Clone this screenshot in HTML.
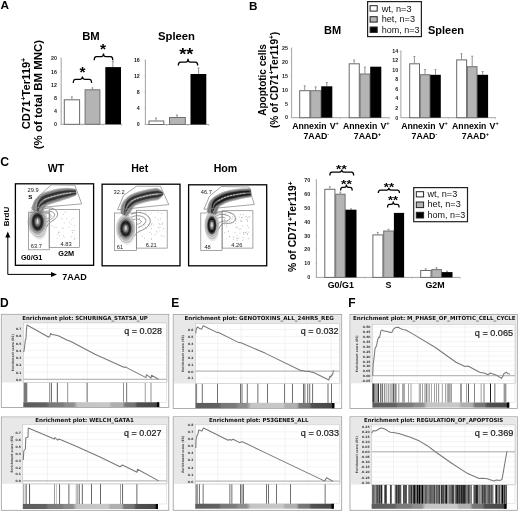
<!DOCTYPE html>
<html><head><meta charset="utf-8"><title>Figure</title>
<style>html,body{margin:0;padding:0;background:#fff;} svg{display:block;}</style>
</head><body>
<svg width="520" height="511" viewBox="0 0 520 511">
<defs><filter id="fb" x="-10%" y="-10%" width="120%" height="120%"><feGaussianBlur stdDeviation="0.45"/></filter></defs>
<rect width="520" height="511" fill="#fff"/>
<text x="0.6" y="9.3" font-size="11.8" font-weight="bold" text-anchor="start" fill="#000" font-family="'Liberation Sans', Arial, sans-serif" >A</text>
<text x="91" y="40" font-size="11.3" font-weight="bold" text-anchor="middle" fill="#000" font-family="'Liberation Sans', Arial, sans-serif" >BM</text>
<text x="176.5" y="40" font-size="11.3" font-weight="bold" text-anchor="middle" fill="#000" font-family="'Liberation Sans', Arial, sans-serif" >Spleen</text>
<text x="29.6" y="93.5" font-size="11.2" font-weight="bold" text-anchor="middle" fill="#000" font-family="'Liberation Sans', Arial, sans-serif" transform="rotate(-90 29.6 93.5)" >CD71<tspan font-size="7" dy="-4">+</tspan><tspan dy="4">Ter119</tspan><tspan font-size="7" dy="-4">+</tspan></text>
<text x="42" y="94.6" font-size="11.45" font-weight="bold" text-anchor="middle" fill="#000" font-family="'Liberation Sans', Arial, sans-serif" transform="rotate(-90 42 94.6)" >(% of total BM MNC)</text>
<line x1="61.20" y1="57.80" x2="61.20" y2="124.30" stroke="#999" stroke-width="0.9" />
<text x="56.900000000000006" y="126.14999999999999" font-size="5.3" font-weight="bold" text-anchor="end" fill="#222" font-family="'Liberation Sans', Arial, sans-serif" >0</text>
<line x1="60.00" y1="124.30" x2="61.20" y2="124.30" stroke="#bbb" stroke-width="0.6" />
<text x="56.900000000000006" y="113.00999999999999" font-size="5.3" font-weight="bold" text-anchor="end" fill="#222" font-family="'Liberation Sans', Arial, sans-serif" >4</text>
<line x1="60.00" y1="111.16" x2="61.20" y2="111.16" stroke="#bbb" stroke-width="0.6" />
<text x="56.900000000000006" y="99.87" font-size="5.3" font-weight="bold" text-anchor="end" fill="#222" font-family="'Liberation Sans', Arial, sans-serif" >8</text>
<line x1="60.00" y1="98.02" x2="61.20" y2="98.02" stroke="#bbb" stroke-width="0.6" />
<text x="56.900000000000006" y="86.72999999999999" font-size="5.3" font-weight="bold" text-anchor="end" fill="#222" font-family="'Liberation Sans', Arial, sans-serif" >12</text>
<line x1="60.00" y1="84.88" x2="61.20" y2="84.88" stroke="#bbb" stroke-width="0.6" />
<text x="56.900000000000006" y="73.59" font-size="5.3" font-weight="bold" text-anchor="end" fill="#222" font-family="'Liberation Sans', Arial, sans-serif" >16</text>
<line x1="60.00" y1="71.74" x2="61.20" y2="71.74" stroke="#bbb" stroke-width="0.6" />
<text x="56.900000000000006" y="60.45000000000001" font-size="5.3" font-weight="bold" text-anchor="end" fill="#222" font-family="'Liberation Sans', Arial, sans-serif" >20</text>
<line x1="60.00" y1="58.60" x2="61.20" y2="58.60" stroke="#bbb" stroke-width="0.6" />
<line x1="61.20" y1="124.30" x2="122.00" y2="124.30" stroke="#999" stroke-width="0.9" />
<line x1="82.10" y1="124.30" x2="82.10" y2="125.80" stroke="#aaa" stroke-width="0.6" />
<line x1="102.90" y1="124.30" x2="102.90" y2="125.80" stroke="#aaa" stroke-width="0.6" />
<line x1="121.80" y1="124.30" x2="121.80" y2="125.80" stroke="#aaa" stroke-width="0.6" />
<line x1="71.90" y1="96.80" x2="71.90" y2="99.30" stroke="#777" stroke-width="0.8" />
<line x1="70.90" y1="96.80" x2="72.90" y2="96.80" stroke="#777" stroke-width="0.7" />
<rect x="64.30" y="99.80" width="15.30" height="24.50" fill="#fff" stroke="#6a6a6a" stroke-width="1" />
<line x1="92.40" y1="87.80" x2="92.40" y2="89.30" stroke="#777" stroke-width="0.8" />
<line x1="91.40" y1="87.80" x2="93.40" y2="87.80" stroke="#777" stroke-width="0.7" />
<rect x="85.10" y="89.80" width="14.80" height="34.50" fill="#b4b4b4" stroke="#707070" stroke-width="1" />
<line x1="112.90" y1="61.40" x2="112.90" y2="67.10" stroke="#777" stroke-width="0.8" />
<line x1="111.90" y1="61.40" x2="113.90" y2="61.40" stroke="#777" stroke-width="0.7" />
<rect x="105.30" y="67.10" width="15.70" height="57.20" fill="#000" stroke="none" stroke-width="1" />
<text x="82.45" y="77.37" font-size="15.5" font-weight="bold" text-anchor="middle" fill="#000" font-family="'Liberation Sans', Arial, sans-serif" >*</text>
<path d="M73.3,83.1 Q73.3,79.3 75.5,79.3 L80.24999999999999,79.3 Q82.44999999999999,79.3 82.44999999999999,76.6 Q82.44999999999999,79.3 84.64999999999999,79.3 L89.39999999999999,79.3 Q91.6,79.3 91.6,83.1" fill="none" stroke="#000" stroke-width="1.25"/>
<text x="103" y="53.97" font-size="15.5" font-weight="bold" text-anchor="middle" fill="#000" font-family="'Liberation Sans', Arial, sans-serif" >*</text>
<path d="M94.2,60.2 Q94.2,56.7 96.4,56.7 L101.3,56.7 Q103.5,56.7 103.5,53.5 Q103.5,56.7 105.7,56.7 L110.6,56.7 Q112.8,56.7 112.8,60.2" fill="none" stroke="#000" stroke-width="1.25"/>
<line x1="145.40" y1="59.90" x2="145.40" y2="124.50" stroke="#999" stroke-width="0.9" />
<text x="139.8" y="126.35" font-size="5.3" font-weight="bold" text-anchor="end" fill="#222" font-family="'Liberation Sans', Arial, sans-serif" >0</text>
<line x1="144.20" y1="124.50" x2="145.40" y2="124.50" stroke="#bbb" stroke-width="0.6" />
<text x="139.8" y="110.225" font-size="5.3" font-weight="bold" text-anchor="end" fill="#222" font-family="'Liberation Sans', Arial, sans-serif" >4</text>
<line x1="144.20" y1="108.38" x2="145.40" y2="108.38" stroke="#bbb" stroke-width="0.6" />
<text x="139.8" y="94.1" font-size="5.3" font-weight="bold" text-anchor="end" fill="#222" font-family="'Liberation Sans', Arial, sans-serif" >8</text>
<line x1="144.20" y1="92.25" x2="145.40" y2="92.25" stroke="#bbb" stroke-width="0.6" />
<text x="139.8" y="77.975" font-size="5.3" font-weight="bold" text-anchor="end" fill="#222" font-family="'Liberation Sans', Arial, sans-serif" >12</text>
<line x1="144.20" y1="76.12" x2="145.40" y2="76.12" stroke="#bbb" stroke-width="0.6" />
<text x="139.8" y="61.85" font-size="5.3" font-weight="bold" text-anchor="end" fill="#222" font-family="'Liberation Sans', Arial, sans-serif" >16</text>
<line x1="144.20" y1="60.00" x2="145.40" y2="60.00" stroke="#bbb" stroke-width="0.6" />
<line x1="145.40" y1="124.50" x2="209.00" y2="124.50" stroke="#999" stroke-width="0.9" />
<line x1="166.60" y1="124.50" x2="166.60" y2="126.00" stroke="#aaa" stroke-width="0.6" />
<line x1="187.80" y1="124.50" x2="187.80" y2="126.00" stroke="#aaa" stroke-width="0.6" />
<line x1="208.80" y1="124.50" x2="208.80" y2="126.00" stroke="#aaa" stroke-width="0.6" />
<line x1="156.00" y1="118.00" x2="156.00" y2="120.50" stroke="#777" stroke-width="0.8" />
<line x1="155.00" y1="118.00" x2="157.00" y2="118.00" stroke="#777" stroke-width="0.7" />
<rect x="149.00" y="121.00" width="14.80" height="3.50" fill="#fff" stroke="#6a6a6a" stroke-width="1" />
<line x1="177.00" y1="115.00" x2="177.00" y2="117.00" stroke="#777" stroke-width="0.8" />
<line x1="176.00" y1="115.00" x2="178.00" y2="115.00" stroke="#777" stroke-width="0.7" />
<rect x="169.50" y="117.50" width="15.80" height="7.00" fill="#b4b4b4" stroke="#707070" stroke-width="1" />
<line x1="198.60" y1="68.00" x2="198.60" y2="74.00" stroke="#777" stroke-width="0.8" />
<line x1="197.60" y1="68.00" x2="199.60" y2="68.00" stroke="#777" stroke-width="0.7" />
<rect x="190.50" y="74.00" width="15.80" height="50.50" fill="#000" stroke="none" stroke-width="1" />
<text x="186.35" y="60.42" font-size="16" font-weight="bold" text-anchor="middle" fill="#000" font-family="'Liberation Sans', Arial, sans-serif" textLength="14.12" lengthAdjust="spacingAndGlyphs">**</text>
<path d="M178.3,65.5 Q178.3,62.2 180.5,62.2 L185.8,62.2 Q188.0,62.2 188.0,58.8 Q188.0,62.2 190.2,62.2 L195.5,62.2 Q197.7,62.2 197.7,65.5" fill="none" stroke="#000" stroke-width="1.25"/>
<text x="248.9" y="9.6" font-size="11.7" font-weight="bold" text-anchor="start" fill="#000" font-family="'Liberation Sans', Arial, sans-serif" >B</text>
<text x="332.5" y="34" font-size="11" font-weight="bold" text-anchor="middle" fill="#000" font-family="'Liberation Sans', Arial, sans-serif" >BM</text>
<text x="446" y="34" font-size="11" font-weight="bold" text-anchor="middle" fill="#000" font-family="'Liberation Sans', Arial, sans-serif" >Spleen</text>
<text x="266.1" y="79.9" font-size="10" font-weight="bold" text-anchor="middle" fill="#000" font-family="'Liberation Sans', Arial, sans-serif" transform="rotate(-90 266.1 79.9)" >Apoptotic cells</text>
<text x="277.8" y="79.9" font-size="10.2" font-weight="bold" text-anchor="middle" fill="#000" font-family="'Liberation Sans', Arial, sans-serif" transform="rotate(-90 277.8 79.9)" >(% of CD71<tspan font-size="6.5" dy="-3.5">+</tspan><tspan dy="3.5">Ter119</tspan><tspan font-size="6.5" dy="-3.5">+</tspan><tspan dy="3.5">)</tspan></text>
<line x1="291.60" y1="47.50" x2="291.60" y2="117.70" stroke="#999" stroke-width="0.9" />
<text x="288.0" y="119.44999999999999" font-size="5.3" font-weight="bold" text-anchor="end" fill="#222" font-family="'Liberation Sans', Arial, sans-serif" >0</text>
<line x1="290.40" y1="117.60" x2="291.60" y2="117.60" stroke="#bbb" stroke-width="0.6" />
<text x="288.0" y="105.63" font-size="5.3" font-weight="bold" text-anchor="end" fill="#222" font-family="'Liberation Sans', Arial, sans-serif" >5</text>
<line x1="290.40" y1="103.78" x2="291.60" y2="103.78" stroke="#bbb" stroke-width="0.6" />
<text x="288.0" y="91.80999999999999" font-size="5.3" font-weight="bold" text-anchor="end" fill="#222" font-family="'Liberation Sans', Arial, sans-serif" >10</text>
<line x1="290.40" y1="89.96" x2="291.60" y2="89.96" stroke="#bbb" stroke-width="0.6" />
<text x="288.0" y="77.98999999999998" font-size="5.3" font-weight="bold" text-anchor="end" fill="#222" font-family="'Liberation Sans', Arial, sans-serif" >15</text>
<line x1="290.40" y1="76.14" x2="291.60" y2="76.14" stroke="#bbb" stroke-width="0.6" />
<text x="288.0" y="64.16999999999999" font-size="5.3" font-weight="bold" text-anchor="end" fill="#222" font-family="'Liberation Sans', Arial, sans-serif" >20</text>
<line x1="290.40" y1="62.32" x2="291.60" y2="62.32" stroke="#bbb" stroke-width="0.6" />
<text x="288.0" y="50.35" font-size="5.3" font-weight="bold" text-anchor="end" fill="#222" font-family="'Liberation Sans', Arial, sans-serif" >25</text>
<line x1="290.40" y1="48.50" x2="291.60" y2="48.50" stroke="#bbb" stroke-width="0.6" />
<line x1="291.60" y1="117.70" x2="389.60" y2="117.70" stroke="#999" stroke-width="0.9" />
<line x1="340.40" y1="117.70" x2="340.40" y2="119.20" stroke="#aaa" stroke-width="0.6" />
<line x1="389.40" y1="117.70" x2="389.40" y2="119.20" stroke="#aaa" stroke-width="0.6" />
<line x1="304.70" y1="85.80" x2="304.70" y2="90.20" stroke="#777" stroke-width="0.8" />
<line x1="303.70" y1="85.80" x2="305.70" y2="85.80" stroke="#777" stroke-width="0.7" />
<rect x="299.70" y="90.70" width="10.20" height="27.00" fill="#fff" stroke="#6a6a6a" stroke-width="1" />
<line x1="315.70" y1="86.90" x2="315.70" y2="90.20" stroke="#777" stroke-width="0.8" />
<line x1="314.70" y1="86.90" x2="316.70" y2="86.90" stroke="#777" stroke-width="0.7" />
<rect x="310.70" y="90.70" width="10.20" height="27.00" fill="#b4b4b4" stroke="#707070" stroke-width="1" />
<line x1="326.80" y1="82.50" x2="326.80" y2="86.30" stroke="#777" stroke-width="0.8" />
<line x1="325.80" y1="82.50" x2="327.80" y2="82.50" stroke="#777" stroke-width="0.7" />
<rect x="321.20" y="86.30" width="11.10" height="31.40" fill="#000" stroke="none" stroke-width="1" />
<line x1="354.10" y1="60.00" x2="354.10" y2="63.30" stroke="#777" stroke-width="0.8" />
<line x1="353.10" y1="60.00" x2="355.10" y2="60.00" stroke="#777" stroke-width="0.7" />
<rect x="349.20" y="63.80" width="10.10" height="53.90" fill="#fff" stroke="#6a6a6a" stroke-width="1" />
<line x1="364.90" y1="67.10" x2="364.90" y2="73.50" stroke="#777" stroke-width="0.8" />
<line x1="363.90" y1="67.10" x2="365.90" y2="67.10" stroke="#777" stroke-width="0.7" />
<rect x="360.10" y="74.00" width="9.80" height="43.70" fill="#b4b4b4" stroke="#707070" stroke-width="1" />
<rect x="370.20" y="66.70" width="11.10" height="51.00" fill="#000" stroke="none" stroke-width="1" />
<line x1="400.90" y1="50.50" x2="400.90" y2="117.70" stroke="#999" stroke-width="0.9" />
<text x="398.09999999999997" y="119.55" font-size="5.3" font-weight="bold" text-anchor="end" fill="#222" font-family="'Liberation Sans', Arial, sans-serif" >0</text>
<line x1="399.70" y1="117.70" x2="400.90" y2="117.70" stroke="#bbb" stroke-width="0.6" />
<text x="398.09999999999997" y="110.02142857142857" font-size="5.3" font-weight="bold" text-anchor="end" fill="#222" font-family="'Liberation Sans', Arial, sans-serif" >2</text>
<line x1="399.70" y1="108.17" x2="400.90" y2="108.17" stroke="#bbb" stroke-width="0.6" />
<text x="398.09999999999997" y="100.49285714285713" font-size="5.3" font-weight="bold" text-anchor="end" fill="#222" font-family="'Liberation Sans', Arial, sans-serif" >4</text>
<line x1="399.70" y1="98.64" x2="400.90" y2="98.64" stroke="#bbb" stroke-width="0.6" />
<text x="398.09999999999997" y="90.96428571428571" font-size="5.3" font-weight="bold" text-anchor="end" fill="#222" font-family="'Liberation Sans', Arial, sans-serif" >6</text>
<line x1="399.70" y1="89.11" x2="400.90" y2="89.11" stroke="#bbb" stroke-width="0.6" />
<text x="398.09999999999997" y="81.43571428571428" font-size="5.3" font-weight="bold" text-anchor="end" fill="#222" font-family="'Liberation Sans', Arial, sans-serif" >8</text>
<line x1="399.70" y1="79.59" x2="400.90" y2="79.59" stroke="#bbb" stroke-width="0.6" />
<text x="398.09999999999997" y="71.90714285714284" font-size="5.3" font-weight="bold" text-anchor="end" fill="#222" font-family="'Liberation Sans', Arial, sans-serif" >10</text>
<line x1="399.70" y1="70.06" x2="400.90" y2="70.06" stroke="#bbb" stroke-width="0.6" />
<text x="398.09999999999997" y="62.378571428571426" font-size="5.3" font-weight="bold" text-anchor="end" fill="#222" font-family="'Liberation Sans', Arial, sans-serif" >12</text>
<line x1="399.70" y1="60.53" x2="400.90" y2="60.53" stroke="#bbb" stroke-width="0.6" />
<text x="398.09999999999997" y="52.85" font-size="5.3" font-weight="bold" text-anchor="end" fill="#222" font-family="'Liberation Sans', Arial, sans-serif" >14</text>
<line x1="399.70" y1="51.00" x2="400.90" y2="51.00" stroke="#bbb" stroke-width="0.6" />
<line x1="400.90" y1="117.70" x2="495.80" y2="117.70" stroke="#999" stroke-width="0.9" />
<line x1="448.40" y1="117.70" x2="448.40" y2="119.20" stroke="#aaa" stroke-width="0.6" />
<line x1="495.60" y1="117.70" x2="495.60" y2="119.20" stroke="#aaa" stroke-width="0.6" />
<line x1="414.40" y1="56.50" x2="414.40" y2="63.30" stroke="#777" stroke-width="0.8" />
<line x1="413.40" y1="56.50" x2="415.40" y2="56.50" stroke="#777" stroke-width="0.7" />
<rect x="409.70" y="63.80" width="9.80" height="53.90" fill="#fff" stroke="#6a6a6a" stroke-width="1" />
<line x1="425.00" y1="69.60" x2="425.00" y2="74.20" stroke="#777" stroke-width="0.8" />
<line x1="424.00" y1="69.60" x2="426.00" y2="69.60" stroke="#777" stroke-width="0.7" />
<rect x="420.30" y="74.70" width="9.60" height="43.00" fill="#b4b4b4" stroke="#707070" stroke-width="1" />
<line x1="435.50" y1="69.60" x2="435.50" y2="74.80" stroke="#777" stroke-width="0.8" />
<line x1="434.50" y1="69.60" x2="436.50" y2="69.60" stroke="#777" stroke-width="0.7" />
<rect x="430.20" y="74.80" width="10.60" height="42.90" fill="#000" stroke="none" stroke-width="1" />
<line x1="461.50" y1="53.70" x2="461.50" y2="59.40" stroke="#777" stroke-width="0.8" />
<line x1="460.50" y1="53.70" x2="462.50" y2="53.70" stroke="#777" stroke-width="0.7" />
<rect x="456.70" y="59.90" width="9.90" height="57.80" fill="#fff" stroke="#6a6a6a" stroke-width="1" />
<line x1="472.20" y1="56.20" x2="472.20" y2="66.20" stroke="#777" stroke-width="0.8" />
<line x1="471.20" y1="56.20" x2="473.20" y2="56.20" stroke="#777" stroke-width="0.7" />
<rect x="467.40" y="66.70" width="9.60" height="51.00" fill="#b4b4b4" stroke="#707070" stroke-width="1" />
<line x1="482.70" y1="71.50" x2="482.70" y2="74.80" stroke="#777" stroke-width="0.8" />
<line x1="481.70" y1="71.50" x2="483.70" y2="71.50" stroke="#777" stroke-width="0.7" />
<rect x="477.30" y="74.80" width="10.80" height="42.90" fill="#000" stroke="none" stroke-width="1" />
<text x="292.2" y="128.5" font-size="8.8" font-weight="bold" text-anchor="start" fill="#000" font-family="'Liberation Sans', Arial, sans-serif" textLength="34.3" lengthAdjust="spacingAndGlyphs">Annexin</text>
<text x="329.7" y="128.5" font-size="8.8" font-weight="bold" text-anchor="start" fill="#000" font-family="'Liberation Sans', Arial, sans-serif" >V<tspan font-size="5.6" dy="-3.4">+</tspan></text>
<text x="303.4" y="139.1" font-size="8.8" font-weight="bold" text-anchor="start" fill="#000" font-family="'Liberation Sans', Arial, sans-serif" >7AAD<tspan font-size="5.6" dy="-3.4">-</tspan></text>
<text x="342.9" y="128.5" font-size="8.8" font-weight="bold" text-anchor="start" fill="#000" font-family="'Liberation Sans', Arial, sans-serif" textLength="34.3" lengthAdjust="spacingAndGlyphs">Annexin</text>
<text x="380.4" y="128.5" font-size="8.8" font-weight="bold" text-anchor="start" fill="#000" font-family="'Liberation Sans', Arial, sans-serif" >V<tspan font-size="5.6" dy="-3.4">+</tspan></text>
<text x="353.8" y="139.1" font-size="8.8" font-weight="bold" text-anchor="start" fill="#000" font-family="'Liberation Sans', Arial, sans-serif" >7AAD<tspan font-size="5.6" dy="-3.4">+</tspan></text>
<text x="401.2" y="128.5" font-size="8.8" font-weight="bold" text-anchor="start" fill="#000" font-family="'Liberation Sans', Arial, sans-serif" textLength="34.3" lengthAdjust="spacingAndGlyphs">Annexin</text>
<text x="438.7" y="128.5" font-size="8.8" font-weight="bold" text-anchor="start" fill="#000" font-family="'Liberation Sans', Arial, sans-serif" >V<tspan font-size="5.6" dy="-3.4">+</tspan></text>
<text x="411.5" y="139.1" font-size="8.8" font-weight="bold" text-anchor="start" fill="#000" font-family="'Liberation Sans', Arial, sans-serif" >7AAD<tspan font-size="5.6" dy="-3.4">-</tspan></text>
<text x="452.1" y="128.5" font-size="8.8" font-weight="bold" text-anchor="start" fill="#000" font-family="'Liberation Sans', Arial, sans-serif" textLength="34.3" lengthAdjust="spacingAndGlyphs">Annexin</text>
<text x="489.6" y="128.5" font-size="8.8" font-weight="bold" text-anchor="start" fill="#000" font-family="'Liberation Sans', Arial, sans-serif" >V<tspan font-size="5.6" dy="-3.4">+</tspan></text>
<text x="461.8" y="139.1" font-size="8.8" font-weight="bold" text-anchor="start" fill="#000" font-family="'Liberation Sans', Arial, sans-serif" >7AAD<tspan font-size="5.6" dy="-3.4">+</tspan></text>
<rect x="367.60" y="1.60" width="53.80" height="35.00" fill="#fff" stroke="#222" stroke-width="1.2" />
<rect x="370.10" y="5.70" width="7.10" height="5.40" fill="#fff" stroke="#222" stroke-width="1" />
<text x="381.70000000000005" y="11.5" font-size="8.6" font-weight="normal" text-anchor="start" fill="#111" font-family="'Liberation Sans', Arial, sans-serif" textLength="29.8" lengthAdjust="spacingAndGlyphs">wt, n=3</text>
<rect x="370.10" y="16.70" width="7.10" height="5.40" fill="#b4b4b4" stroke="#222" stroke-width="1" />
<text x="381.70000000000005" y="21.9" font-size="8.6" font-weight="normal" text-anchor="start" fill="#111" font-family="'Liberation Sans', Arial, sans-serif" textLength="33.3" lengthAdjust="spacingAndGlyphs">het, n=3</text>
<rect x="370.10" y="27.00" width="7.10" height="5.40" fill="#000" stroke="#222" stroke-width="1" />
<text x="381.70000000000005" y="32.6" font-size="8.6" font-weight="normal" text-anchor="start" fill="#111" font-family="'Liberation Sans', Arial, sans-serif" textLength="37.8" lengthAdjust="spacingAndGlyphs">hom, n=3</text>
<text x="0.2" y="165.8" font-size="12.2" font-weight="bold" text-anchor="start" fill="#000" font-family="'Liberation Sans', Arial, sans-serif" >C</text>
<text x="56" y="172.3" font-size="10.6" font-weight="bold" text-anchor="middle" fill="#000" font-family="'Liberation Sans', Arial, sans-serif" >WT</text>
<text x="139.7" y="172.2" font-size="10.6" font-weight="bold" text-anchor="middle" fill="#000" font-family="'Liberation Sans', Arial, sans-serif" >Het</text>
<text x="225.5" y="172.2" font-size="10.6" font-weight="bold" text-anchor="middle" fill="#000" font-family="'Liberation Sans', Arial, sans-serif" >Hom</text>
<rect x="15.40" y="183.80" width="78.20" height="81.50" fill="#fff" stroke="#000" stroke-width="1.3" />
<g filter="url(#fb)">
<circle cx="72.6" cy="232.7" r="0.45" fill="#8a8a8a"/>
<circle cx="61.9" cy="218.8" r="0.45" fill="#8a8a8a"/>
<circle cx="64.2" cy="222.9" r="0.45" fill="#8a8a8a"/>
<circle cx="71.1" cy="220.1" r="0.45" fill="#8a8a8a"/>
<circle cx="63.3" cy="227.9" r="0.45" fill="#8a8a8a"/>
<circle cx="74.3" cy="225.7" r="0.45" fill="#8a8a8a"/>
<circle cx="58.4" cy="232.7" r="0.45" fill="#8a8a8a"/>
<circle cx="66.9" cy="218.6" r="0.45" fill="#8a8a8a"/>
<circle cx="74.3" cy="239.0" r="0.45" fill="#8a8a8a"/>
<circle cx="71.8" cy="236.8" r="0.45" fill="#8a8a8a"/>
<circle cx="59.1" cy="232.0" r="0.45" fill="#8a8a8a"/>
<circle cx="74.0" cy="230.7" r="0.45" fill="#8a8a8a"/>
<circle cx="63.2" cy="214.4" r="0.45" fill="#8a8a8a"/>
<circle cx="62.2" cy="228.6" r="0.45" fill="#8a8a8a"/>
<circle cx="74.4" cy="238.6" r="0.45" fill="#8a8a8a"/>
<circle cx="63.3" cy="235.7" r="0.45" fill="#8a8a8a"/>
<circle cx="57.8" cy="234.1" r="0.45" fill="#8a8a8a"/>
<circle cx="65.1" cy="212.0" r="0.45" fill="#8a8a8a"/>
<circle cx="69.5" cy="222.7" r="0.45" fill="#8a8a8a"/>
<circle cx="72.2" cy="230.2" r="0.45" fill="#8a8a8a"/>
<circle cx="51.2" cy="225.4" r="0.45" fill="#8a8a8a"/>
<circle cx="73.2" cy="218.4" r="0.45" fill="#8a8a8a"/>
<circle cx="59.5" cy="235.9" r="0.45" fill="#8a8a8a"/>
<circle cx="56.1" cy="227.4" r="0.45" fill="#8a8a8a"/>
<circle cx="57.3" cy="238.6" r="0.45" fill="#8a8a8a"/>
<circle cx="71.6" cy="224.1" r="0.45" fill="#8a8a8a"/>
<circle cx="53.2" cy="220.5" r="0.45" fill="#8a8a8a"/>
<circle cx="64.1" cy="237.6" r="0.45" fill="#8a8a8a"/>
<circle cx="54.0" cy="227.0" r="0.45" fill="#8a8a8a"/>
<circle cx="69.1" cy="226.9" r="0.45" fill="#8a8a8a"/>
<path d="M42,210 C48,206.5 56,207.5 57.5,213 C58.5,218 53,220 50,222.5 C47,224.5 46,229 43,234" fill="none" stroke="#6e6e6e" stroke-width="0.75"/>
<path d="M42,212.5 C47,210 53,211 54.5,214 C55.5,217 51,219 48,221 C46,222.5 45,226 43,229.5" fill="none" stroke="#777" stroke-width="0.75"/>
<path d="M42,214.5 C45,213 50,213 51,215.5 C52,217.5 48,218.5 45.5,219.5" fill="none" stroke="#888" stroke-width="0.75"/>
<path d="M36,209 C38,206 41,205 44,207" fill="none" stroke="#888" stroke-width="0.75"/>
<ellipse cx="39.5" cy="230" rx="7.50" ry="10.00" fill="#ececec"/>
<ellipse cx="39.5" cy="230" rx="6.00" ry="8.00" fill="#d0d0d0"/>
<ellipse cx="39.5" cy="230" rx="4.50" ry="6.00" fill="#b4b4b4"/>
<ellipse cx="37.6" cy="221.8" rx="9.60" ry="14.80" fill="#ececec" stroke="#8a8a8a" stroke-width="0.5"/>
<ellipse cx="37.6" cy="221.8" rx="8.45" ry="13.02" fill="#d2d2d2" stroke="#8a8a8a" stroke-width="0.5"/>
<ellipse cx="37.6" cy="221.8" rx="7.49" ry="11.54" fill="#ababab" stroke="#666" stroke-width="0.5"/>
<ellipse cx="37.6" cy="221.8" rx="6.53" ry="10.06" fill="#6a6a6a"/>
<ellipse cx="37.6" cy="221.8" rx="5.57" ry="8.58" fill="#2e2e2e"/>
<ellipse cx="37.6" cy="221.8" rx="4.61" ry="7.10" fill="#1c1c1c"/>
<ellipse cx="37.6" cy="221.8" rx="3.65" ry="5.62" fill="#444"/>
<ellipse cx="37.6" cy="221.8" rx="2.69" ry="4.14" fill="#777"/>
<ellipse cx="37.6" cy="221.8" rx="1.63" ry="2.52" fill="#aaa"/>
<path d="M42.89,212.53 L43.04,212.16 L43.22,211.67 L43.40,211.17 L43.59,210.64 L43.78,210.08 L43.98,209.53 L44.18,208.99 L44.38,208.48 L44.58,208.03 L44.76,207.68 L44.90,207.46 L44.99,207.38 L45.05,207.31 L45.14,207.21 L45.23,207.11 L45.34,207.00 L45.46,206.89 L45.60,206.76 L45.77,206.63 L45.96,206.47 L46.18,206.31 L46.42,206.12 L46.70,205.91 L47.02,205.68 L47.33,205.43 L47.59,205.22 L47.75,205.09 L47.84,205.02 L47.87,205.00 L47.87,205.00 L47.89,204.99 L47.97,204.95 L48.13,204.87 L48.41,204.75 L48.79,204.60 L49.28,204.42 L49.88,204.18 L50.60,203.91 L51.42,203.62 L52.33,203.31 L53.29,202.99 L54.28,202.66 L55.31,202.34 L56.33,202.02 L57.33,201.72 L58.31,201.43 L59.23,201.16 L60.07,200.92 L60.84,200.64 L61.59,200.37 L62.34,200.12 L63.07,199.87 L63.80,199.64 L64.53,199.41 L65.25,199.19 L65.96,198.97 L66.67,198.76 L67.38,198.55 L68.09,198.34 L68.79,198.14 L69.45,197.85 L70.13,197.56 L70.84,197.28 L71.55,197.00 L72.26,196.73 L72.95,196.46 L73.62,196.20 L74.24,195.94 L74.82,195.69 L75.33,195.45 L75.78,195.21 L76.14,194.98 L75.46,189.42 L75.07,189.28 L74.60,189.15 L74.05,189.03 L73.43,188.92 L72.75,188.81 L72.02,188.72 L71.26,188.62 L70.46,188.54 L69.65,188.46 L68.83,188.39 L68.01,188.32 L67.21,188.26 L66.46,188.29 L65.72,188.32 L64.95,188.35 L64.17,188.39 L63.36,188.44 L62.54,188.49 L61.69,188.55 L60.82,188.63 L59.93,188.72 L59.02,188.82 L58.08,188.94 L57.13,189.08 L56.16,189.30 L55.13,189.55 L54.06,189.81 L52.97,190.09 L51.86,190.38 L50.75,190.67 L49.66,190.97 L48.60,191.27 L47.58,191.56 L46.62,191.85 L45.73,192.12 L44.92,192.38 L44.20,192.65 L43.56,192.91 L42.95,193.17 L42.36,193.44 L41.79,193.73 L41.23,194.05 L40.72,194.38 L40.26,194.71 L39.87,195.00 L39.54,195.26 L39.26,195.49 L38.98,195.72 L38.66,196.00 L38.30,196.31 L37.92,196.66 L37.51,197.04 L37.08,197.45 L36.64,197.91 L36.18,198.41 L35.73,198.95 L35.28,199.54 L34.84,200.18 L34.42,200.86 L34.01,201.62 L33.65,202.48 L33.36,203.33 L33.12,204.14 L32.92,204.94 L32.74,205.71 L32.59,206.45 L32.45,207.15 L32.34,207.79 L32.25,208.37 L32.18,208.85 L32.14,209.20 L32.11,209.47 Z" fill="#dadada" stroke="none"/>
<path d="M42.89,212.53 L43.04,212.16 L43.22,211.67 L43.40,211.17 L43.59,210.64 L43.78,210.08 L43.98,209.53 L44.18,208.99 L44.38,208.48 L44.58,208.03 L44.76,207.68 L44.90,207.46 L44.99,207.38 L45.05,207.31 L45.14,207.21 L45.23,207.11 L45.34,207.00 L45.46,206.89 L45.60,206.76 L45.77,206.63 L45.96,206.47 L46.18,206.31 L46.42,206.12 L46.70,205.91 L47.02,205.68 L47.33,205.43 L47.59,205.22 L47.75,205.09 L47.84,205.02 L47.87,205.00 L47.87,205.00 L47.89,204.99 L47.97,204.95 L48.13,204.87 L48.41,204.75 L48.79,204.60 L49.28,204.42 L49.88,204.18 L50.60,203.91 L51.42,203.62 L52.33,203.31 L53.29,202.99 L54.28,202.66 L55.31,202.34 L56.33,202.02 L57.33,201.72 L58.31,201.43 L59.23,201.16 L60.07,200.92 L60.84,200.64 L61.59,200.37 L62.34,200.12 L63.07,199.87 L63.80,199.64 L64.53,199.41 L65.25,199.19 L65.96,198.97 L66.67,198.76 L67.38,198.55 L68.09,198.34 L68.79,198.14 L69.45,197.85 L70.13,197.56 L70.84,197.28 L71.55,197.00 L72.26,196.73 L72.95,196.46 L73.62,196.20 L74.24,195.94 L74.82,195.69 L75.33,195.45 L75.78,195.21 L76.14,194.98 L75.46,189.42 L75.07,189.28 L74.60,189.15 L74.05,189.03 L73.43,188.92 L72.75,188.81 L72.02,188.72 L71.26,188.62 L70.46,188.54 L69.65,188.46 L68.83,188.39 L68.01,188.32 L67.21,188.26 L66.46,188.29 L65.72,188.32 L64.95,188.35 L64.17,188.39 L63.36,188.44 L62.54,188.49 L61.69,188.55 L60.82,188.63 L59.93,188.72 L59.02,188.82 L58.08,188.94 L57.13,189.08 L56.16,189.30 L55.13,189.55 L54.06,189.81 L52.97,190.09 L51.86,190.38 L50.75,190.67 L49.66,190.97 L48.60,191.27 L47.58,191.56 L46.62,191.85 L45.73,192.12 L44.92,192.38 L44.20,192.65 L43.56,192.91 L42.95,193.17 L42.36,193.44 L41.79,193.73 L41.23,194.05 L40.72,194.38 L40.26,194.71 L39.87,195.00 L39.54,195.26 L39.26,195.49 L38.98,195.72 L38.66,196.00 L38.30,196.31 L37.92,196.66 L37.51,197.04 L37.08,197.45 L36.64,197.91 L36.18,198.41 L35.73,198.95 L35.28,199.54 L34.84,200.18 L34.42,200.86 L34.01,201.62 L33.65,202.48 L33.36,203.33 L33.12,204.14 L32.92,204.94 L32.74,205.71 L32.59,206.45 L32.45,207.15 L32.34,207.79 L32.25,208.37 L32.18,208.85 L32.14,209.20 L32.11,209.47 Z" fill="none" stroke="#8a8a8a" stroke-width="0.5"/>
<path d="M42.24,212.35 L42.39,211.98 L42.56,211.50 L42.73,211.00 L42.91,210.47 L43.10,209.91 L43.29,209.34 L43.49,208.79 L43.69,208.27 L43.89,207.80 L44.07,207.41 L44.22,207.16 L44.33,207.03 L44.41,206.92 L44.52,206.79 L44.63,206.65 L44.76,206.52 L44.90,206.38 L45.06,206.23 L45.25,206.08 L45.45,205.91 L45.68,205.73 L45.94,205.53 L46.22,205.32 L46.54,205.08 L46.85,204.83 L47.10,204.62 L47.28,204.48 L47.38,204.40 L47.44,204.36 L47.47,204.34 L47.52,204.31 L47.63,204.26 L47.82,204.17 L48.12,204.04 L48.52,203.88 L49.02,203.69 L49.63,203.45 L50.36,203.19 L51.19,202.89 L52.10,202.59 L53.07,202.27 L54.07,201.94 L55.10,201.62 L56.13,201.31 L57.14,201.00 L58.12,200.72 L59.04,200.45 L59.89,200.21 L60.67,199.94 L61.44,199.68 L62.19,199.43 L62.94,199.20 L63.68,198.97 L64.41,198.75 L65.13,198.54 L65.85,198.34 L66.57,198.14 L67.28,197.94 L68.00,197.74 L68.69,197.55 L69.37,197.28 L70.06,197.01 L70.77,196.75 L71.49,196.49 L72.20,196.24 L72.90,196.00 L73.56,195.75 L74.19,195.52 L74.77,195.29 L75.29,195.07 L75.74,194.85 L76.10,194.65 L75.50,189.75 L75.12,189.64 L74.65,189.53 L74.10,189.43 L73.48,189.34 L72.80,189.26 L72.08,189.18 L71.32,189.11 L70.53,189.05 L69.72,188.99 L68.91,188.94 L68.10,188.89 L67.31,188.85 L66.56,188.89 L65.82,188.93 L65.05,188.98 L64.27,189.03 L63.47,189.08 L62.66,189.15 L61.82,189.22 L60.96,189.30 L60.08,189.40 L59.17,189.52 L58.25,189.64 L57.31,189.79 L56.34,190.01 L55.32,190.26 L54.26,190.52 L53.17,190.80 L52.07,191.09 L50.96,191.39 L49.88,191.69 L48.82,191.99 L47.81,192.29 L46.86,192.57 L45.98,192.85 L45.18,193.11 L44.48,193.37 L43.85,193.62 L43.26,193.87 L42.69,194.13 L42.15,194.41 L41.63,194.71 L41.15,195.02 L40.71,195.33 L40.34,195.61 L40.02,195.86 L39.75,196.09 L39.46,196.32 L39.14,196.59 L38.79,196.90 L38.41,197.24 L38.02,197.60 L37.60,198.00 L37.17,198.44 L36.74,198.92 L36.31,199.44 L35.88,200.00 L35.46,200.60 L35.06,201.25 L34.67,201.97 L34.32,202.78 L34.04,203.59 L33.81,204.38 L33.60,205.15 L33.43,205.90 L33.27,206.63 L33.13,207.32 L33.01,207.96 L32.92,208.54 L32.84,209.02 L32.79,209.38 L32.76,209.65 Z" fill="#bebebe" stroke="none"/>
<path d="M42.24,212.35 L42.39,211.98 L42.56,211.50 L42.73,211.00 L42.91,210.47 L43.10,209.91 L43.29,209.34 L43.49,208.79 L43.69,208.27 L43.89,207.80 L44.07,207.41 L44.22,207.16 L44.33,207.03 L44.41,206.92 L44.52,206.79 L44.63,206.65 L44.76,206.52 L44.90,206.38 L45.06,206.23 L45.25,206.08 L45.45,205.91 L45.68,205.73 L45.94,205.53 L46.22,205.32 L46.54,205.08 L46.85,204.83 L47.10,204.62 L47.28,204.48 L47.38,204.40 L47.44,204.36 L47.47,204.34 L47.52,204.31 L47.63,204.26 L47.82,204.17 L48.12,204.04 L48.52,203.88 L49.02,203.69 L49.63,203.45 L50.36,203.19 L51.19,202.89 L52.10,202.59 L53.07,202.27 L54.07,201.94 L55.10,201.62 L56.13,201.31 L57.14,201.00 L58.12,200.72 L59.04,200.45 L59.89,200.21 L60.67,199.94 L61.44,199.68 L62.19,199.43 L62.94,199.20 L63.68,198.97 L64.41,198.75 L65.13,198.54 L65.85,198.34 L66.57,198.14 L67.28,197.94 L68.00,197.74 L68.69,197.55 L69.37,197.28 L70.06,197.01 L70.77,196.75 L71.49,196.49 L72.20,196.24 L72.90,196.00 L73.56,195.75 L74.19,195.52 L74.77,195.29 L75.29,195.07 L75.74,194.85 L76.10,194.65 L75.50,189.75 L75.12,189.64 L74.65,189.53 L74.10,189.43 L73.48,189.34 L72.80,189.26 L72.08,189.18 L71.32,189.11 L70.53,189.05 L69.72,188.99 L68.91,188.94 L68.10,188.89 L67.31,188.85 L66.56,188.89 L65.82,188.93 L65.05,188.98 L64.27,189.03 L63.47,189.08 L62.66,189.15 L61.82,189.22 L60.96,189.30 L60.08,189.40 L59.17,189.52 L58.25,189.64 L57.31,189.79 L56.34,190.01 L55.32,190.26 L54.26,190.52 L53.17,190.80 L52.07,191.09 L50.96,191.39 L49.88,191.69 L48.82,191.99 L47.81,192.29 L46.86,192.57 L45.98,192.85 L45.18,193.11 L44.48,193.37 L43.85,193.62 L43.26,193.87 L42.69,194.13 L42.15,194.41 L41.63,194.71 L41.15,195.02 L40.71,195.33 L40.34,195.61 L40.02,195.86 L39.75,196.09 L39.46,196.32 L39.14,196.59 L38.79,196.90 L38.41,197.24 L38.02,197.60 L37.60,198.00 L37.17,198.44 L36.74,198.92 L36.31,199.44 L35.88,200.00 L35.46,200.60 L35.06,201.25 L34.67,201.97 L34.32,202.78 L34.04,203.59 L33.81,204.38 L33.60,205.15 L33.43,205.90 L33.27,206.63 L33.13,207.32 L33.01,207.96 L32.92,208.54 L32.84,209.02 L32.79,209.38 L32.76,209.65 Z" fill="none" stroke="#777" stroke-width="0.5"/>
<path d="M41.59,212.17 L41.74,211.80 L41.90,211.33 L42.06,210.83 L42.24,210.29 L42.42,209.73 L42.61,209.16 L42.81,208.59 L43.01,208.05 L43.20,207.56 L43.39,207.15 L43.55,206.86 L43.67,206.69 L43.78,206.53 L43.90,206.36 L44.04,206.20 L44.18,206.04 L44.35,205.87 L44.53,205.70 L44.72,205.53 L44.94,205.34 L45.19,205.15 L45.45,204.94 L45.74,204.72 L46.06,204.48 L46.36,204.23 L46.62,204.03 L46.81,203.88 L46.93,203.78 L47.01,203.73 L47.07,203.68 L47.16,203.64 L47.29,203.56 L47.51,203.46 L47.82,203.33 L48.24,203.17 L48.76,202.97 L49.39,202.73 L50.12,202.46 L50.96,202.17 L51.88,201.86 L52.85,201.55 L53.86,201.23 L54.89,200.91 L55.92,200.59 L56.94,200.29 L57.93,200.00 L58.86,199.74 L59.72,199.50 L60.51,199.24 L61.28,198.99 L62.05,198.75 L62.80,198.52 L63.55,198.31 L64.29,198.10 L65.02,197.90 L65.75,197.70 L66.47,197.51 L67.18,197.32 L67.90,197.14 L68.60,196.95 L69.28,196.70 L69.98,196.46 L70.70,196.22 L71.42,195.99 L72.14,195.76 L72.84,195.53 L73.51,195.31 L74.14,195.10 L74.73,194.89 L75.25,194.69 L75.70,194.50 L76.06,194.31 L75.54,190.09 L75.16,189.99 L74.69,189.91 L74.15,189.83 L73.53,189.76 L72.86,189.70 L72.14,189.64 L71.38,189.60 L70.59,189.55 L69.79,189.52 L68.99,189.49 L68.18,189.47 L67.40,189.45 L66.66,189.50 L65.92,189.55 L65.16,189.60 L64.38,189.66 L63.59,189.73 L62.77,189.80 L61.94,189.88 L61.09,189.98 L60.22,190.09 L59.33,190.21 L58.42,190.35 L57.48,190.50 L56.53,190.72 L55.51,190.97 L54.46,191.24 L53.37,191.52 L52.27,191.81 L51.18,192.11 L50.10,192.41 L49.05,192.71 L48.04,193.01 L47.10,193.30 L46.23,193.57 L45.44,193.83 L44.75,194.08 L44.14,194.33 L43.57,194.57 L43.03,194.82 L42.52,195.08 L42.03,195.37 L41.57,195.66 L41.17,195.94 L40.81,196.21 L40.51,196.46 L40.23,196.68 L39.94,196.92 L39.63,197.19 L39.28,197.49 L38.91,197.81 L38.52,198.17 L38.12,198.55 L37.71,198.97 L37.30,199.43 L36.88,199.92 L36.47,200.45 L36.08,201.02 L35.70,201.63 L35.33,202.31 L35.00,203.08 L34.72,203.85 L34.49,204.61 L34.29,205.36 L34.11,206.10 L33.95,206.82 L33.81,207.50 L33.69,208.13 L33.59,208.70 L33.50,209.19 L33.45,209.55 L33.41,209.83 Z" fill="#949494" stroke="none"/>
<path d="M41.59,212.17 L41.74,211.80 L41.90,211.33 L42.06,210.83 L42.24,210.29 L42.42,209.73 L42.61,209.16 L42.81,208.59 L43.01,208.05 L43.20,207.56 L43.39,207.15 L43.55,206.86 L43.67,206.69 L43.78,206.53 L43.90,206.36 L44.04,206.20 L44.18,206.04 L44.35,205.87 L44.53,205.70 L44.72,205.53 L44.94,205.34 L45.19,205.15 L45.45,204.94 L45.74,204.72 L46.06,204.48 L46.36,204.23 L46.62,204.03 L46.81,203.88 L46.93,203.78 L47.01,203.73 L47.07,203.68 L47.16,203.64 L47.29,203.56 L47.51,203.46 L47.82,203.33 L48.24,203.17 L48.76,202.97 L49.39,202.73 L50.12,202.46 L50.96,202.17 L51.88,201.86 L52.85,201.55 L53.86,201.23 L54.89,200.91 L55.92,200.59 L56.94,200.29 L57.93,200.00 L58.86,199.74 L59.72,199.50 L60.51,199.24 L61.28,198.99 L62.05,198.75 L62.80,198.52 L63.55,198.31 L64.29,198.10 L65.02,197.90 L65.75,197.70 L66.47,197.51 L67.18,197.32 L67.90,197.14 L68.60,196.95 L69.28,196.70 L69.98,196.46 L70.70,196.22 L71.42,195.99 L72.14,195.76 L72.84,195.53 L73.51,195.31 L74.14,195.10 L74.73,194.89 L75.25,194.69 L75.70,194.50 L76.06,194.31 L75.54,190.09 L75.16,189.99 L74.69,189.91 L74.15,189.83 L73.53,189.76 L72.86,189.70 L72.14,189.64 L71.38,189.60 L70.59,189.55 L69.79,189.52 L68.99,189.49 L68.18,189.47 L67.40,189.45 L66.66,189.50 L65.92,189.55 L65.16,189.60 L64.38,189.66 L63.59,189.73 L62.77,189.80 L61.94,189.88 L61.09,189.98 L60.22,190.09 L59.33,190.21 L58.42,190.35 L57.48,190.50 L56.53,190.72 L55.51,190.97 L54.46,191.24 L53.37,191.52 L52.27,191.81 L51.18,192.11 L50.10,192.41 L49.05,192.71 L48.04,193.01 L47.10,193.30 L46.23,193.57 L45.44,193.83 L44.75,194.08 L44.14,194.33 L43.57,194.57 L43.03,194.82 L42.52,195.08 L42.03,195.37 L41.57,195.66 L41.17,195.94 L40.81,196.21 L40.51,196.46 L40.23,196.68 L39.94,196.92 L39.63,197.19 L39.28,197.49 L38.91,197.81 L38.52,198.17 L38.12,198.55 L37.71,198.97 L37.30,199.43 L36.88,199.92 L36.47,200.45 L36.08,201.02 L35.70,201.63 L35.33,202.31 L35.00,203.08 L34.72,203.85 L34.49,204.61 L34.29,205.36 L34.11,206.10 L33.95,206.82 L33.81,207.50 L33.69,208.13 L33.59,208.70 L33.50,209.19 L33.45,209.55 L33.41,209.83 Z" fill="none" stroke="#555" stroke-width="0.5"/>
<path d="M38.36,211.25 L38.46,210.91 L38.58,210.49 L38.72,209.99 L38.86,209.44 L39.19,208.89 L39.53,208.33 L39.90,207.76 L40.27,207.21 L40.64,206.70 L41.01,206.25 L41.36,205.89 L41.67,205.63 L41.95,205.43 L42.25,205.24 L42.55,205.07 L42.85,204.92 L43.15,204.78 L43.46,204.65 L43.78,204.53 L44.11,204.41 L44.45,204.29 L44.81,204.17 L45.18,204.04 L45.57,203.89 L45.88,203.64 L46.14,203.43 L46.33,203.27 L46.47,203.16 L46.58,203.09 L46.67,203.03 L46.79,202.96 L46.96,202.87 L47.20,202.76 L47.53,202.62 L47.97,202.45 L48.50,202.25 L49.14,202.01 L49.89,201.74 L50.73,201.45 L51.66,201.14 L52.63,200.83 L53.65,200.51 L54.68,200.19 L55.72,199.88 L56.75,199.57 L57.74,199.29 L58.67,199.03 L59.54,198.79 L60.34,198.53 L61.13,198.29 L61.90,198.07 L62.67,197.85 L63.42,197.64 L64.17,197.44 L64.91,197.25 L65.64,197.07 L66.36,196.89 L67.08,196.71 L67.80,196.53 L68.50,196.36 L69.19,196.13 L69.90,195.91 L70.63,195.69 L71.36,195.48 L72.08,195.27 L72.78,195.07 L73.46,194.87 L74.10,194.68 L74.68,194.49 L75.20,194.31 L75.66,194.14 L76.02,193.98 L75.58,190.42 L75.20,190.35 L74.74,190.29 L74.19,190.23 L73.58,190.18 L72.91,190.14 L72.19,190.11 L71.44,190.08 L70.66,190.06 L69.87,190.05 L69.07,190.04 L68.27,190.04 L67.50,190.04 L66.76,190.10 L66.02,190.16 L65.26,190.23 L64.49,190.30 L63.70,190.37 L62.89,190.46 L62.07,190.55 L61.23,190.65 L60.37,190.77 L59.48,190.90 L58.58,191.05 L57.66,191.21 L56.71,191.44 L55.70,191.68 L54.65,191.95 L53.57,192.24 L52.48,192.53 L51.39,192.83 L50.31,193.14 L49.27,193.44 L48.27,193.73 L47.34,194.02 L46.48,194.29 L45.70,194.55 L45.03,194.80 L44.43,195.04 L43.88,195.27 L43.37,195.51 L42.88,195.76 L42.43,196.02 L42.00,196.29 L41.62,196.56 L41.29,196.82 L40.99,197.06 L40.71,197.28 L40.43,197.51 L40.18,197.88 L39.92,198.26 L39.64,198.67 L39.36,199.10 L39.07,199.55 L38.78,200.02 L38.49,200.52 L38.22,201.04 L37.96,201.58 L37.73,202.15 L37.52,202.74 L37.33,203.37 L37.19,204.05 L37.10,204.76 L37.05,205.48 L37.03,206.21 L37.02,206.93 L37.03,207.65 L37.05,208.34 L37.06,208.99 L36.93,209.54 L36.82,210.04 L36.72,210.44 L36.64,210.75 Z" fill="#5e5e5e" stroke="none"/>
<path d="M38.20,211.20 L38.30,210.87 L38.42,210.45 L38.55,209.95 L38.69,209.40 L38.99,208.84 L39.30,208.26 L39.63,207.68 L39.96,207.11 L40.31,206.58 L40.64,206.11 L40.97,205.72 L41.26,205.42 L41.54,205.18 L41.83,204.95 L42.12,204.74 L42.41,204.55 L42.71,204.38 L43.02,204.22 L43.34,204.06 L43.66,203.91 L44.00,203.76 L44.35,203.61 L44.71,203.46 L45.09,203.29 L45.40,203.04 L45.65,202.83 L45.86,202.67 L46.02,202.54 L46.15,202.45 L46.27,202.37 L46.42,202.29 L46.62,202.18 L46.89,202.06 L47.24,201.91 L47.69,201.73 L48.24,201.53 L48.89,201.28 L49.65,201.01 L50.50,200.72 L51.43,200.42 L52.42,200.10 L53.44,199.79 L54.48,199.47 L55.52,199.16 L56.55,198.86 L57.54,198.58 L58.49,198.31 L59.36,198.08 L60.18,197.83 L60.98,197.60 L61.76,197.38 L62.53,197.18 L63.30,196.98 L64.05,196.79 L64.79,196.61 L65.53,196.43 L66.26,196.26 L66.98,196.10 L67.70,195.93 L68.41,195.77 L69.11,195.56 L69.82,195.36 L70.55,195.16 L71.29,194.97 L72.02,194.78 L72.73,194.60 L73.41,194.42 L74.05,194.25 L74.63,194.09 L75.16,193.94 L75.61,193.79 L75.98,193.65 L75.62,190.75 L75.24,190.71 L74.78,190.66 L74.24,190.63 L73.63,190.60 L72.96,190.59 L72.25,190.57 L71.50,190.57 L70.72,190.57 L69.94,190.58 L69.14,190.59 L68.36,190.61 L67.59,190.63 L66.86,190.70 L66.12,190.77 L65.36,190.85 L64.60,190.93 L63.81,191.02 L63.01,191.11 L62.20,191.21 L61.36,191.33 L60.51,191.45 L59.64,191.60 L58.75,191.75 L57.84,191.92 L56.89,192.15 L55.89,192.40 L54.85,192.67 L53.77,192.95 L52.69,193.25 L51.60,193.55 L50.53,193.86 L49.49,194.16 L48.51,194.46 L47.58,194.74 L46.73,195.02 L45.96,195.27 L45.30,195.52 L44.72,195.75 L44.19,195.97 L43.70,196.20 L43.25,196.43 L42.83,196.68 L42.43,196.93 L42.08,197.18 L41.76,197.42 L41.47,197.65 L41.20,197.88 L40.91,198.11 L40.65,198.45 L40.38,198.82 L40.09,199.20 L39.80,199.60 L39.51,200.02 L39.22,200.46 L38.93,200.92 L38.65,201.40 L38.39,201.91 L38.15,202.44 L37.94,202.99 L37.74,203.58 L37.58,204.22 L37.47,204.90 L37.39,205.59 L37.33,206.30 L37.29,207.01 L37.26,207.71 L37.25,208.39 L37.23,209.03 L37.10,209.59 L36.98,210.08 L36.88,210.49 L36.80,210.80 Z" fill="#363636" stroke="none"/>
<path d="M38.04,211.15 L38.14,210.83 L38.25,210.40 L38.38,209.91 L38.53,209.36 L38.78,208.79 L39.06,208.20 L39.36,207.60 L39.66,207.02 L39.97,206.47 L40.28,205.97 L40.58,205.54 L40.85,205.21 L41.12,204.92 L41.40,204.66 L41.69,204.41 L41.98,204.19 L42.28,203.98 L42.58,203.78 L42.90,203.60 L43.22,203.41 L43.55,203.24 L43.89,203.06 L44.24,202.88 L44.61,202.69 L44.91,202.45 L45.17,202.23 L45.39,202.06 L45.56,201.93 L45.72,201.81 L45.88,201.71 L46.06,201.61 L46.28,201.49 L46.58,201.36 L46.95,201.20 L47.42,201.02 L47.97,200.81 L48.64,200.56 L49.41,200.29 L50.27,200.00 L51.21,199.70 L52.20,199.38 L53.23,199.07 L54.27,198.75 L55.32,198.44 L56.35,198.15 L57.35,197.86 L58.31,197.60 L59.19,197.37 L60.01,197.13 L60.82,196.91 L61.62,196.70 L62.40,196.50 L63.17,196.31 L63.93,196.13 L64.68,195.96 L65.42,195.80 L66.16,195.64 L66.88,195.48 L67.61,195.33 L68.31,195.18 L69.02,194.99 L69.74,194.81 L70.48,194.63 L71.22,194.46 L71.96,194.30 L72.67,194.14 L73.36,193.98 L74.00,193.83 L74.59,193.69 L75.12,193.56 L75.57,193.43 L75.94,193.31 L75.66,191.09 L75.29,191.06 L74.82,191.04 L74.28,191.03 L73.68,191.03 L73.01,191.03 L72.30,191.04 L71.56,191.05 L70.79,191.08 L70.01,191.11 L69.22,191.14 L68.44,191.18 L67.69,191.22 L66.95,191.31 L66.22,191.39 L65.47,191.47 L64.70,191.57 L63.93,191.66 L63.13,191.77 L62.32,191.88 L61.50,192.00 L60.65,192.14 L59.79,192.29 L58.91,192.45 L58.01,192.63 L57.08,192.86 L56.08,193.11 L55.05,193.38 L53.98,193.67 L52.89,193.97 L51.81,194.27 L50.75,194.58 L49.72,194.88 L48.74,195.18 L47.82,195.47 L46.97,195.74 L46.23,195.99 L45.58,196.24 L45.01,196.46 L44.50,196.68 L44.04,196.89 L43.62,197.11 L43.22,197.34 L42.86,197.57 L42.53,197.80 L42.23,198.03 L41.95,198.25 L41.68,198.47 L41.39,198.71 L41.12,199.03 L40.84,199.37 L40.55,199.73 L40.25,200.10 L39.95,200.48 L39.65,200.89 L39.37,201.32 L39.09,201.77 L38.82,202.24 L38.58,202.73 L38.35,203.24 L38.15,203.79 L37.97,204.39 L37.84,205.04 L37.73,205.71 L37.64,206.39 L37.56,207.09 L37.50,207.78 L37.45,208.44 L37.40,209.07 L37.27,209.63 L37.15,210.12 L37.05,210.53 L36.96,210.85 Z" fill="#2a2a2a" stroke="none"/>
<path d="M37.88,211.11 L37.97,210.78 L38.09,210.36 L38.21,209.87 L38.36,209.31 L38.58,208.74 L38.83,208.14 L39.09,207.53 L39.36,206.93 L39.63,206.35 L39.91,205.83 L40.18,205.37 L40.45,205.00 L40.71,204.67 L40.98,204.37 L41.26,204.09 L41.55,203.83 L41.84,203.58 L42.14,203.35 L42.45,203.13 L42.77,202.92 L43.10,202.71 L43.43,202.51 L43.78,202.30 L44.13,202.09 L44.43,201.85 L44.69,201.64 L44.91,201.46 L45.11,201.31 L45.29,201.18 L45.48,201.06 L45.69,200.94 L45.95,200.80 L46.27,200.66 L46.66,200.49 L47.14,200.30 L47.71,200.08 L48.39,199.84 L49.17,199.57 L50.04,199.28 L50.98,198.97 L51.98,198.66 L53.01,198.35 L54.06,198.03 L55.12,197.73 L56.16,197.43 L57.16,197.15 L58.12,196.89 L59.01,196.66 L59.85,196.43 L60.67,196.22 L61.47,196.01 L62.26,195.83 L63.04,195.65 L63.81,195.48 L64.57,195.32 L65.31,195.16 L66.05,195.01 L66.78,194.87 L67.51,194.72 L68.22,194.58 L68.93,194.42 L69.67,194.26 L70.41,194.11 L71.16,193.96 L71.90,193.81 L72.62,193.67 L73.30,193.54 L73.95,193.41 L74.54,193.29 L75.07,193.18 L75.53,193.08 L75.90,192.98 L75.70,191.42 L75.33,191.42 L74.87,191.42 L74.33,191.43 L73.72,191.45 L73.06,191.47 L72.36,191.50 L71.62,191.54 L70.86,191.59 L70.08,191.64 L69.30,191.69 L68.53,191.75 L67.78,191.82 L67.05,191.91 L66.32,192.00 L65.57,192.10 L64.81,192.20 L64.04,192.31 L63.25,192.42 L62.45,192.54 L61.63,192.68 L60.80,192.82 L59.95,192.98 L59.08,193.15 L58.19,193.34 L57.26,193.57 L56.27,193.82 L55.24,194.10 L54.18,194.38 L53.10,194.68 L52.02,194.99 L50.97,195.30 L49.94,195.60 L48.97,195.90 L48.06,196.19 L47.22,196.46 L46.49,196.72 L45.85,196.95 L45.30,197.17 L44.81,197.38 L44.38,197.58 L43.98,197.79 L43.62,197.99 L43.29,198.20 L42.99,198.42 L42.71,198.63 L42.44,198.85 L42.17,199.07 L41.87,199.31 L41.59,199.61 L41.30,199.92 L41.00,200.25 L40.69,200.59 L40.39,200.95 L40.09,201.33 L39.80,201.72 L39.52,202.13 L39.25,202.56 L39.00,203.02 L38.77,203.50 L38.55,204.00 L38.36,204.57 L38.20,205.18 L38.06,205.82 L37.94,206.49 L37.83,207.17 L37.73,207.84 L37.65,208.49 L37.57,209.12 L37.43,209.67 L37.31,210.16 L37.21,210.57 L37.12,210.89 Z" fill="#404040" stroke="none"/>
<path d="M37.72,211.06 L37.81,210.74 L37.92,210.32 L38.05,209.82 L38.19,209.27 L38.38,208.69 L38.59,208.07 L38.82,207.45 L39.05,206.83 L39.30,206.24 L39.55,205.69 L39.79,205.20 L40.04,204.78 L40.29,204.42 L40.55,204.08 L40.83,203.76 L41.11,203.46 L41.40,203.18 L41.70,202.92 L42.01,202.66 L42.33,202.42 L42.65,202.18 L42.98,201.95 L43.31,201.73 L43.64,201.50 L43.94,201.25 L44.21,201.04 L44.44,200.85 L44.65,200.69 L44.86,200.54 L45.08,200.40 L45.32,200.26 L45.61,200.11 L45.96,199.95 L46.37,199.78 L46.86,199.58 L47.45,199.36 L48.14,199.11 L48.93,198.84 L49.81,198.55 L50.76,198.25 L51.76,197.94 L52.80,197.63 L53.86,197.32 L54.92,197.01 L55.96,196.72 L56.97,196.44 L57.94,196.18 L58.84,195.95 L59.68,195.73 L60.51,195.52 L61.33,195.33 L62.13,195.15 L62.92,194.98 L63.69,194.82 L64.45,194.67 L65.21,194.53 L65.95,194.39 L66.68,194.25 L67.41,194.12 L68.13,193.99 L68.85,193.85 L69.59,193.71 L70.34,193.58 L71.09,193.45 L71.84,193.32 L72.56,193.21 L73.25,193.10 L73.90,192.99 L74.50,192.89 L75.03,192.80 L75.49,192.72 L75.85,192.64 L75.75,191.76 L75.37,191.77 L74.91,191.80 L74.37,191.83 L73.77,191.87 L73.11,191.91 L72.41,191.97 L71.68,192.03 L70.92,192.09 L70.15,192.16 L69.38,192.24 L68.62,192.32 L67.87,192.41 L67.15,192.51 L66.42,192.62 L65.67,192.72 L64.92,192.83 L64.15,192.95 L63.37,193.08 L62.58,193.21 L61.77,193.35 L60.94,193.51 L60.10,193.67 L59.24,193.86 L58.36,194.05 L57.45,194.28 L56.47,194.54 L55.44,194.81 L54.38,195.10 L53.31,195.40 L52.24,195.71 L51.18,196.02 L50.16,196.33 L49.20,196.63 L48.29,196.91 L47.47,197.19 L46.75,197.44 L46.13,197.67 L45.59,197.88 L45.13,198.08 L44.71,198.27 L44.35,198.46 L44.02,198.65 L43.72,198.84 L43.44,199.04 L43.18,199.24 L42.92,199.45 L42.65,199.66 L42.36,199.90 L42.06,200.19 L41.75,200.48 L41.45,200.78 L41.14,201.09 L40.83,201.42 L40.53,201.76 L40.24,202.12 L39.96,202.49 L39.68,202.89 L39.42,203.31 L39.18,203.75 L38.96,204.22 L38.75,204.74 L38.57,205.32 L38.40,205.94 L38.24,206.58 L38.10,207.24 L37.97,207.90 L37.85,208.55 L37.74,209.16 L37.60,209.71 L37.48,210.21 L37.37,210.62 L37.28,210.94 Z" fill="#666" stroke="none"/>
<path d="M37.58,211.02 L37.67,210.70 L37.78,210.28 L37.91,209.79 L38.05,209.24 L38.22,208.64 L38.40,208.02 L38.59,207.38 L38.80,206.75 L39.02,206.14 L39.24,205.57 L39.47,205.05 L39.70,204.61 L39.95,204.21 L40.20,203.84 L40.47,203.49 L40.75,203.16 L41.04,202.85 L41.34,202.55 L41.64,202.27 L41.96,202.00 L42.27,201.74 L42.59,201.49 L42.92,201.24 L43.24,201.00 L43.54,200.76 L43.80,200.54 L44.05,200.35 L44.28,200.17 L44.51,200.01 L44.75,199.85 L45.02,199.70 L45.33,199.54 L45.70,199.37 L46.13,199.18 L46.64,198.98 L47.23,198.76 L47.93,198.51 L48.73,198.24 L49.62,197.95 L50.57,197.65 L51.58,197.34 L52.62,197.03 L53.69,196.72 L54.75,196.41 L55.80,196.12 L56.81,195.84 L57.78,195.59 L58.69,195.36 L59.54,195.14 L60.38,194.94 L61.21,194.76 L62.02,194.59 L62.81,194.43 L63.59,194.28 L64.36,194.13 L65.12,194.00 L65.86,193.87 L66.60,193.74 L67.33,193.62 L68.05,193.50 L68.77,193.37 L69.52,193.25 L70.28,193.13 L71.04,193.02 L71.79,192.92 L72.52,192.82 L73.21,192.73 L73.86,192.64 L74.46,192.56 L74.99,192.49 L75.45,192.42 L75.82,192.37 L75.78,192.03 L75.41,192.07 L74.95,192.11 L74.41,192.16 L73.81,192.22 L73.16,192.28 L72.46,192.36 L71.73,192.43 L70.97,192.52 L70.21,192.61 L69.44,192.70 L68.69,192.80 L67.95,192.90 L67.23,193.02 L66.50,193.13 L65.76,193.24 L65.01,193.36 L64.25,193.49 L63.47,193.62 L62.68,193.76 L61.88,193.91 L61.06,194.08 L60.23,194.25 L59.38,194.44 L58.51,194.64 L57.60,194.88 L56.62,195.13 L55.60,195.41 L54.55,195.70 L53.48,196.00 L52.41,196.31 L51.36,196.62 L50.35,196.93 L49.39,197.23 L48.49,197.52 L47.68,197.79 L46.97,198.04 L46.36,198.27 L45.84,198.47 L45.38,198.67 L44.99,198.85 L44.65,199.02 L44.35,199.20 L44.08,199.37 L43.82,199.55 L43.57,199.74 L43.32,199.94 L43.05,200.16 L42.76,200.40 L42.45,200.67 L42.14,200.94 L41.82,201.22 L41.51,201.51 L41.20,201.81 L40.90,202.12 L40.60,202.45 L40.32,202.80 L40.04,203.16 L39.78,203.55 L39.53,203.96 L39.30,204.39 L39.08,204.88 L38.87,205.43 L38.68,206.03 L38.50,206.66 L38.32,207.31 L38.16,207.96 L38.02,208.59 L37.88,209.19 L37.74,209.75 L37.62,210.24 L37.51,210.66 L37.42,210.98 Z" fill="#999" stroke="none"/>
<path d="M44.55,199.52 L44.84,199.36 L45.16,199.19 L45.54,199.02 L45.98,198.83 L46.50,198.63 L47.10,198.40 L47.81,198.15 L48.61,197.88 L49.50,197.59 L50.46,197.29 L51.47,196.98 L52.52,196.67 L53.58,196.36 L54.65,196.06 L55.70,195.76 L56.72,195.49 L57.69,195.23 L58.60,195.00 L59.46,194.79 L60.31,194.60 L61.14,194.42 L61.95,194.25 L62.75,194.10 L63.53,193.95 L64.30,193.81 L65.06,193.68 L65.81,193.56 L66.55,193.44 L67.28,193.32 L68.00,193.20 L68.73,193.09 L69.48,192.98 L70.25,192.87 L71.01,192.77" fill="none" stroke="#e8e8e8" stroke-width="0.7" stroke-dasharray="2 1.2"/>
<line x1="37.6" y1="218.8" x2="37.6" y2="223.3" stroke="#eee" stroke-width="0.8"/>
</g>
<path d="M31.5,208.2 L38.3,196.5 L51.5,184.8 L74.8,185.2 L81.7,203.9 Z" fill="none" stroke="#808080" stroke-width="0.7"/>
<rect x="28.40" y="212.20" width="20.80" height="37.60" fill="none" stroke="#808080" stroke-width="0.7" />
<rect x="49.20" y="209.60" width="30.40" height="37.90" fill="none" stroke="#808080" stroke-width="0.7" />
<text x="27.5" y="192.3" font-size="5.7" font-weight="normal" text-anchor="start" fill="#222" font-family="'Liberation Sans', Arial, sans-serif" >29.9</text>
<text x="36.4" y="248.2" font-size="5.7" font-weight="normal" text-anchor="middle" fill="#222" font-family="'Liberation Sans', Arial, sans-serif" >63.7</text>
<text x="66.1" y="245.5" font-size="5.7" font-weight="normal" text-anchor="middle" fill="#222" font-family="'Liberation Sans', Arial, sans-serif" >4.83</text>
<rect x="102.10" y="184.20" width="77.90" height="81.60" fill="#fff" stroke="#000" stroke-width="1.3" />
<g filter="url(#fb)">
<circle cx="142.0" cy="235.9" r="0.45" fill="#8a8a8a"/>
<circle cx="158.1" cy="219.4" r="0.45" fill="#8a8a8a"/>
<circle cx="151.2" cy="224.8" r="0.45" fill="#8a8a8a"/>
<circle cx="155.2" cy="234.2" r="0.45" fill="#8a8a8a"/>
<circle cx="140.9" cy="213.1" r="0.45" fill="#8a8a8a"/>
<circle cx="160.0" cy="224.3" r="0.45" fill="#8a8a8a"/>
<circle cx="158.1" cy="212.4" r="0.45" fill="#8a8a8a"/>
<circle cx="149.9" cy="232.4" r="0.45" fill="#8a8a8a"/>
<circle cx="144.4" cy="238.6" r="0.45" fill="#8a8a8a"/>
<circle cx="161.7" cy="213.2" r="0.45" fill="#8a8a8a"/>
<circle cx="139.2" cy="227.4" r="0.45" fill="#8a8a8a"/>
<circle cx="162.6" cy="222.9" r="0.45" fill="#8a8a8a"/>
<circle cx="144.1" cy="224.0" r="0.45" fill="#8a8a8a"/>
<circle cx="139.2" cy="218.5" r="0.45" fill="#8a8a8a"/>
<circle cx="149.8" cy="226.1" r="0.45" fill="#8a8a8a"/>
<circle cx="144.5" cy="218.7" r="0.45" fill="#8a8a8a"/>
<circle cx="144.1" cy="225.1" r="0.45" fill="#8a8a8a"/>
<circle cx="145.9" cy="212.9" r="0.45" fill="#8a8a8a"/>
<circle cx="160.0" cy="227.8" r="0.45" fill="#8a8a8a"/>
<circle cx="155.0" cy="217.5" r="0.45" fill="#8a8a8a"/>
<circle cx="164.0" cy="236.2" r="0.45" fill="#8a8a8a"/>
<circle cx="141.6" cy="221.5" r="0.45" fill="#8a8a8a"/>
<circle cx="157.0" cy="232.1" r="0.45" fill="#8a8a8a"/>
<circle cx="162.6" cy="224.0" r="0.45" fill="#8a8a8a"/>
<circle cx="159.8" cy="230.9" r="0.45" fill="#8a8a8a"/>
<circle cx="146.3" cy="228.6" r="0.45" fill="#8a8a8a"/>
<circle cx="161.2" cy="235.8" r="0.45" fill="#8a8a8a"/>
<circle cx="151.5" cy="228.7" r="0.45" fill="#8a8a8a"/>
<circle cx="139.4" cy="219.0" r="0.45" fill="#8a8a8a"/>
<circle cx="159.0" cy="223.8" r="0.45" fill="#8a8a8a"/>
<circle cx="142.9" cy="227.6" r="0.45" fill="#8a8a8a"/>
<circle cx="156.6" cy="231.1" r="0.45" fill="#8a8a8a"/>
<circle cx="148.1" cy="224.5" r="0.45" fill="#8a8a8a"/>
<circle cx="151.6" cy="233.9" r="0.45" fill="#8a8a8a"/>
<circle cx="151.9" cy="223.2" r="0.45" fill="#8a8a8a"/>
<circle cx="151.1" cy="213.1" r="0.45" fill="#8a8a8a"/>
<circle cx="139.6" cy="231.9" r="0.45" fill="#8a8a8a"/>
<circle cx="163.8" cy="228.8" r="0.45" fill="#8a8a8a"/>
<circle cx="148.6" cy="217.0" r="0.45" fill="#8a8a8a"/>
<circle cx="151.4" cy="239.6" r="0.45" fill="#8a8a8a"/>
<circle cx="158.3" cy="227.3" r="0.45" fill="#8a8a8a"/>
<circle cx="160.6" cy="218.8" r="0.45" fill="#8a8a8a"/>
<circle cx="151.7" cy="238.8" r="0.45" fill="#8a8a8a"/>
<circle cx="153.3" cy="225.1" r="0.45" fill="#8a8a8a"/>
<circle cx="145.4" cy="227.5" r="0.45" fill="#8a8a8a"/>
<path d="M131,214.5 C137,210.5 146,212.5 149.5,218 C152.5,224 146,229 140,231 C136,232.5 134,236 132,241" fill="none" stroke="#6e6e6e" stroke-width="0.75"/>
<path d="M131,217.5 C136,214.5 143,215.5 145.5,219 C147.5,223 142,226 138,227.5" fill="none" stroke="#777" stroke-width="0.75"/>
<path d="M131,220.5 C135,218.5 139,218.5 141,221 C142,223 139,224 136,224.5" fill="none" stroke="#888" stroke-width="0.75"/>
<ellipse cx="127" cy="236" rx="7.50" ry="9.00" fill="#ececec"/>
<ellipse cx="127" cy="236" rx="6.00" ry="7.20" fill="#d0d0d0"/>
<ellipse cx="127" cy="236" rx="4.50" ry="5.40" fill="#b4b4b4"/>
<ellipse cx="125.8" cy="228.5" rx="9.10" ry="13.80" fill="#ececec" stroke="#8a8a8a" stroke-width="0.5"/>
<ellipse cx="125.8" cy="228.5" rx="8.01" ry="12.14" fill="#d2d2d2" stroke="#8a8a8a" stroke-width="0.5"/>
<ellipse cx="125.8" cy="228.5" rx="7.10" ry="10.76" fill="#ababab" stroke="#666" stroke-width="0.5"/>
<ellipse cx="125.8" cy="228.5" rx="6.19" ry="9.38" fill="#6a6a6a"/>
<ellipse cx="125.8" cy="228.5" rx="5.28" ry="8.00" fill="#2e2e2e"/>
<ellipse cx="125.8" cy="228.5" rx="4.37" ry="6.62" fill="#1c1c1c"/>
<ellipse cx="125.8" cy="228.5" rx="3.46" ry="5.24" fill="#444"/>
<ellipse cx="125.8" cy="228.5" rx="2.55" ry="3.86" fill="#777"/>
<ellipse cx="125.8" cy="228.5" rx="1.55" ry="2.35" fill="#aaa"/>
<path d="M127.19,215.61 L127.61,215.17 L128.12,214.60 L128.69,213.97 L129.30,213.28 L129.93,212.56 L130.54,211.81 L131.11,211.05 L131.62,210.32 L132.04,209.63 L132.37,209.03 L132.62,208.55 L132.84,208.20 L133.10,207.83 L133.40,207.44 L133.68,207.10 L133.95,206.81 L134.21,206.54 L134.48,206.30 L134.77,206.06 L135.10,205.82 L135.48,205.57 L135.93,205.30 L136.45,205.01 L137.01,204.73 L137.62,204.45 L138.34,204.16 L139.18,203.86 L140.12,203.55 L141.13,203.24 L142.18,202.93 L143.25,202.63 L144.33,202.35 L145.41,202.07 L146.45,201.81 L147.45,201.56 L148.36,201.34 L149.17,201.15 L149.92,200.98 L150.64,200.84 L151.35,200.71 L152.03,200.59 L152.71,200.49 L153.38,200.39 L154.04,200.30 L154.71,200.21 L155.38,200.13 L156.06,200.04 L156.73,199.95 L157.35,199.88 L157.96,199.75 L158.56,199.32 L159.17,198.88 L159.77,198.42 L160.37,197.94 L160.94,197.43 L161.48,196.90 L161.97,196.34 L162.40,195.73 L162.77,195.01 L163.00,193.60 L163.00,193.60 L162.56,192.24 L162.12,191.58 L161.61,191.03 L161.04,190.54 L160.42,190.09 L159.76,189.68 L159.05,189.29 L158.31,188.94 L157.55,188.62 L156.77,188.33 L156.00,188.36 L155.27,188.45 L154.60,188.53 L153.93,188.62 L153.23,188.70 L152.51,188.80 L151.76,188.90 L150.98,189.01 L150.17,189.14 L149.32,189.29 L148.44,189.45 L147.53,189.63 L146.59,189.84 L145.64,190.06 L144.67,190.30 L143.65,190.55 L142.55,190.83 L141.41,191.12 L140.22,191.44 L139.01,191.77 L137.79,192.12 L136.58,192.50 L135.39,192.90 L134.21,193.32 L133.07,193.78 L131.99,194.27 L131.03,194.76 L130.15,195.24 L129.30,195.75 L128.48,196.30 L127.69,196.87 L126.93,197.49 L126.22,198.13 L125.54,198.81 L124.91,199.51 L124.31,200.23 L123.75,200.96 L123.16,201.80 L122.54,202.81 L121.96,203.90 L121.50,205.00 L121.17,206.13 L120.96,207.26 L120.85,208.38 L120.83,209.47 L120.87,210.49 L120.95,211.43 L121.05,212.24 L121.14,212.88 L121.21,213.39 Z" fill="#dadada" stroke="none"/>
<path d="M127.19,215.61 L127.61,215.17 L128.12,214.60 L128.69,213.97 L129.30,213.28 L129.93,212.56 L130.54,211.81 L131.11,211.05 L131.62,210.32 L132.04,209.63 L132.37,209.03 L132.62,208.55 L132.84,208.20 L133.10,207.83 L133.40,207.44 L133.68,207.10 L133.95,206.81 L134.21,206.54 L134.48,206.30 L134.77,206.06 L135.10,205.82 L135.48,205.57 L135.93,205.30 L136.45,205.01 L137.01,204.73 L137.62,204.45 L138.34,204.16 L139.18,203.86 L140.12,203.55 L141.13,203.24 L142.18,202.93 L143.25,202.63 L144.33,202.35 L145.41,202.07 L146.45,201.81 L147.45,201.56 L148.36,201.34 L149.17,201.15 L149.92,200.98 L150.64,200.84 L151.35,200.71 L152.03,200.59 L152.71,200.49 L153.38,200.39 L154.04,200.30 L154.71,200.21 L155.38,200.13 L156.06,200.04 L156.73,199.95 L157.35,199.88 L157.96,199.75 L158.56,199.32 L159.17,198.88 L159.77,198.42 L160.37,197.94 L160.94,197.43 L161.48,196.90 L161.97,196.34 L162.40,195.73 L162.77,195.01 L163.00,193.60 L163.00,193.60 L162.56,192.24 L162.12,191.58 L161.61,191.03 L161.04,190.54 L160.42,190.09 L159.76,189.68 L159.05,189.29 L158.31,188.94 L157.55,188.62 L156.77,188.33 L156.00,188.36 L155.27,188.45 L154.60,188.53 L153.93,188.62 L153.23,188.70 L152.51,188.80 L151.76,188.90 L150.98,189.01 L150.17,189.14 L149.32,189.29 L148.44,189.45 L147.53,189.63 L146.59,189.84 L145.64,190.06 L144.67,190.30 L143.65,190.55 L142.55,190.83 L141.41,191.12 L140.22,191.44 L139.01,191.77 L137.79,192.12 L136.58,192.50 L135.39,192.90 L134.21,193.32 L133.07,193.78 L131.99,194.27 L131.03,194.76 L130.15,195.24 L129.30,195.75 L128.48,196.30 L127.69,196.87 L126.93,197.49 L126.22,198.13 L125.54,198.81 L124.91,199.51 L124.31,200.23 L123.75,200.96 L123.16,201.80 L122.54,202.81 L121.96,203.90 L121.50,205.00 L121.17,206.13 L120.96,207.26 L120.85,208.38 L120.83,209.47 L120.87,210.49 L120.95,211.43 L121.05,212.24 L121.14,212.88 L121.21,213.39 Z" fill="none" stroke="#8a8a8a" stroke-width="0.5"/>
<path d="M126.83,215.48 L127.22,215.03 L127.69,214.46 L128.23,213.82 L128.80,213.12 L129.38,212.37 L129.96,211.60 L130.50,210.82 L130.99,210.07 L131.41,209.35 L131.74,208.72 L132.01,208.21 L132.26,207.82 L132.54,207.42 L132.86,207.00 L133.15,206.64 L133.44,206.33 L133.73,206.04 L134.03,205.77 L134.35,205.51 L134.70,205.25 L135.11,204.98 L135.58,204.70 L136.12,204.40 L136.71,204.10 L137.35,203.81 L138.09,203.51 L138.96,203.20 L139.91,202.88 L140.93,202.57 L141.99,202.26 L143.07,201.96 L144.16,201.67 L145.24,201.40 L146.28,201.13 L147.28,200.89 L148.20,200.66 L149.01,200.47 L149.77,200.30 L150.51,200.15 L151.22,200.02 L151.92,199.90 L152.60,199.80 L153.28,199.70 L153.95,199.61 L154.62,199.52 L155.30,199.44 L155.98,199.35 L156.64,199.26 L157.27,199.19 L157.89,199.06 L158.50,198.68 L159.12,198.28 L159.73,197.87 L160.33,197.44 L160.91,196.99 L161.45,196.52 L161.95,196.02 L162.39,195.48 L162.76,194.85 L163.00,193.60 L163.00,193.60 L162.58,192.40 L162.14,191.83 L161.63,191.35 L161.07,190.92 L160.45,190.53 L159.79,190.17 L159.09,189.84 L158.36,189.54 L157.61,189.26 L156.84,189.02 L156.08,189.05 L155.36,189.14 L154.69,189.22 L154.02,189.31 L153.32,189.40 L152.60,189.49 L151.86,189.59 L151.08,189.70 L150.28,189.83 L149.44,189.97 L148.58,190.13 L147.68,190.31 L146.74,190.52 L145.80,190.74 L144.84,190.97 L143.82,191.23 L142.73,191.50 L141.58,191.79 L140.40,192.11 L139.20,192.44 L137.99,192.79 L136.79,193.16 L135.61,193.55 L134.46,193.97 L133.34,194.42 L132.29,194.90 L131.36,195.37 L130.50,195.85 L129.67,196.34 L128.87,196.87 L128.11,197.43 L127.39,198.02 L126.70,198.64 L126.05,199.29 L125.44,199.96 L124.86,200.66 L124.31,201.38 L123.74,202.18 L123.14,203.15 L122.59,204.21 L122.14,205.28 L121.80,206.38 L121.56,207.49 L121.43,208.59 L121.37,209.65 L121.37,210.66 L121.41,211.58 L121.47,212.38 L121.53,213.02 L121.57,213.52 Z" fill="#bebebe" stroke="none"/>
<path d="M126.83,215.48 L127.22,215.03 L127.69,214.46 L128.23,213.82 L128.80,213.12 L129.38,212.37 L129.96,211.60 L130.50,210.82 L130.99,210.07 L131.41,209.35 L131.74,208.72 L132.01,208.21 L132.26,207.82 L132.54,207.42 L132.86,207.00 L133.15,206.64 L133.44,206.33 L133.73,206.04 L134.03,205.77 L134.35,205.51 L134.70,205.25 L135.11,204.98 L135.58,204.70 L136.12,204.40 L136.71,204.10 L137.35,203.81 L138.09,203.51 L138.96,203.20 L139.91,202.88 L140.93,202.57 L141.99,202.26 L143.07,201.96 L144.16,201.67 L145.24,201.40 L146.28,201.13 L147.28,200.89 L148.20,200.66 L149.01,200.47 L149.77,200.30 L150.51,200.15 L151.22,200.02 L151.92,199.90 L152.60,199.80 L153.28,199.70 L153.95,199.61 L154.62,199.52 L155.30,199.44 L155.98,199.35 L156.64,199.26 L157.27,199.19 L157.89,199.06 L158.50,198.68 L159.12,198.28 L159.73,197.87 L160.33,197.44 L160.91,196.99 L161.45,196.52 L161.95,196.02 L162.39,195.48 L162.76,194.85 L163.00,193.60 L163.00,193.60 L162.58,192.40 L162.14,191.83 L161.63,191.35 L161.07,190.92 L160.45,190.53 L159.79,190.17 L159.09,189.84 L158.36,189.54 L157.61,189.26 L156.84,189.02 L156.08,189.05 L155.36,189.14 L154.69,189.22 L154.02,189.31 L153.32,189.40 L152.60,189.49 L151.86,189.59 L151.08,189.70 L150.28,189.83 L149.44,189.97 L148.58,190.13 L147.68,190.31 L146.74,190.52 L145.80,190.74 L144.84,190.97 L143.82,191.23 L142.73,191.50 L141.58,191.79 L140.40,192.11 L139.20,192.44 L137.99,192.79 L136.79,193.16 L135.61,193.55 L134.46,193.97 L133.34,194.42 L132.29,194.90 L131.36,195.37 L130.50,195.85 L129.67,196.34 L128.87,196.87 L128.11,197.43 L127.39,198.02 L126.70,198.64 L126.05,199.29 L125.44,199.96 L124.86,200.66 L124.31,201.38 L123.74,202.18 L123.14,203.15 L122.59,204.21 L122.14,205.28 L121.80,206.38 L121.56,207.49 L121.43,208.59 L121.37,209.65 L121.37,210.66 L121.41,211.58 L121.47,212.38 L121.53,213.02 L121.57,213.52 Z" fill="none" stroke="#777" stroke-width="0.5"/>
<path d="M126.47,215.34 L126.83,214.90 L127.27,214.32 L127.76,213.67 L128.29,212.95 L128.84,212.19 L129.38,211.39 L129.89,210.60 L130.36,209.82 L130.77,209.08 L131.12,208.41 L131.41,207.87 L131.68,207.43 L131.98,207.01 L132.31,206.57 L132.63,206.19 L132.94,205.85 L133.25,205.53 L133.57,205.24 L133.92,204.96 L134.31,204.68 L134.74,204.39 L135.23,204.09 L135.80,203.78 L136.41,203.47 L137.07,203.17 L137.85,202.86 L138.73,202.54 L139.70,202.22 L140.73,201.90 L141.80,201.59 L142.89,201.29 L143.98,201.00 L145.06,200.72 L146.11,200.46 L147.12,200.21 L148.04,199.98 L148.86,199.79 L149.63,199.62 L150.38,199.47 L151.10,199.34 L151.81,199.22 L152.50,199.11 L153.18,199.01 L153.86,198.92 L154.53,198.83 L155.21,198.74 L155.89,198.66 L156.55,198.57 L157.19,198.49 L157.82,198.38 L158.44,198.04 L159.07,197.69 L159.69,197.32 L160.30,196.95 L160.88,196.55 L161.42,196.14 L161.92,195.70 L162.37,195.23 L162.75,194.68 L163.00,193.60 L163.00,193.60 L162.59,192.57 L162.15,192.08 L161.65,191.67 L161.10,191.30 L160.48,190.97 L159.83,190.67 L159.14,190.39 L158.42,190.13 L157.67,189.91 L156.91,189.70 L156.16,189.74 L155.45,189.83 L154.77,189.91 L154.10,190.00 L153.41,190.09 L152.70,190.18 L151.95,190.28 L151.19,190.39 L150.39,190.52 L149.56,190.66 L148.71,190.81 L147.82,190.99 L146.90,191.19 L145.96,191.42 L145.01,191.65 L143.99,191.90 L142.90,192.18 L141.76,192.47 L140.58,192.78 L139.39,193.11 L138.19,193.46 L137.01,193.82 L135.84,194.21 L134.71,194.62 L133.61,195.06 L132.59,195.53 L131.68,195.99 L130.84,196.45 L130.04,196.93 L129.27,197.44 L128.54,197.98 L127.84,198.54 L127.18,199.14 L126.55,199.77 L125.96,200.42 L125.40,201.09 L124.88,201.79 L124.32,202.57 L123.75,203.50 L123.21,204.51 L122.77,205.56 L122.42,206.63 L122.17,207.71 L122.01,208.79 L121.92,209.84 L121.88,210.83 L121.88,211.73 L121.90,212.52 L121.92,213.16 L121.93,213.66 Z" fill="#949494" stroke="none"/>
<path d="M126.47,215.34 L126.83,214.90 L127.27,214.32 L127.76,213.67 L128.29,212.95 L128.84,212.19 L129.38,211.39 L129.89,210.60 L130.36,209.82 L130.77,209.08 L131.12,208.41 L131.41,207.87 L131.68,207.43 L131.98,207.01 L132.31,206.57 L132.63,206.19 L132.94,205.85 L133.25,205.53 L133.57,205.24 L133.92,204.96 L134.31,204.68 L134.74,204.39 L135.23,204.09 L135.80,203.78 L136.41,203.47 L137.07,203.17 L137.85,202.86 L138.73,202.54 L139.70,202.22 L140.73,201.90 L141.80,201.59 L142.89,201.29 L143.98,201.00 L145.06,200.72 L146.11,200.46 L147.12,200.21 L148.04,199.98 L148.86,199.79 L149.63,199.62 L150.38,199.47 L151.10,199.34 L151.81,199.22 L152.50,199.11 L153.18,199.01 L153.86,198.92 L154.53,198.83 L155.21,198.74 L155.89,198.66 L156.55,198.57 L157.19,198.49 L157.82,198.38 L158.44,198.04 L159.07,197.69 L159.69,197.32 L160.30,196.95 L160.88,196.55 L161.42,196.14 L161.92,195.70 L162.37,195.23 L162.75,194.68 L163.00,193.60 L163.00,193.60 L162.59,192.57 L162.15,192.08 L161.65,191.67 L161.10,191.30 L160.48,190.97 L159.83,190.67 L159.14,190.39 L158.42,190.13 L157.67,189.91 L156.91,189.70 L156.16,189.74 L155.45,189.83 L154.77,189.91 L154.10,190.00 L153.41,190.09 L152.70,190.18 L151.95,190.28 L151.19,190.39 L150.39,190.52 L149.56,190.66 L148.71,190.81 L147.82,190.99 L146.90,191.19 L145.96,191.42 L145.01,191.65 L143.99,191.90 L142.90,192.18 L141.76,192.47 L140.58,192.78 L139.39,193.11 L138.19,193.46 L137.01,193.82 L135.84,194.21 L134.71,194.62 L133.61,195.06 L132.59,195.53 L131.68,195.99 L130.84,196.45 L130.04,196.93 L129.27,197.44 L128.54,197.98 L127.84,198.54 L127.18,199.14 L126.55,199.77 L125.96,200.42 L125.40,201.09 L124.88,201.79 L124.32,202.57 L123.75,203.50 L123.21,204.51 L122.77,205.56 L122.42,206.63 L122.17,207.71 L122.01,208.79 L121.92,209.84 L121.88,210.83 L121.88,211.73 L121.90,212.52 L121.92,213.16 L121.93,213.66 Z" fill="none" stroke="#555" stroke-width="0.5"/>
<path d="M124.68,214.68 L124.89,214.21 L125.15,213.61 L125.44,212.90 L125.92,212.16 L126.47,211.38 L127.07,210.58 L127.70,209.78 L128.35,209.01 L128.98,208.29 L129.57,207.64 L130.10,207.12 L130.60,206.72 L131.10,206.36 L131.60,206.01 L132.08,205.71 L132.43,205.37 L132.77,205.03 L133.12,204.71 L133.50,204.41 L133.91,204.11 L134.37,203.80 L134.89,203.49 L135.47,203.17 L136.11,202.85 L136.80,202.53 L137.60,202.21 L138.50,201.88 L139.48,201.56 L140.53,201.24 L141.61,200.92 L142.71,200.62 L143.81,200.33 L144.89,200.05 L145.95,199.78 L146.95,199.53 L147.87,199.31 L148.70,199.11 L149.49,198.94 L150.25,198.79 L150.98,198.65 L151.70,198.53 L152.40,198.42 L153.09,198.32 L153.77,198.23 L154.45,198.14 L155.12,198.05 L155.80,197.97 L156.46,197.88 L157.11,197.80 L157.74,197.69 L158.38,197.40 L159.01,197.09 L159.64,196.78 L160.26,196.45 L160.85,196.11 L161.40,195.76 L161.90,195.38 L162.35,194.98 L162.73,194.51 L163.00,193.60 L163.00,193.60 L162.60,192.74 L162.17,192.33 L161.67,191.99 L161.12,191.69 L160.52,191.41 L159.87,191.16 L159.18,190.94 L158.47,190.73 L157.73,190.55 L156.98,190.39 L156.25,190.43 L155.54,190.52 L154.86,190.60 L154.19,190.69 L153.50,190.78 L152.79,190.87 L152.05,190.97 L151.29,191.08 L150.50,191.20 L149.69,191.34 L148.84,191.50 L147.96,191.67 L147.05,191.87 L146.13,192.09 L145.17,192.33 L144.15,192.58 L143.07,192.85 L141.93,193.14 L140.77,193.45 L139.58,193.78 L138.39,194.12 L137.22,194.49 L136.07,194.87 L134.96,195.27 L133.89,195.70 L132.89,196.15 L132.01,196.60 L131.19,197.05 L130.41,197.52 L129.67,198.01 L128.96,198.53 L128.29,199.07 L127.66,199.65 L127.06,200.25 L126.51,200.90 L126.12,201.66 L125.76,202.43 L125.40,203.28 L125.05,204.24 L124.77,205.28 L124.57,206.35 L124.44,207.44 L124.36,208.53 L124.32,209.61 L124.29,210.64 L124.25,211.61 L124.20,212.50 L124.02,213.23 L123.86,213.85 L123.72,214.32 Z" fill="#5e5e5e" stroke="none"/>
<path d="M124.59,214.64 L124.80,214.18 L125.04,213.57 L125.32,212.86 L125.76,212.11 L126.26,211.31 L126.81,210.49 L127.39,209.66 L127.98,208.86 L128.56,208.10 L129.12,207.42 L129.63,206.85 L130.11,206.40 L130.60,205.99 L131.09,205.60 L131.56,205.26 L131.93,204.89 L132.29,204.53 L132.67,204.19 L133.07,203.86 L133.51,203.54 L134.00,203.21 L134.54,202.89 L135.15,202.55 L135.81,202.22 L136.53,201.89 L137.35,201.56 L138.27,201.23 L139.27,200.89 L140.33,200.57 L141.42,200.25 L142.52,199.95 L143.63,199.65 L144.72,199.37 L145.78,199.11 L146.78,198.86 L147.71,198.63 L148.55,198.43 L149.35,198.26 L150.11,198.10 L150.86,197.97 L151.58,197.84 L152.29,197.73 L152.99,197.63 L153.68,197.54 L154.36,197.45 L155.03,197.36 L155.71,197.28 L156.38,197.19 L157.03,197.11 L157.67,197.01 L158.32,196.76 L158.96,196.50 L159.60,196.23 L160.22,195.95 L160.81,195.67 L161.37,195.38 L161.88,195.07 L162.34,194.73 L162.72,194.35 L163.00,193.60 L163.00,193.60 L162.61,192.90 L162.19,192.58 L161.70,192.31 L161.15,192.07 L160.55,191.85 L159.90,191.66 L159.22,191.48 L158.52,191.33 L157.79,191.19 L157.05,191.07 L156.33,191.12 L155.62,191.21 L154.95,191.29 L154.28,191.38 L153.59,191.47 L152.88,191.56 L152.15,191.66 L151.39,191.77 L150.61,191.89 L149.81,192.03 L148.97,192.18 L148.11,192.35 L147.21,192.55 L146.29,192.77 L145.34,193.00 L144.32,193.25 L143.24,193.53 L142.11,193.82 L140.95,194.12 L139.77,194.45 L138.59,194.79 L137.43,195.15 L136.30,195.53 L135.20,195.92 L134.16,196.34 L133.19,196.78 L132.33,197.22 L131.54,197.66 L130.78,198.11 L130.07,198.58 L129.39,199.08 L128.75,199.60 L128.14,200.15 L127.56,200.73 L127.03,201.35 L126.63,202.06 L126.26,202.80 L125.89,203.60 L125.52,204.51 L125.22,205.50 L124.98,206.53 L124.80,207.58 L124.68,208.65 L124.58,209.70 L124.49,210.71 L124.41,211.66 L124.32,212.53 L124.12,213.27 L123.95,213.88 L123.81,214.36 Z" fill="#363636" stroke="none"/>
<path d="M124.50,214.61 L124.70,214.14 L124.94,213.54 L125.21,212.83 L125.61,212.06 L126.06,211.24 L126.55,210.40 L127.08,209.55 L127.61,208.71 L128.15,207.92 L128.67,207.20 L129.16,206.58 L129.63,206.08 L130.10,205.62 L130.57,205.19 L131.03,204.81 L131.43,204.41 L131.81,204.02 L132.21,203.66 L132.65,203.31 L133.11,202.96 L133.63,202.62 L134.19,202.28 L134.82,201.94 L135.50,201.59 L136.25,201.25 L137.10,200.91 L138.05,200.57 L139.06,200.23 L140.13,199.90 L141.23,199.58 L142.34,199.27 L143.46,198.98 L144.55,198.70 L145.61,198.43 L146.62,198.18 L147.54,197.96 L148.39,197.75 L149.20,197.58 L149.98,197.42 L150.74,197.28 L151.47,197.16 L152.19,197.04 L152.89,196.94 L153.58,196.85 L154.27,196.76 L154.95,196.67 L155.62,196.59 L156.29,196.50 L156.94,196.42 L157.60,196.32 L158.26,196.11 L158.91,195.90 L159.56,195.68 L160.18,195.46 L160.78,195.23 L161.35,194.99 L161.86,194.75 L162.32,194.48 L162.71,194.18 L163.00,193.60 L163.00,193.60 L162.63,193.07 L162.20,192.83 L161.72,192.63 L161.17,192.45 L160.58,192.29 L159.94,192.15 L159.27,192.03 L158.57,191.92 L157.85,191.83 L157.13,191.76 L156.41,191.81 L155.71,191.90 L155.04,191.98 L154.37,192.07 L153.68,192.16 L152.97,192.25 L152.25,192.35 L151.50,192.46 L150.73,192.58 L149.93,192.71 L149.10,192.86 L148.25,193.04 L147.36,193.23 L146.46,193.44 L145.51,193.68 L144.49,193.93 L143.41,194.20 L142.28,194.49 L141.13,194.79 L139.96,195.12 L138.79,195.46 L137.64,195.81 L136.53,196.18 L135.45,196.57 L134.43,196.98 L133.50,197.41 L132.66,197.83 L131.88,198.26 L131.15,198.70 L130.46,199.15 L129.81,199.63 L129.20,200.13 L128.62,200.66 L128.06,201.21 L127.56,201.80 L127.14,202.47 L126.76,203.17 L126.37,203.92 L126.00,204.78 L125.67,205.72 L125.39,206.71 L125.17,207.73 L124.99,208.77 L124.83,209.79 L124.70,210.78 L124.56,211.72 L124.43,212.57 L124.23,213.30 L124.05,213.91 L123.90,214.39 Z" fill="#2a2a2a" stroke="none"/>
<path d="M124.41,214.58 L124.60,214.11 L124.83,213.50 L125.09,212.79 L125.45,212.01 L125.85,211.17 L126.30,210.31 L126.76,209.43 L127.25,208.57 L127.74,207.74 L128.22,206.98 L128.68,206.31 L129.14,205.75 L129.60,205.25 L130.06,204.78 L130.51,204.36 L130.92,203.93 L131.33,203.52 L131.76,203.13 L132.22,202.75 L132.72,202.39 L133.26,202.04 L133.85,201.68 L134.50,201.32 L135.20,200.96 L135.98,200.61 L136.85,200.26 L137.82,199.91 L138.85,199.57 L139.93,199.24 L141.04,198.91 L142.16,198.60 L143.28,198.30 L144.38,198.02 L145.44,197.76 L146.45,197.51 L147.38,197.28 L148.24,197.07 L149.06,196.90 L149.85,196.74 L150.62,196.60 L151.36,196.47 L152.09,196.36 L152.80,196.25 L153.49,196.16 L154.18,196.07 L154.86,195.98 L155.54,195.90 L156.20,195.81 L156.86,195.73 L157.53,195.64 L158.20,195.47 L158.86,195.30 L159.51,195.13 L160.15,194.96 L160.75,194.79 L161.32,194.61 L161.84,194.43 L162.30,194.23 L162.70,194.01 L163.00,193.60 L163.00,193.60 L162.64,193.24 L162.22,193.07 L161.74,192.94 L161.20,192.83 L160.61,192.73 L159.98,192.65 L159.31,192.58 L158.62,192.52 L157.91,192.47 L157.20,192.44 L156.49,192.50 L155.80,192.59 L155.13,192.68 L154.45,192.76 L153.77,192.85 L153.06,192.94 L152.34,193.04 L151.60,193.14 L150.84,193.26 L150.05,193.40 L149.24,193.55 L148.39,193.72 L147.52,193.91 L146.62,194.12 L145.67,194.35 L144.66,194.60 L143.58,194.87 L142.46,195.16 L141.31,195.47 L140.15,195.79 L138.99,196.12 L137.86,196.48 L136.75,196.84 L135.70,197.22 L134.71,197.62 L133.80,198.04 L132.98,198.45 L132.23,198.86 L131.52,199.29 L130.86,199.73 L130.24,200.18 L129.65,200.66 L129.09,201.16 L128.57,201.69 L128.08,202.25 L127.66,202.88 L127.26,203.54 L126.86,204.25 L126.47,205.05 L126.12,205.94 L125.81,206.89 L125.54,207.88 L125.30,208.88 L125.09,209.88 L124.90,210.85 L124.72,211.77 L124.55,212.61 L124.33,213.34 L124.15,213.95 L123.99,214.42 Z" fill="#404040" stroke="none"/>
<path d="M124.32,214.54 L124.50,214.07 L124.72,213.47 L124.97,212.75 L125.29,211.96 L125.65,211.11 L126.04,210.22 L126.45,209.31 L126.88,208.42 L127.32,207.56 L127.77,206.76 L128.21,206.04 L128.65,205.43 L129.10,204.89 L129.54,204.38 L129.99,203.91 L130.42,203.45 L130.85,203.01 L131.31,202.60 L131.80,202.20 L132.32,201.82 L132.88,201.45 L133.50,201.08 L134.17,200.71 L134.90,200.34 L135.71,199.97 L136.61,199.61 L137.59,199.25 L138.63,198.91 L139.73,198.57 L140.85,198.24 L141.98,197.93 L143.10,197.63 L144.21,197.35 L145.27,197.08 L146.28,196.83 L147.22,196.60 L148.09,196.40 L148.92,196.21 L149.72,196.05 L150.50,195.91 L151.25,195.78 L151.98,195.67 L152.70,195.56 L153.40,195.47 L154.09,195.38 L154.77,195.29 L155.45,195.21 L156.12,195.12 L156.78,195.04 L157.46,194.95 L158.14,194.83 L158.81,194.71 L159.47,194.59 L160.11,194.47 L160.72,194.35 L161.29,194.23 L161.82,194.11 L162.28,193.99 L162.68,193.85 L163.00,193.60 L163.00,193.60 L162.65,193.40 L162.24,193.32 L161.76,193.26 L161.22,193.21 L160.64,193.17 L160.01,193.15 L159.35,193.13 L158.67,193.12 L157.97,193.12 L157.27,193.13 L156.57,193.19 L155.88,193.28 L155.21,193.37 L154.54,193.45 L153.85,193.54 L153.16,193.63 L152.44,193.73 L151.71,193.83 L150.95,193.95 L150.17,194.08 L149.37,194.23 L148.53,194.40 L147.67,194.59 L146.78,194.80 L145.84,195.03 L144.83,195.28 L143.75,195.55 L142.64,195.84 L141.49,196.14 L140.34,196.46 L139.19,196.79 L138.07,197.14 L136.98,197.50 L135.95,197.87 L134.98,198.26 L134.10,198.66 L133.31,199.07 L132.58,199.47 L131.90,199.88 L131.26,200.30 L130.66,200.73 L130.10,201.19 L129.57,201.67 L129.07,202.17 L128.60,202.70 L128.17,203.29 L127.76,203.91 L127.35,204.57 L126.95,205.32 L126.57,206.17 L126.22,207.07 L125.90,208.03 L125.62,209.00 L125.35,209.97 L125.10,210.92 L124.88,211.82 L124.66,212.65 L124.44,213.37 L124.25,213.98 L124.08,214.46 Z" fill="#666" stroke="none"/>
<path d="M124.24,214.52 L124.42,214.05 L124.64,213.44 L124.88,212.72 L125.16,211.91 L125.48,211.05 L125.82,210.14 L126.19,209.21 L126.58,208.30 L126.98,207.41 L127.39,206.57 L127.81,205.82 L128.24,205.16 L128.68,204.58 L129.11,204.04 L129.56,203.53 L130.00,203.05 L130.45,202.59 L130.93,202.16 L131.44,201.74 L131.99,201.34 L132.58,200.96 L133.21,200.57 L133.90,200.19 L134.65,199.81 L135.48,199.44 L136.40,199.07 L137.40,198.71 L138.46,198.35 L139.56,198.01 L140.69,197.68 L141.83,197.37 L142.96,197.07 L144.07,196.79 L145.13,196.52 L146.15,196.27 L147.08,196.04 L147.96,195.83 L148.80,195.65 L149.61,195.48 L150.39,195.34 L151.16,195.21 L151.90,195.09 L152.62,194.99 L153.32,194.89 L154.02,194.80 L154.70,194.72 L155.38,194.63 L156.04,194.55 L156.72,194.46 L157.40,194.38 L158.08,194.29 L158.77,194.21 L159.43,194.13 L160.08,194.05 L160.70,193.98 L161.27,193.91 L161.80,193.85 L162.27,193.78 L162.67,193.71 L163.00,193.60 L163.00,193.60 L162.66,193.54 L162.25,193.53 L161.78,193.53 L161.25,193.53 L160.67,193.54 L160.04,193.56 L159.39,193.58 L158.72,193.61 L158.02,193.65 L157.33,193.70 L156.64,193.77 L155.96,193.85 L155.29,193.94 L154.61,194.03 L153.93,194.11 L153.23,194.20 L152.52,194.30 L151.79,194.41 L151.04,194.52 L150.27,194.65 L149.48,194.80 L148.65,194.97 L147.80,195.15 L146.92,195.36 L145.98,195.59 L144.97,195.84 L143.89,196.11 L142.78,196.40 L141.64,196.70 L140.50,197.02 L139.36,197.35 L138.25,197.69 L137.17,198.05 L136.15,198.42 L135.21,198.80 L134.35,199.19 L133.58,199.58 L132.86,199.97 L132.20,200.37 L131.59,200.77 L131.02,201.19 L130.48,201.63 L129.97,202.09 L129.49,202.57 L129.03,203.08 L128.60,203.63 L128.18,204.21 L127.76,204.84 L127.34,205.55 L126.94,206.35 L126.56,207.23 L126.21,208.15 L125.88,209.10 L125.56,210.05 L125.28,210.98 L125.01,211.86 L124.76,212.68 L124.53,213.40 L124.33,214.01 L124.16,214.48 Z" fill="#999" stroke="none"/>
<path d="M131.23,201.47 L131.79,201.06 L132.39,200.66 L133.04,200.27 L133.74,199.89 L134.50,199.50 L135.34,199.12 L136.28,198.74 L137.29,198.38 L138.35,198.02 L139.46,197.68 L140.59,197.35 L141.74,197.03 L142.87,196.73 L143.98,196.45 L145.05,196.18 L146.06,195.93 L147.00,195.70 L147.88,195.49 L148.73,195.31 L149.54,195.14 L150.33,195.00 L151.10,194.87 L151.84,194.75 L152.57,194.64 L153.28,194.55 L153.97,194.46 L154.66,194.37 L155.33,194.29 L156.00,194.20 L156.68,194.12 L157.36,194.04 L158.05,193.97" fill="none" stroke="#e8e8e8" stroke-width="0.7" stroke-dasharray="2 1.2"/>
<line x1="125.8" y1="225.7" x2="125.8" y2="229.9" stroke="#eee" stroke-width="0.8"/>
</g>
<path d="M117.6,209.8 L123.5,195.5 L136.5,186.2 L160.4,186.2 L168.8,204.6 Z" fill="none" stroke="#808080" stroke-width="0.7"/>
<rect x="114.60" y="213.00" width="21.90" height="37.40" fill="none" stroke="#808080" stroke-width="0.7" />
<rect x="136.50" y="210.30" width="30.70" height="37.80" fill="none" stroke="#808080" stroke-width="0.7" />
<text x="113.5" y="193.5" font-size="5.7" font-weight="normal" text-anchor="start" fill="#222" font-family="'Liberation Sans', Arial, sans-serif" >32.2</text>
<text x="120" y="249.1" font-size="5.7" font-weight="normal" text-anchor="middle" fill="#222" font-family="'Liberation Sans', Arial, sans-serif" >61</text>
<text x="151.2" y="247" font-size="5.7" font-weight="normal" text-anchor="middle" fill="#222" font-family="'Liberation Sans', Arial, sans-serif" >6.21</text>
<rect x="188.60" y="184.80" width="78.10" height="81.00" fill="#fff" stroke="#000" stroke-width="1.3" />
<g filter="url(#fb)">
<circle cx="248.8" cy="238.7" r="0.45" fill="#8a8a8a"/>
<circle cx="225.6" cy="215.0" r="0.45" fill="#8a8a8a"/>
<circle cx="245.7" cy="232.9" r="0.45" fill="#8a8a8a"/>
<circle cx="241.4" cy="221.1" r="0.45" fill="#8a8a8a"/>
<circle cx="239.7" cy="229.3" r="0.45" fill="#8a8a8a"/>
<circle cx="239.1" cy="217.0" r="0.45" fill="#8a8a8a"/>
<circle cx="235.2" cy="223.5" r="0.45" fill="#8a8a8a"/>
<circle cx="242.8" cy="240.0" r="0.45" fill="#8a8a8a"/>
<circle cx="248.6" cy="227.6" r="0.45" fill="#8a8a8a"/>
<circle cx="235.6" cy="220.0" r="0.45" fill="#8a8a8a"/>
<circle cx="225.0" cy="213.5" r="0.45" fill="#8a8a8a"/>
<circle cx="236.1" cy="221.4" r="0.45" fill="#8a8a8a"/>
<circle cx="233.9" cy="237.1" r="0.45" fill="#8a8a8a"/>
<circle cx="237.7" cy="228.1" r="0.45" fill="#8a8a8a"/>
<circle cx="230.2" cy="213.4" r="0.45" fill="#8a8a8a"/>
<circle cx="232.5" cy="216.4" r="0.45" fill="#8a8a8a"/>
<circle cx="237.3" cy="240.1" r="0.45" fill="#8a8a8a"/>
<circle cx="241.5" cy="217.7" r="0.45" fill="#8a8a8a"/>
<circle cx="247.2" cy="234.5" r="0.45" fill="#8a8a8a"/>
<circle cx="243.0" cy="237.5" r="0.45" fill="#8a8a8a"/>
<circle cx="243.8" cy="234.3" r="0.45" fill="#8a8a8a"/>
<circle cx="233.2" cy="239.6" r="0.45" fill="#8a8a8a"/>
<circle cx="248.9" cy="217.1" r="0.45" fill="#8a8a8a"/>
<circle cx="243.6" cy="232.3" r="0.45" fill="#8a8a8a"/>
<circle cx="236.0" cy="227.2" r="0.45" fill="#8a8a8a"/>
<circle cx="236.7" cy="238.0" r="0.45" fill="#8a8a8a"/>
<circle cx="237.0" cy="235.5" r="0.45" fill="#8a8a8a"/>
<circle cx="233.2" cy="236.9" r="0.45" fill="#8a8a8a"/>
<circle cx="247.3" cy="225.3" r="0.45" fill="#8a8a8a"/>
<circle cx="238.7" cy="237.9" r="0.45" fill="#8a8a8a"/>
<circle cx="242.8" cy="226.0" r="0.45" fill="#8a8a8a"/>
<circle cx="229.8" cy="221.6" r="0.45" fill="#8a8a8a"/>
<circle cx="242.1" cy="217.3" r="0.45" fill="#8a8a8a"/>
<circle cx="247.5" cy="220.0" r="0.45" fill="#8a8a8a"/>
<circle cx="247.6" cy="221.2" r="0.45" fill="#8a8a8a"/>
<circle cx="248.8" cy="232.1" r="0.45" fill="#8a8a8a"/>
<circle cx="237.1" cy="226.9" r="0.45" fill="#8a8a8a"/>
<circle cx="240.9" cy="228.8" r="0.45" fill="#8a8a8a"/>
<circle cx="232.1" cy="218.4" r="0.45" fill="#8a8a8a"/>
<circle cx="237.3" cy="238.3" r="0.45" fill="#8a8a8a"/>
<circle cx="240.2" cy="214.8" r="0.45" fill="#8a8a8a"/>
<circle cx="245.3" cy="232.6" r="0.45" fill="#8a8a8a"/>
<circle cx="247.5" cy="217.9" r="0.45" fill="#8a8a8a"/>
<circle cx="243.3" cy="214.3" r="0.45" fill="#8a8a8a"/>
<circle cx="240.9" cy="220.2" r="0.45" fill="#8a8a8a"/>
<circle cx="229.9" cy="236.7" r="0.45" fill="#8a8a8a"/>
<circle cx="226.8" cy="227.0" r="0.45" fill="#8a8a8a"/>
<circle cx="246.1" cy="219.4" r="0.45" fill="#8a8a8a"/>
<circle cx="229.5" cy="236.8" r="0.45" fill="#8a8a8a"/>
<circle cx="235.0" cy="232.3" r="0.45" fill="#8a8a8a"/>
<circle cx="224.9" cy="222.6" r="0.45" fill="#8a8a8a"/>
<circle cx="228.5" cy="231.1" r="0.45" fill="#8a8a8a"/>
<circle cx="226.2" cy="238.9" r="0.45" fill="#8a8a8a"/>
<circle cx="224.8" cy="232.7" r="0.45" fill="#8a8a8a"/>
<circle cx="224.6" cy="219.7" r="0.45" fill="#8a8a8a"/>
<circle cx="245.1" cy="217.0" r="0.45" fill="#8a8a8a"/>
<circle cx="228.8" cy="231.6" r="0.45" fill="#8a8a8a"/>
<circle cx="234.0" cy="213.9" r="0.45" fill="#8a8a8a"/>
<circle cx="249.6" cy="216.8" r="0.45" fill="#8a8a8a"/>
<circle cx="225.0" cy="222.1" r="0.45" fill="#8a8a8a"/>
<circle cx="240.0" cy="233.0" r="0.45" fill="#8a8a8a"/>
<circle cx="227.0" cy="221.9" r="0.45" fill="#8a8a8a"/>
<circle cx="224.9" cy="225.0" r="0.45" fill="#8a8a8a"/>
<circle cx="243.9" cy="233.0" r="0.45" fill="#8a8a8a"/>
<circle cx="247.4" cy="233.4" r="0.45" fill="#8a8a8a"/>
<circle cx="246.4" cy="232.0" r="0.45" fill="#8a8a8a"/>
<circle cx="236.3" cy="218.9" r="0.45" fill="#8a8a8a"/>
<circle cx="241.1" cy="221.4" r="0.45" fill="#8a8a8a"/>
<circle cx="226.7" cy="225.0" r="0.45" fill="#8a8a8a"/>
<circle cx="246.7" cy="216.2" r="0.45" fill="#8a8a8a"/>
<path d="M216,212.5 C222,210.5 230,211.5 233.5,214.5 C236.5,217.5 236,222 231,223 C227,224 224,222 221,225 C219,228 217,232 216,237" fill="none" stroke="#666" stroke-width="0.75"/>
<path d="M217,215.5 C221,213.5 227,214.5 229.5,216.5 C231.5,218.5 229,221 225,221 C222,221 220,222 218,224" fill="none" stroke="#777" stroke-width="0.75"/>
<path d="M218,218 C221,216.8 224,217 225.5,218.2" fill="none" stroke="#888" stroke-width="0.75"/>
<ellipse cx="212.5" cy="232" rx="6.50" ry="9.50" fill="#ececec"/>
<ellipse cx="212.5" cy="232" rx="5.20" ry="7.60" fill="#d0d0d0"/>
<ellipse cx="212.5" cy="232" rx="3.90" ry="5.70" fill="#b4b4b4"/>
<ellipse cx="211.8" cy="225.2" rx="6.80" ry="13.40" fill="#e4e4e4" stroke="#8a8a8a" stroke-width="0.5"/>
<ellipse cx="211.8" cy="225.2" rx="5.85" ry="11.52" fill="#c0c0c0" stroke="#8a8a8a" stroke-width="0.5"/>
<ellipse cx="211.8" cy="225.2" rx="5.03" ry="9.92" fill="#8a8a8a"/>
<ellipse cx="211.8" cy="225.2" rx="4.35" ry="8.58" fill="#2a2a2a"/>
<ellipse cx="211.8" cy="225.2" rx="3.40" ry="6.70" fill="#0a0a0a"/>
<ellipse cx="211.8" cy="225.2" rx="2.58" ry="5.09" fill="#555"/>
<ellipse cx="211.8" cy="225.2" rx="1.77" ry="3.48" fill="#8a8a8a"/>
<ellipse cx="211.8" cy="225.2" rx="0.95" ry="1.88" fill="#c8c8c8"/>
<path d="M216.64,214.27 L216.81,213.72 L217.00,213.03 L217.18,212.32 L217.37,211.57 L217.57,210.79 L217.78,210.02 L218.00,209.26 L218.23,208.56 L218.46,207.94 L218.69,207.45 L218.87,207.14 L218.98,207.01 L219.09,206.90 L219.27,206.71 L219.52,206.48 L219.84,206.23 L220.21,205.97 L220.65,205.68 L221.14,205.39 L221.67,205.09 L222.23,204.79 L222.83,204.47 L223.46,204.14 L224.04,203.82 L224.52,203.55 L224.95,203.33 L225.38,203.11 L225.82,202.91 L226.27,202.72 L226.73,202.53 L227.20,202.35 L227.69,202.17 L228.19,201.99 L228.70,201.82 L229.24,201.64 L229.76,201.47 L230.23,201.31 L230.70,201.17 L231.17,201.03 L231.66,200.90 L232.17,200.78 L232.69,200.65 L233.23,200.53 L233.78,200.41 L234.34,200.29 L234.92,200.16 L235.51,200.03 L236.10,199.90 L236.67,199.76 L237.22,199.61 L237.75,199.47 L238.27,199.33 L238.78,199.20 L239.29,199.07 L239.79,198.95 L240.30,198.82 L240.83,198.70 L241.36,198.59 L241.92,198.47 L242.50,198.36 L243.13,198.22 L243.84,198.08 L244.62,197.93 L245.45,197.79 L246.29,197.65 L247.14,197.51 L247.97,197.38 L248.75,197.25 L249.48,197.12 L250.14,197.00 L250.70,196.89 L251.14,196.79 L250.46,188.81 L250.03,188.78 L249.48,188.76 L248.82,188.75 L248.08,188.74 L247.27,188.74 L246.41,188.74 L245.53,188.75 L244.63,188.76 L243.75,188.77 L242.89,188.79 L242.06,188.81 L241.30,188.84 L240.60,188.90 L239.93,188.96 L239.28,189.03 L238.66,189.10 L238.05,189.17 L237.46,189.24 L236.89,189.32 L236.32,189.39 L235.76,189.47 L235.21,189.54 L234.65,189.62 L234.10,189.70 L233.55,189.79 L232.99,189.87 L232.42,189.96 L231.83,190.06 L231.22,190.16 L230.61,190.26 L229.97,190.37 L229.33,190.50 L228.67,190.63 L228.00,190.78 L227.31,190.95 L226.64,191.13 L226.02,191.31 L225.42,191.49 L224.80,191.68 L224.17,191.89 L223.53,192.10 L222.87,192.33 L222.20,192.59 L221.52,192.86 L220.83,193.16 L220.13,193.48 L219.42,193.83 L218.76,194.18 L218.18,194.51 L217.58,194.84 L216.93,195.20 L216.24,195.60 L215.50,196.04 L214.74,196.53 L213.95,197.07 L213.15,197.67 L212.34,198.35 L211.55,199.11 L210.77,199.98 L210.02,200.99 L209.37,202.13 L208.86,203.29 L208.47,204.42 L208.15,205.52 L207.88,206.58 L207.66,207.61 L207.47,208.58 L207.32,209.47 L207.19,210.26 L207.09,210.92 L207.02,211.38 L206.96,211.73 Z" fill="#d4d4d4" stroke="none"/>
<path d="M216.64,214.27 L216.81,213.72 L217.00,213.03 L217.18,212.32 L217.37,211.57 L217.57,210.79 L217.78,210.02 L218.00,209.26 L218.23,208.56 L218.46,207.94 L218.69,207.45 L218.87,207.14 L218.98,207.01 L219.09,206.90 L219.27,206.71 L219.52,206.48 L219.84,206.23 L220.21,205.97 L220.65,205.68 L221.14,205.39 L221.67,205.09 L222.23,204.79 L222.83,204.47 L223.46,204.14 L224.04,203.82 L224.52,203.55 L224.95,203.33 L225.38,203.11 L225.82,202.91 L226.27,202.72 L226.73,202.53 L227.20,202.35 L227.69,202.17 L228.19,201.99 L228.70,201.82 L229.24,201.64 L229.76,201.47 L230.23,201.31 L230.70,201.17 L231.17,201.03 L231.66,200.90 L232.17,200.78 L232.69,200.65 L233.23,200.53 L233.78,200.41 L234.34,200.29 L234.92,200.16 L235.51,200.03 L236.10,199.90 L236.67,199.76 L237.22,199.61 L237.75,199.47 L238.27,199.33 L238.78,199.20 L239.29,199.07 L239.79,198.95 L240.30,198.82 L240.83,198.70 L241.36,198.59 L241.92,198.47 L242.50,198.36 L243.13,198.22 L243.84,198.08 L244.62,197.93 L245.45,197.79 L246.29,197.65 L247.14,197.51 L247.97,197.38 L248.75,197.25 L249.48,197.12 L250.14,197.00 L250.70,196.89 L251.14,196.79 L250.46,188.81 L250.03,188.78 L249.48,188.76 L248.82,188.75 L248.08,188.74 L247.27,188.74 L246.41,188.74 L245.53,188.75 L244.63,188.76 L243.75,188.77 L242.89,188.79 L242.06,188.81 L241.30,188.84 L240.60,188.90 L239.93,188.96 L239.28,189.03 L238.66,189.10 L238.05,189.17 L237.46,189.24 L236.89,189.32 L236.32,189.39 L235.76,189.47 L235.21,189.54 L234.65,189.62 L234.10,189.70 L233.55,189.79 L232.99,189.87 L232.42,189.96 L231.83,190.06 L231.22,190.16 L230.61,190.26 L229.97,190.37 L229.33,190.50 L228.67,190.63 L228.00,190.78 L227.31,190.95 L226.64,191.13 L226.02,191.31 L225.42,191.49 L224.80,191.68 L224.17,191.89 L223.53,192.10 L222.87,192.33 L222.20,192.59 L221.52,192.86 L220.83,193.16 L220.13,193.48 L219.42,193.83 L218.76,194.18 L218.18,194.51 L217.58,194.84 L216.93,195.20 L216.24,195.60 L215.50,196.04 L214.74,196.53 L213.95,197.07 L213.15,197.67 L212.34,198.35 L211.55,199.11 L210.77,199.98 L210.02,200.99 L209.37,202.13 L208.86,203.29 L208.47,204.42 L208.15,205.52 L207.88,206.58 L207.66,207.61 L207.47,208.58 L207.32,209.47 L207.19,210.26 L207.09,210.92 L207.02,211.38 L206.96,211.73 Z" fill="none" stroke="#8a8a8a" stroke-width="0.5"/>
<path d="M216.06,214.11 L216.23,213.58 L216.41,212.91 L216.58,212.19 L216.77,211.44 L216.96,210.66 L217.17,209.87 L217.39,209.10 L217.63,208.38 L217.87,207.73 L218.10,207.20 L218.30,206.84 L218.44,206.65 L218.59,206.48 L218.81,206.25 L219.09,205.99 L219.44,205.72 L219.84,205.43 L220.30,205.14 L220.80,204.83 L221.34,204.52 L221.92,204.21 L222.52,203.89 L223.14,203.56 L223.73,203.24 L224.21,202.97 L224.66,202.74 L225.11,202.52 L225.56,202.31 L226.03,202.11 L226.50,201.92 L226.98,201.73 L227.48,201.55 L227.99,201.37 L228.51,201.20 L229.04,201.02 L229.57,200.85 L230.06,200.69 L230.53,200.55 L231.02,200.41 L231.52,200.28 L232.04,200.15 L232.57,200.03 L233.11,199.91 L233.66,199.79 L234.23,199.67 L234.80,199.55 L235.39,199.42 L235.98,199.29 L236.55,199.15 L237.10,199.01 L237.63,198.87 L238.15,198.74 L238.67,198.61 L239.18,198.48 L239.69,198.36 L240.21,198.24 L240.73,198.12 L241.28,198.01 L241.84,197.90 L242.43,197.79 L243.06,197.66 L243.79,197.52 L244.57,197.38 L245.40,197.25 L246.25,197.11 L247.09,196.98 L247.92,196.86 L248.71,196.74 L249.44,196.62 L250.10,196.51 L250.66,196.40 L251.10,196.31 L250.50,189.29 L250.07,189.27 L249.52,189.26 L248.86,189.25 L248.12,189.25 L247.31,189.26 L246.46,189.27 L245.57,189.28 L244.68,189.30 L243.80,189.32 L242.94,189.35 L242.13,189.38 L241.37,189.41 L240.68,189.47 L240.01,189.54 L239.38,189.61 L238.76,189.68 L238.16,189.75 L237.57,189.83 L237.00,189.91 L236.44,189.99 L235.88,190.07 L235.33,190.15 L234.78,190.23 L234.22,190.31 L233.67,190.40 L233.11,190.49 L232.53,190.58 L231.95,190.68 L231.35,190.78 L230.73,190.88 L230.11,191.00 L229.47,191.12 L228.82,191.26 L228.16,191.41 L227.49,191.57 L226.83,191.75 L226.22,191.93 L225.62,192.11 L225.01,192.30 L224.38,192.50 L223.75,192.72 L223.10,192.95 L222.44,193.19 L221.78,193.46 L221.10,193.75 L220.42,194.07 L219.72,194.41 L219.07,194.76 L218.49,195.09 L217.90,195.42 L217.25,195.78 L216.56,196.17 L215.84,196.60 L215.09,197.08 L214.33,197.60 L213.55,198.18 L212.77,198.83 L212.01,199.57 L211.27,200.39 L210.56,201.35 L209.94,202.43 L209.45,203.54 L209.07,204.63 L208.75,205.70 L208.49,206.74 L208.27,207.75 L208.08,208.71 L207.92,209.60 L207.79,210.39 L207.68,211.04 L207.61,211.52 L207.54,211.89 Z" fill="#b2b2b2" stroke="none"/>
<path d="M216.06,214.11 L216.23,213.58 L216.41,212.91 L216.58,212.19 L216.77,211.44 L216.96,210.66 L217.17,209.87 L217.39,209.10 L217.63,208.38 L217.87,207.73 L218.10,207.20 L218.30,206.84 L218.44,206.65 L218.59,206.48 L218.81,206.25 L219.09,205.99 L219.44,205.72 L219.84,205.43 L220.30,205.14 L220.80,204.83 L221.34,204.52 L221.92,204.21 L222.52,203.89 L223.14,203.56 L223.73,203.24 L224.21,202.97 L224.66,202.74 L225.11,202.52 L225.56,202.31 L226.03,202.11 L226.50,201.92 L226.98,201.73 L227.48,201.55 L227.99,201.37 L228.51,201.20 L229.04,201.02 L229.57,200.85 L230.06,200.69 L230.53,200.55 L231.02,200.41 L231.52,200.28 L232.04,200.15 L232.57,200.03 L233.11,199.91 L233.66,199.79 L234.23,199.67 L234.80,199.55 L235.39,199.42 L235.98,199.29 L236.55,199.15 L237.10,199.01 L237.63,198.87 L238.15,198.74 L238.67,198.61 L239.18,198.48 L239.69,198.36 L240.21,198.24 L240.73,198.12 L241.28,198.01 L241.84,197.90 L242.43,197.79 L243.06,197.66 L243.79,197.52 L244.57,197.38 L245.40,197.25 L246.25,197.11 L247.09,196.98 L247.92,196.86 L248.71,196.74 L249.44,196.62 L250.10,196.51 L250.66,196.40 L251.10,196.31 L250.50,189.29 L250.07,189.27 L249.52,189.26 L248.86,189.25 L248.12,189.25 L247.31,189.26 L246.46,189.27 L245.57,189.28 L244.68,189.30 L243.80,189.32 L242.94,189.35 L242.13,189.38 L241.37,189.41 L240.68,189.47 L240.01,189.54 L239.38,189.61 L238.76,189.68 L238.16,189.75 L237.57,189.83 L237.00,189.91 L236.44,189.99 L235.88,190.07 L235.33,190.15 L234.78,190.23 L234.22,190.31 L233.67,190.40 L233.11,190.49 L232.53,190.58 L231.95,190.68 L231.35,190.78 L230.73,190.88 L230.11,191.00 L229.47,191.12 L228.82,191.26 L228.16,191.41 L227.49,191.57 L226.83,191.75 L226.22,191.93 L225.62,192.11 L225.01,192.30 L224.38,192.50 L223.75,192.72 L223.10,192.95 L222.44,193.19 L221.78,193.46 L221.10,193.75 L220.42,194.07 L219.72,194.41 L219.07,194.76 L218.49,195.09 L217.90,195.42 L217.25,195.78 L216.56,196.17 L215.84,196.60 L215.09,197.08 L214.33,197.60 L213.55,198.18 L212.77,198.83 L212.01,199.57 L211.27,200.39 L210.56,201.35 L209.94,202.43 L209.45,203.54 L209.07,204.63 L208.75,205.70 L208.49,206.74 L208.27,207.75 L208.08,208.71 L207.92,209.60 L207.79,210.39 L207.68,211.04 L207.61,211.52 L207.54,211.89 Z" fill="none" stroke="#777" stroke-width="0.5"/>
<path d="M215.48,213.96 L215.64,213.44 L215.81,212.78 L215.98,212.07 L216.16,211.31 L216.36,210.53 L216.56,209.73 L216.79,208.94 L217.02,208.19 L217.27,207.52 L217.51,206.95 L217.73,206.54 L217.91,206.29 L218.09,206.06 L218.34,205.79 L218.66,205.51 L219.03,205.21 L219.46,204.90 L219.94,204.59 L220.46,204.27 L221.01,203.95 L221.60,203.64 L222.20,203.31 L222.82,202.98 L223.41,202.67 L223.91,202.39 L224.37,202.15 L224.84,201.92 L225.31,201.70 L225.78,201.50 L226.27,201.30 L226.76,201.12 L227.27,200.93 L227.78,200.75 L228.31,200.58 L228.85,200.40 L229.38,200.23 L229.88,200.07 L230.37,199.92 L230.87,199.79 L231.38,199.65 L231.91,199.53 L232.44,199.41 L232.99,199.29 L233.54,199.17 L234.11,199.05 L234.69,198.93 L235.27,198.80 L235.86,198.68 L236.43,198.54 L236.98,198.40 L237.51,198.27 L238.04,198.14 L238.55,198.02 L239.07,197.89 L239.58,197.77 L240.11,197.66 L240.64,197.54 L241.19,197.43 L241.76,197.32 L242.36,197.22 L243.00,197.09 L243.73,196.96 L244.52,196.83 L245.35,196.71 L246.20,196.58 L247.05,196.46 L247.88,196.34 L248.67,196.23 L249.40,196.12 L250.06,196.01 L250.62,195.92 L251.06,195.83 L250.54,189.77 L250.11,189.76 L249.56,189.75 L248.90,189.75 L248.16,189.76 L247.35,189.77 L246.50,189.79 L245.62,189.82 L244.73,189.84 L243.85,189.87 L243.00,189.91 L242.19,189.94 L241.44,189.98 L240.76,190.05 L240.10,190.12 L239.47,190.19 L238.86,190.26 L238.26,190.34 L237.68,190.42 L237.11,190.50 L236.56,190.58 L236.00,190.67 L235.45,190.75 L234.90,190.84 L234.34,190.92 L233.78,191.02 L233.22,191.11 L232.65,191.20 L232.06,191.30 L231.47,191.40 L230.86,191.51 L230.24,191.62 L229.61,191.75 L228.97,191.88 L228.32,192.03 L227.66,192.19 L227.02,192.37 L226.41,192.55 L225.81,192.73 L225.21,192.92 L224.59,193.12 L223.97,193.33 L223.33,193.56 L222.69,193.80 L222.04,194.07 L221.37,194.35 L220.71,194.66 L220.03,194.99 L219.39,195.33 L218.81,195.66 L218.21,195.99 L217.57,196.35 L216.89,196.74 L216.18,197.16 L215.45,197.63 L214.70,198.13 L213.95,198.70 L213.20,199.32 L212.47,200.02 L211.77,200.81 L211.09,201.71 L210.51,202.74 L210.04,203.79 L209.67,204.84 L209.36,205.88 L209.10,206.90 L208.87,207.90 L208.69,208.84 L208.53,209.72 L208.39,210.51 L208.28,211.17 L208.20,211.66 L208.12,212.04 Z" fill="#808080" stroke="none"/>
<path d="M215.48,213.96 L215.64,213.44 L215.81,212.78 L215.98,212.07 L216.16,211.31 L216.36,210.53 L216.56,209.73 L216.79,208.94 L217.02,208.19 L217.27,207.52 L217.51,206.95 L217.73,206.54 L217.91,206.29 L218.09,206.06 L218.34,205.79 L218.66,205.51 L219.03,205.21 L219.46,204.90 L219.94,204.59 L220.46,204.27 L221.01,203.95 L221.60,203.64 L222.20,203.31 L222.82,202.98 L223.41,202.67 L223.91,202.39 L224.37,202.15 L224.84,201.92 L225.31,201.70 L225.78,201.50 L226.27,201.30 L226.76,201.12 L227.27,200.93 L227.78,200.75 L228.31,200.58 L228.85,200.40 L229.38,200.23 L229.88,200.07 L230.37,199.92 L230.87,199.79 L231.38,199.65 L231.91,199.53 L232.44,199.41 L232.99,199.29 L233.54,199.17 L234.11,199.05 L234.69,198.93 L235.27,198.80 L235.86,198.68 L236.43,198.54 L236.98,198.40 L237.51,198.27 L238.04,198.14 L238.55,198.02 L239.07,197.89 L239.58,197.77 L240.11,197.66 L240.64,197.54 L241.19,197.43 L241.76,197.32 L242.36,197.22 L243.00,197.09 L243.73,196.96 L244.52,196.83 L245.35,196.71 L246.20,196.58 L247.05,196.46 L247.88,196.34 L248.67,196.23 L249.40,196.12 L250.06,196.01 L250.62,195.92 L251.06,195.83 L250.54,189.77 L250.11,189.76 L249.56,189.75 L248.90,189.75 L248.16,189.76 L247.35,189.77 L246.50,189.79 L245.62,189.82 L244.73,189.84 L243.85,189.87 L243.00,189.91 L242.19,189.94 L241.44,189.98 L240.76,190.05 L240.10,190.12 L239.47,190.19 L238.86,190.26 L238.26,190.34 L237.68,190.42 L237.11,190.50 L236.56,190.58 L236.00,190.67 L235.45,190.75 L234.90,190.84 L234.34,190.92 L233.78,191.02 L233.22,191.11 L232.65,191.20 L232.06,191.30 L231.47,191.40 L230.86,191.51 L230.24,191.62 L229.61,191.75 L228.97,191.88 L228.32,192.03 L227.66,192.19 L227.02,192.37 L226.41,192.55 L225.81,192.73 L225.21,192.92 L224.59,193.12 L223.97,193.33 L223.33,193.56 L222.69,193.80 L222.04,194.07 L221.37,194.35 L220.71,194.66 L220.03,194.99 L219.39,195.33 L218.81,195.66 L218.21,195.99 L217.57,196.35 L216.89,196.74 L216.18,197.16 L215.45,197.63 L214.70,198.13 L213.95,198.70 L213.20,199.32 L212.47,200.02 L211.77,200.81 L211.09,201.71 L210.51,202.74 L210.04,203.79 L209.67,204.84 L209.36,205.88 L209.10,206.90 L208.87,207.90 L208.69,208.84 L208.53,209.72 L208.39,210.51 L208.28,211.17 L208.20,211.66 L208.12,212.04 Z" fill="none" stroke="#555" stroke-width="0.5"/>
<path d="M212.57,213.20 L212.70,212.74 L212.84,212.14 L212.99,211.45 L213.29,210.71 L213.66,209.94 L214.07,209.13 L214.50,208.33 L214.95,207.57 L215.42,206.87 L215.88,206.27 L216.33,205.81 L216.74,205.51 L217.14,205.27 L217.59,205.05 L218.07,204.84 L218.60,204.65 L219.09,204.36 L219.59,204.04 L220.12,203.71 L220.69,203.38 L221.28,203.06 L221.89,202.74 L222.50,202.41 L223.09,202.09 L223.60,201.80 L224.08,201.55 L224.56,201.32 L225.05,201.10 L225.54,200.89 L226.04,200.69 L226.54,200.50 L227.06,200.32 L227.58,200.14 L228.11,199.96 L228.66,199.78 L229.20,199.61 L229.71,199.45 L230.21,199.30 L230.72,199.16 L231.24,199.03 L231.78,198.90 L232.32,198.78 L232.87,198.66 L233.43,198.55 L234.00,198.43 L234.57,198.31 L235.15,198.19 L235.74,198.07 L236.31,197.93 L236.86,197.80 L237.39,197.67 L237.92,197.55 L238.44,197.42 L238.96,197.30 L239.48,197.19 L240.01,197.07 L240.55,196.96 L241.11,196.85 L241.68,196.75 L242.28,196.65 L242.94,196.53 L243.67,196.41 L244.47,196.28 L245.30,196.16 L246.15,196.05 L247.01,195.93 L247.84,195.82 L248.63,195.71 L249.36,195.61 L250.02,195.52 L250.58,195.43 L251.02,195.35 L250.58,190.25 L250.15,190.24 L249.60,190.25 L248.94,190.25 L248.20,190.27 L247.39,190.29 L246.54,190.32 L245.67,190.35 L244.78,190.38 L243.91,190.42 L243.06,190.46 L242.26,190.51 L241.52,190.55 L240.84,190.62 L240.19,190.69 L239.56,190.77 L238.95,190.85 L238.37,190.93 L237.79,191.01 L237.23,191.09 L236.67,191.18 L236.12,191.27 L235.57,191.36 L235.02,191.45 L234.46,191.53 L233.90,191.63 L233.34,191.73 L232.76,191.82 L232.18,191.92 L231.59,192.02 L230.98,192.13 L230.37,192.25 L229.75,192.37 L229.12,192.50 L228.48,192.65 L227.84,192.82 L227.20,192.99 L226.60,193.17 L226.01,193.35 L225.41,193.54 L224.80,193.74 L224.19,193.95 L223.56,194.17 L222.93,194.41 L222.29,194.67 L221.65,194.95 L221.00,195.25 L220.34,195.58 L219.71,195.91 L219.13,196.24 L218.53,196.57 L217.89,196.93 L217.21,197.31 L216.52,197.73 L215.80,198.18 L215.08,198.67 L214.39,199.26 L213.79,199.99 L213.23,200.77 L212.72,201.60 L212.26,202.49 L211.91,203.47 L211.67,204.48 L211.52,205.49 L211.43,206.51 L211.38,207.51 L211.37,208.49 L211.38,209.44 L211.40,210.32 L211.39,211.12 L211.25,211.81 L211.13,212.37 L211.03,212.80 Z" fill="#4a4a4a" stroke="none"/>
<path d="M212.43,213.16 L212.55,212.70 L212.69,212.11 L212.84,211.42 L213.11,210.68 L213.45,209.89 L213.81,209.07 L214.21,208.26 L214.62,207.47 L215.05,206.74 L215.49,206.10 L215.92,205.59 L216.32,205.22 L216.72,204.93 L217.18,204.65 L217.67,204.39 L218.20,204.14 L218.71,203.83 L219.23,203.49 L219.78,203.15 L220.36,202.82 L220.96,202.49 L221.57,202.16 L222.19,201.83 L222.77,201.51 L223.30,201.22 L223.79,200.96 L224.29,200.72 L224.79,200.50 L225.29,200.28 L225.80,200.08 L226.32,199.89 L226.84,199.70 L227.38,199.52 L227.92,199.34 L228.47,199.16 L229.01,198.99 L229.53,198.83 L230.05,198.68 L230.57,198.54 L231.10,198.41 L231.64,198.28 L232.19,198.16 L232.75,198.04 L233.31,197.92 L233.88,197.81 L234.46,197.69 L235.04,197.58 L235.62,197.45 L236.19,197.32 L236.74,197.20 L237.28,197.07 L237.80,196.95 L238.33,196.83 L238.85,196.71 L239.38,196.60 L239.91,196.49 L240.46,196.38 L241.02,196.28 L241.60,196.17 L242.21,196.08 L242.87,195.96 L243.61,195.85 L244.41,195.73 L245.25,195.62 L246.11,195.51 L246.96,195.41 L247.80,195.30 L248.59,195.20 L249.32,195.11 L249.98,195.02 L250.54,194.94 L250.98,194.87 L250.62,190.73 L250.19,190.73 L249.64,190.74 L248.98,190.76 L248.24,190.78 L247.43,190.81 L246.59,190.84 L245.71,190.88 L244.83,190.93 L243.96,190.97 L243.12,191.02 L242.32,191.07 L241.59,191.12 L240.92,191.20 L240.27,191.27 L239.65,191.35 L239.05,191.43 L238.47,191.51 L237.90,191.60 L237.34,191.69 L236.79,191.78 L236.24,191.87 L235.69,191.96 L235.14,192.05 L234.58,192.15 L234.02,192.25 L233.45,192.34 L232.88,192.44 L232.30,192.54 L231.71,192.65 L231.11,192.75 L230.50,192.87 L229.89,192.99 L229.27,193.13 L228.64,193.28 L228.01,193.44 L227.39,193.61 L226.79,193.79 L226.21,193.97 L225.61,194.16 L225.02,194.35 L224.41,194.56 L223.80,194.78 L223.18,195.02 L222.55,195.27 L221.92,195.55 L221.28,195.84 L220.64,196.16 L220.03,196.49 L219.44,196.82 L218.84,197.15 L218.21,197.50 L217.54,197.88 L216.85,198.29 L216.16,198.73 L215.45,199.20 L214.78,199.76 L214.19,200.44 L213.64,201.17 L213.13,201.94 L212.68,202.78 L212.32,203.69 L212.06,204.65 L211.88,205.62 L211.76,206.60 L211.67,207.59 L211.62,208.55 L211.59,209.48 L211.58,210.36 L211.54,211.16 L211.40,211.84 L211.28,212.40 L211.17,212.84 Z" fill="#222" stroke="none"/>
<path d="M212.28,213.13 L212.41,212.67 L212.54,212.08 L212.69,211.39 L212.93,210.64 L213.23,209.84 L213.56,209.01 L213.91,208.18 L214.29,207.37 L214.69,206.61 L215.09,205.93 L215.50,205.37 L215.90,204.94 L216.31,204.58 L216.77,204.25 L217.27,203.93 L217.81,203.64 L218.34,203.30 L218.88,202.94 L219.45,202.59 L220.04,202.25 L220.64,201.91 L221.26,201.58 L221.87,201.25 L222.46,200.93 L222.99,200.64 L223.50,200.37 L224.02,200.13 L224.53,199.90 L225.05,199.68 L225.57,199.47 L226.10,199.27 L226.63,199.08 L227.17,198.90 L227.72,198.72 L228.27,198.54 L228.82,198.37 L229.36,198.20 L229.89,198.05 L230.42,197.91 L230.96,197.78 L231.51,197.66 L232.07,197.53 L232.63,197.42 L233.19,197.30 L233.76,197.19 L234.34,197.08 L234.92,196.96 L235.50,196.84 L236.07,196.72 L236.62,196.59 L237.16,196.47 L237.69,196.35 L238.21,196.24 L238.74,196.12 L239.27,196.01 L239.81,195.90 L240.36,195.80 L240.93,195.70 L241.52,195.60 L242.14,195.50 L242.81,195.40 L243.56,195.29 L244.36,195.18 L245.20,195.08 L246.06,194.98 L246.92,194.88 L247.76,194.78 L248.55,194.69 L249.28,194.61 L249.94,194.53 L250.50,194.46 L250.94,194.39 L250.66,191.21 L250.23,191.22 L249.68,191.23 L249.02,191.26 L248.28,191.29 L247.48,191.33 L246.63,191.37 L245.76,191.42 L244.88,191.47 L244.01,191.52 L243.17,191.58 L242.38,191.64 L241.66,191.70 L241.00,191.77 L240.36,191.85 L239.75,191.93 L239.15,192.01 L238.57,192.10 L238.01,192.19 L237.46,192.28 L236.91,192.37 L236.36,192.47 L235.81,192.56 L235.26,192.66 L234.70,192.76 L234.14,192.86 L233.57,192.96 L232.99,193.06 L232.41,193.16 L231.83,193.27 L231.23,193.38 L230.63,193.49 L230.03,193.62 L229.42,193.75 L228.81,193.90 L228.19,194.06 L227.58,194.23 L226.99,194.41 L226.41,194.59 L225.82,194.78 L225.23,194.97 L224.63,195.17 L224.03,195.39 L223.42,195.63 L222.81,195.87 L222.19,196.14 L221.57,196.43 L220.95,196.75 L220.34,197.07 L219.76,197.40 L219.16,197.73 L218.52,198.08 L217.87,198.45 L217.19,198.85 L216.51,199.27 L215.83,199.74 L215.18,200.27 L214.59,200.90 L214.05,201.57 L213.55,202.29 L213.10,203.06 L212.74,203.91 L212.46,204.81 L212.25,205.75 L212.09,206.70 L211.97,207.66 L211.88,208.61 L211.81,209.53 L211.76,210.40 L211.69,211.19 L211.55,211.87 L211.43,212.44 L211.32,212.87 Z" fill="#161616" stroke="none"/>
<path d="M212.14,213.09 L212.26,212.63 L212.39,212.05 L212.54,211.36 L212.76,210.60 L213.02,209.79 L213.31,208.95 L213.62,208.10 L213.96,207.27 L214.32,206.48 L214.70,205.76 L215.09,205.15 L215.48,204.66 L215.89,204.24 L216.36,203.84 L216.87,203.48 L217.41,203.13 L217.96,202.76 L218.52,202.39 L219.11,202.03 L219.71,201.68 L220.33,201.34 L220.94,201.00 L221.55,200.67 L222.14,200.35 L222.68,200.05 L223.21,199.78 L223.74,199.53 L224.27,199.29 L224.81,199.07 L225.34,198.86 L225.88,198.66 L226.42,198.47 L226.97,198.28 L227.52,198.10 L228.08,197.92 L228.64,197.75 L229.18,197.58 L229.72,197.43 L230.27,197.29 L230.82,197.16 L231.38,197.03 L231.94,196.91 L232.51,196.80 L233.08,196.68 L233.65,196.57 L234.22,196.46 L234.80,196.35 L235.38,196.23 L235.95,196.11 L236.50,195.99 L237.04,195.87 L237.57,195.76 L238.10,195.64 L238.63,195.53 L239.17,195.43 L239.71,195.32 L240.27,195.22 L240.85,195.12 L241.45,195.03 L242.07,194.93 L242.75,194.83 L243.50,194.73 L244.31,194.64 L245.15,194.54 L246.02,194.44 L246.88,194.35 L247.71,194.27 L248.51,194.18 L249.24,194.11 L249.90,194.04 L250.46,193.97 L250.90,193.92 L250.70,191.68 L250.27,191.70 L249.72,191.73 L249.06,191.76 L248.32,191.80 L247.52,191.85 L246.67,191.90 L245.80,191.95 L244.93,192.01 L244.06,192.07 L243.23,192.13 L242.45,192.20 L241.73,192.27 L241.07,192.34 L240.45,192.43 L239.84,192.51 L239.25,192.60 L238.68,192.69 L238.12,192.78 L237.57,192.87 L237.02,192.97 L236.48,193.07 L235.93,193.17 L235.38,193.27 L234.82,193.37 L234.25,193.48 L233.68,193.58 L233.11,193.68 L232.53,193.78 L231.95,193.89 L231.36,194.00 L230.77,194.12 L230.17,194.24 L229.57,194.38 L228.97,194.52 L228.36,194.68 L227.76,194.85 L227.18,195.03 L226.60,195.21 L226.02,195.39 L225.44,195.59 L224.85,195.79 L224.26,196.00 L223.67,196.23 L223.07,196.48 L222.47,196.74 L221.86,197.02 L221.26,197.33 L220.66,197.65 L220.08,197.98 L219.47,198.31 L218.84,198.65 L218.19,199.02 L217.53,199.41 L216.87,199.82 L216.21,200.27 L215.57,200.77 L215.00,201.35 L214.46,201.97 L213.96,202.63 L213.52,203.34 L213.15,204.13 L212.85,204.98 L212.61,205.88 L212.42,206.80 L212.26,207.74 L212.13,208.67 L212.02,209.58 L211.93,210.43 L211.84,211.22 L211.70,211.90 L211.57,212.47 L211.46,212.91 Z" fill="#2a2a2a" stroke="none"/>
<path d="M211.99,213.05 L212.11,212.60 L212.24,212.02 L212.39,211.33 L212.58,210.57 L212.81,209.75 L213.06,208.89 L213.33,208.03 L213.63,207.17 L213.95,206.35 L214.30,205.60 L214.67,204.93 L215.06,204.38 L215.48,203.90 L215.95,203.44 L216.47,203.02 L217.02,202.63 L217.58,202.23 L218.17,201.84 L218.77,201.47 L219.39,201.11 L220.01,200.76 L220.63,200.42 L221.24,200.09 L221.82,199.77 L222.38,199.47 L222.92,199.19 L223.47,198.93 L224.01,198.69 L224.56,198.46 L225.11,198.25 L225.66,198.04 L226.21,197.85 L226.77,197.66 L227.32,197.48 L227.89,197.30 L228.45,197.13 L229.01,196.96 L229.56,196.81 L230.12,196.67 L230.68,196.53 L231.25,196.41 L231.82,196.29 L232.39,196.17 L232.96,196.06 L233.53,195.95 L234.11,195.84 L234.68,195.73 L235.26,195.62 L235.82,195.50 L236.38,195.38 L236.92,195.27 L237.45,195.16 L237.99,195.05 L238.52,194.94 L239.06,194.84 L239.61,194.74 L240.18,194.64 L240.76,194.54 L241.37,194.45 L242.00,194.36 L242.68,194.27 L243.44,194.18 L244.26,194.09 L245.11,194.00 L245.97,193.91 L246.83,193.83 L247.67,193.75 L248.47,193.67 L249.20,193.60 L249.86,193.54 L250.42,193.49 L250.85,193.44 L250.75,192.16 L250.31,192.19 L249.75,192.22 L249.10,192.26 L248.36,192.31 L247.56,192.37 L246.72,192.42 L245.85,192.49 L244.98,192.55 L244.12,192.62 L243.29,192.69 L242.51,192.76 L241.80,192.84 L241.15,192.92 L240.53,193.00 L239.93,193.09 L239.35,193.18 L238.78,193.27 L238.23,193.37 L237.68,193.47 L237.14,193.57 L236.60,193.67 L236.05,193.77 L235.50,193.88 L234.94,193.98 L234.37,194.09 L233.80,194.20 L233.23,194.30 L232.65,194.41 L232.07,194.51 L231.48,194.62 L230.90,194.74 L230.31,194.87 L229.72,195.00 L229.13,195.15 L228.54,195.30 L227.95,195.47 L227.37,195.65 L226.80,195.83 L226.22,196.01 L225.65,196.20 L225.07,196.40 L224.49,196.62 L223.91,196.84 L223.33,197.08 L222.74,197.34 L222.15,197.62 L221.56,197.91 L220.98,198.23 L220.39,198.55 L219.79,198.88 L219.16,199.23 L218.52,199.59 L217.87,199.97 L217.22,200.37 L216.58,200.80 L215.97,201.28 L215.40,201.81 L214.86,202.37 L214.38,202.98 L213.94,203.62 L213.57,204.35 L213.25,205.15 L212.98,206.01 L212.75,206.90 L212.55,207.82 L212.38,208.73 L212.24,209.62 L212.11,210.47 L211.99,211.25 L211.85,211.93 L211.72,212.51 L211.61,212.95 Z" fill="#505050" stroke="none"/>
<path d="M211.87,213.02 L211.99,212.57 L212.12,211.99 L212.26,211.30 L212.43,210.54 L212.63,209.71 L212.85,208.84 L213.09,207.96 L213.35,207.09 L213.65,206.24 L213.97,205.46 L214.33,204.75 L214.71,204.14 L215.14,203.61 L215.61,203.11 L216.13,202.64 L216.69,202.20 L217.27,201.78 L217.87,201.38 L218.49,201.00 L219.11,200.63 L219.74,200.28 L220.36,199.94 L220.97,199.61 L221.56,199.29 L222.12,198.98 L222.68,198.70 L223.24,198.43 L223.80,198.19 L224.36,197.96 L224.92,197.74 L225.47,197.53 L226.04,197.33 L226.60,197.15 L227.16,196.96 L227.73,196.79 L228.29,196.61 L228.86,196.44 L229.43,196.29 L230.00,196.15 L230.57,196.01 L231.14,195.89 L231.71,195.77 L232.29,195.65 L232.86,195.54 L233.44,195.44 L234.01,195.33 L234.59,195.22 L235.16,195.11 L235.72,194.99 L236.28,194.88 L236.82,194.77 L237.35,194.66 L237.89,194.56 L238.43,194.45 L238.98,194.35 L239.53,194.25 L240.10,194.16 L240.69,194.06 L241.30,193.97 L241.94,193.89 L242.63,193.80 L243.39,193.71 L244.21,193.63 L245.07,193.54 L245.93,193.46 L246.80,193.39 L247.64,193.32 L248.44,193.25 L249.17,193.19 L249.83,193.13 L250.38,193.08 L250.82,193.04 L250.78,192.56 L250.34,192.59 L249.79,192.64 L249.13,192.68 L248.39,192.74 L247.60,192.80 L246.75,192.86 L245.89,192.93 L245.02,193.00 L244.16,193.08 L243.34,193.16 L242.56,193.23 L241.86,193.31 L241.22,193.40 L240.60,193.48 L240.01,193.57 L239.43,193.67 L238.87,193.76 L238.32,193.86 L237.78,193.96 L237.24,194.06 L236.70,194.17 L236.15,194.28 L235.60,194.38 L235.04,194.49 L234.47,194.60 L233.90,194.71 L233.32,194.82 L232.75,194.92 L232.17,195.03 L231.59,195.14 L231.01,195.26 L230.43,195.39 L229.85,195.52 L229.26,195.67 L228.68,195.82 L228.11,195.99 L227.53,196.17 L226.96,196.34 L226.39,196.53 L225.82,196.72 L225.25,196.92 L224.68,197.13 L224.11,197.35 L223.54,197.58 L222.97,197.84 L222.39,198.11 L221.82,198.40 L221.24,198.71 L220.66,199.03 L220.05,199.37 L219.42,199.71 L218.79,200.06 L218.15,200.44 L217.52,200.83 L216.89,201.25 L216.30,201.70 L215.73,202.19 L215.20,202.71 L214.72,203.26 L214.29,203.86 L213.91,204.53 L213.58,205.29 L213.28,206.12 L213.02,206.99 L212.79,207.88 L212.59,208.78 L212.41,209.66 L212.26,210.50 L212.11,211.27 L211.97,211.96 L211.84,212.53 L211.73,212.98 Z" fill="#888" stroke="none"/>
<path d="M218.32,200.72 L218.95,200.35 L219.58,199.99 L220.21,199.65 L220.82,199.32 L221.40,199.00 L221.97,198.69 L222.54,198.40 L223.10,198.14 L223.67,197.89 L224.24,197.65 L224.80,197.43 L225.36,197.22 L225.93,197.03 L226.50,196.84 L227.06,196.65 L227.63,196.48 L228.20,196.30 L228.77,196.13 L229.35,195.98 L229.92,195.83 L230.50,195.70 L231.07,195.57 L231.65,195.46 L232.23,195.34 L232.80,195.23 L233.38,195.13 L233.95,195.02 L234.53,194.91 L235.10,194.80 L235.66,194.69 L236.21,194.58 L236.76,194.47 L237.30,194.36 L237.83,194.26 L238.38,194.16 L238.92,194.06 L239.48,193.96 L240.05,193.86 L240.65,193.77 L241.26,193.69 L241.90,193.60 L242.60,193.52 L243.36,193.43 L244.19,193.35 L245.04,193.27 L245.91,193.20" fill="none" stroke="#e8e8e8" stroke-width="0.7" stroke-dasharray="2 1.2"/>
<line x1="211.8" y1="222.5" x2="211.8" y2="226.5" stroke="#eee" stroke-width="0.8"/>
</g>
<path d="M203.9,209.3 L209.5,196.2 L221.4,186.5 L248.8,187.0 L254.3,204.5 Z" fill="none" stroke="#808080" stroke-width="0.7"/>
<rect x="200.80" y="213.00" width="21.30" height="37.40" fill="none" stroke="#808080" stroke-width="0.7" />
<rect x="222.10" y="210.70" width="30.80" height="37.40" fill="none" stroke="#808080" stroke-width="0.7" />
<text x="200.8" y="193.9" font-size="5.7" font-weight="normal" text-anchor="start" fill="#222" font-family="'Liberation Sans', Arial, sans-serif" >46.7</text>
<text x="207.6" y="249.1" font-size="5.7" font-weight="normal" text-anchor="middle" fill="#222" font-family="'Liberation Sans', Arial, sans-serif" >48</text>
<text x="236.8" y="247" font-size="5.7" font-weight="normal" text-anchor="middle" fill="#222" font-family="'Liberation Sans', Arial, sans-serif" >4.26</text>
<text x="30.3" y="199.3" font-size="6.2" font-weight="bold" text-anchor="middle" fill="#000" font-family="'Liberation Sans', Arial, sans-serif" >S</text>
<text x="31.7" y="260.1" font-size="7.3" font-weight="bold" text-anchor="middle" fill="#000" font-family="'Liberation Sans', Arial, sans-serif" >G0/G1</text>
<text x="66.2" y="255.8" font-size="7.3" font-weight="bold" text-anchor="middle" fill="#000" font-family="'Liberation Sans', Arial, sans-serif" >G2M</text>
<text x="9.3" y="216.6" font-size="8" font-weight="bold" text-anchor="middle" fill="#000" font-family="'Liberation Sans', Arial, sans-serif" transform="rotate(-90 9.3 216.6)" >BrdU</text>
<text x="62.2" y="280.2" font-size="9.0" font-weight="bold" text-anchor="start" fill="#000" font-family="'Liberation Sans', Arial, sans-serif" >7AAD</text>
<path d="M7.8,274.4 L7.8,236 M7.8,274.4 L52,274.4" fill="none" stroke="#000" stroke-width="1"/>
<path d="M7.8,231.5 L5.3,237.5 L10.3,237.5 Z M57,274.4 L51,271.9 L51,276.9 Z" fill="#000"/>
<text x="296" y="226.75" font-size="10.3" font-weight="bold" text-anchor="middle" fill="#000" font-family="'Liberation Sans', Arial, sans-serif" transform="rotate(-90 296 226.75)" >% of CD71<tspan font-size="6.5" dy="-3.5">+</tspan><tspan dy="3.5">Ter119</tspan><tspan font-size="6.5" dy="-3.5">+</tspan></text>
<line x1="316.40" y1="179.30" x2="316.40" y2="277.40" stroke="#999" stroke-width="0.9" />
<text x="310.2" y="279.25" font-size="5.3" font-weight="bold" text-anchor="end" fill="#222" font-family="'Liberation Sans', Arial, sans-serif" >0</text>
<line x1="315.20" y1="277.40" x2="316.40" y2="277.40" stroke="#bbb" stroke-width="0.6" />
<text x="310.2" y="265.35" font-size="5.3" font-weight="bold" text-anchor="end" fill="#222" font-family="'Liberation Sans', Arial, sans-serif" >10</text>
<line x1="315.20" y1="263.50" x2="316.40" y2="263.50" stroke="#bbb" stroke-width="0.6" />
<text x="310.2" y="251.45" font-size="5.3" font-weight="bold" text-anchor="end" fill="#222" font-family="'Liberation Sans', Arial, sans-serif" >20</text>
<line x1="315.20" y1="249.60" x2="316.40" y2="249.60" stroke="#bbb" stroke-width="0.6" />
<text x="310.2" y="237.54999999999998" font-size="5.3" font-weight="bold" text-anchor="end" fill="#222" font-family="'Liberation Sans', Arial, sans-serif" >30</text>
<line x1="315.20" y1="235.70" x2="316.40" y2="235.70" stroke="#bbb" stroke-width="0.6" />
<text x="310.2" y="223.64999999999998" font-size="5.3" font-weight="bold" text-anchor="end" fill="#222" font-family="'Liberation Sans', Arial, sans-serif" >40</text>
<line x1="315.20" y1="221.80" x2="316.40" y2="221.80" stroke="#bbb" stroke-width="0.6" />
<text x="310.2" y="209.74999999999997" font-size="5.3" font-weight="bold" text-anchor="end" fill="#222" font-family="'Liberation Sans', Arial, sans-serif" >50</text>
<line x1="315.20" y1="207.90" x2="316.40" y2="207.90" stroke="#bbb" stroke-width="0.6" />
<text x="310.2" y="195.85" font-size="5.3" font-weight="bold" text-anchor="end" fill="#222" font-family="'Liberation Sans', Arial, sans-serif" >60</text>
<line x1="315.20" y1="194.00" x2="316.40" y2="194.00" stroke="#bbb" stroke-width="0.6" />
<text x="310.2" y="181.95" font-size="5.3" font-weight="bold" text-anchor="end" fill="#222" font-family="'Liberation Sans', Arial, sans-serif" >70</text>
<line x1="315.20" y1="180.10" x2="316.40" y2="180.10" stroke="#bbb" stroke-width="0.6" />
<line x1="316.40" y1="277.40" x2="460.50" y2="277.40" stroke="#999" stroke-width="0.9" />
<line x1="364.60" y1="277.40" x2="364.60" y2="278.90" stroke="#aaa" stroke-width="0.6" />
<line x1="412.30" y1="277.40" x2="412.30" y2="278.90" stroke="#aaa" stroke-width="0.6" />
<line x1="460.30" y1="277.40" x2="460.30" y2="278.90" stroke="#aaa" stroke-width="0.6" />
<line x1="329.80" y1="186.80" x2="329.80" y2="188.80" stroke="#777" stroke-width="0.8" />
<line x1="328.80" y1="186.80" x2="330.80" y2="186.80" stroke="#777" stroke-width="0.7" />
<rect x="324.80" y="189.30" width="10.10" height="88.10" fill="#fff" stroke="#6a6a6a" stroke-width="1" />
<line x1="340.30" y1="192.10" x2="340.30" y2="193.70" stroke="#777" stroke-width="0.8" />
<line x1="339.30" y1="192.10" x2="341.30" y2="192.10" stroke="#777" stroke-width="0.7" />
<rect x="335.70" y="194.20" width="9.40" height="83.20" fill="#b4b4b4" stroke="#707070" stroke-width="1" />
<line x1="351.00" y1="208.80" x2="351.00" y2="209.70" stroke="#777" stroke-width="0.8" />
<line x1="350.00" y1="208.80" x2="352.00" y2="208.80" stroke="#777" stroke-width="0.7" />
<rect x="345.40" y="209.70" width="11.10" height="67.70" fill="#000" stroke="none" stroke-width="1" />
<line x1="377.80" y1="232.40" x2="377.80" y2="234.40" stroke="#777" stroke-width="0.8" />
<line x1="376.80" y1="232.40" x2="378.80" y2="232.40" stroke="#777" stroke-width="0.7" />
<rect x="372.90" y="234.90" width="10.00" height="42.50" fill="#fff" stroke="#6a6a6a" stroke-width="1" />
<line x1="388.50" y1="229.30" x2="388.50" y2="230.50" stroke="#777" stroke-width="0.8" />
<line x1="387.50" y1="229.30" x2="389.50" y2="229.30" stroke="#777" stroke-width="0.7" />
<rect x="383.70" y="231.00" width="9.90" height="46.40" fill="#b4b4b4" stroke="#707070" stroke-width="1" />
<rect x="393.90" y="212.90" width="10.20" height="64.50" fill="#000" stroke="none" stroke-width="1" />
<line x1="425.70" y1="268.80" x2="425.70" y2="270.00" stroke="#777" stroke-width="0.8" />
<line x1="424.70" y1="268.80" x2="426.70" y2="268.80" stroke="#777" stroke-width="0.7" />
<rect x="420.70" y="270.50" width="10.30" height="6.90" fill="#fff" stroke="#6a6a6a" stroke-width="1" />
<line x1="436.50" y1="267.60" x2="436.50" y2="269.10" stroke="#777" stroke-width="0.8" />
<line x1="435.50" y1="267.60" x2="437.50" y2="267.60" stroke="#777" stroke-width="0.7" />
<rect x="431.80" y="269.60" width="9.60" height="7.80" fill="#b4b4b4" stroke="#707070" stroke-width="1" />
<line x1="447.00" y1="271.20" x2="447.00" y2="272.10" stroke="#777" stroke-width="0.8" />
<line x1="446.00" y1="271.20" x2="448.00" y2="271.20" stroke="#777" stroke-width="0.7" />
<rect x="441.70" y="272.10" width="10.80" height="5.30" fill="#000" stroke="none" stroke-width="1" />
<text x="340.8" y="287.8" font-size="8.9" font-weight="bold" text-anchor="middle" fill="#000" font-family="'Liberation Sans', Arial, sans-serif" >G0/G1</text>
<text x="388.5" y="287.8" font-size="8.9" font-weight="bold" text-anchor="middle" fill="#000" font-family="'Liberation Sans', Arial, sans-serif" >S</text>
<text x="435" y="287.8" font-size="8.9" font-weight="bold" text-anchor="middle" fill="#000" font-family="'Liberation Sans', Arial, sans-serif" >G2M</text>
<text x="341.4" y="172.73" font-size="11.8" font-weight="bold" text-anchor="middle" fill="#000" font-family="'Liberation Sans', Arial, sans-serif" textLength="10.56" lengthAdjust="spacingAndGlyphs">**</text>
<path d="M329.8,175.4 Q329.8,172 332.0,172 L339.55,172 Q341.75,172 341.75,169.5 Q341.75,172 343.95,172 L351.5,172 Q353.7,172 353.7,175.4" fill="none" stroke="#000" stroke-width="1.25"/>
<text x="346.4" y="187.63" font-size="11.8" font-weight="bold" text-anchor="middle" fill="#000" font-family="'Liberation Sans', Arial, sans-serif" textLength="10.76" lengthAdjust="spacingAndGlyphs">**</text>
<path d="M340.6,190.5 Q340.6,187.4 342.53333333333336,187.4 L344.46666666666664,187.4 Q346.4,187.4 346.4,184.6 Q346.4,187.4 348.3333333333333,187.4 L350.26666666666665,187.4 Q352.2,187.4 352.2,190.5" fill="none" stroke="#000" stroke-width="1.25"/>
<text x="389" y="190.73" font-size="11.8" font-weight="bold" text-anchor="middle" fill="#000" font-family="'Liberation Sans', Arial, sans-serif" textLength="10.26" lengthAdjust="spacingAndGlyphs">**</text>
<path d="M378.3,193.1 Q378.3,190 380.5,190 L386.7,190 Q388.9,190 388.9,187.7 Q388.9,190 391.09999999999997,190 L397.3,190 Q399.5,190 399.5,193.1" fill="none" stroke="#000" stroke-width="1.25"/>
<text x="392.9" y="204.13" font-size="11.8" font-weight="bold" text-anchor="middle" fill="#000" font-family="'Liberation Sans', Arial, sans-serif" textLength="9.96" lengthAdjust="spacingAndGlyphs">**</text>
<path d="M387.5,207.4 Q387.5,204.3 389.43333333333334,204.3 L391.3666666666667,204.3 Q393.3,204.3 393.3,201.5 Q393.3,204.3 395.23333333333335,204.3 L397.1666666666667,204.3 Q399.1,204.3 399.1,207.4" fill="none" stroke="#000" stroke-width="1.25"/>
<rect x="413.70" y="187.60" width="53.80" height="34.10" fill="#fff" stroke="#222" stroke-width="1.2" />
<rect x="416.30" y="191.70" width="7.30" height="5.20" fill="#fff" stroke="#222" stroke-width="1" />
<text x="427.5" y="196.8" font-size="8.6" font-weight="normal" text-anchor="start" fill="#111" font-family="'Liberation Sans', Arial, sans-serif" textLength="29.8" lengthAdjust="spacingAndGlyphs">wt, n=3</text>
<rect x="416.30" y="202.00" width="7.30" height="5.60" fill="#b4b4b4" stroke="#222" stroke-width="1" />
<text x="427.5" y="207.1" font-size="8.6" font-weight="normal" text-anchor="start" fill="#111" font-family="'Liberation Sans', Arial, sans-serif" textLength="33.3" lengthAdjust="spacingAndGlyphs">het, n=3</text>
<rect x="416.30" y="212.30" width="7.30" height="5.70" fill="#000" stroke="#222" stroke-width="1" />
<text x="427.5" y="218.3" font-size="8.6" font-weight="normal" text-anchor="start" fill="#111" font-family="'Liberation Sans', Arial, sans-serif" textLength="37.8" lengthAdjust="spacingAndGlyphs">hom, n=3</text>
<rect x="1.3" y="314.3" width="167.5" height="93.09999999999997" fill="#fff" stroke="#9a9a9a" stroke-width="0.8"/>
<path d="M2.1,315.1 H168.0 V382.4 H166.5 V322.9 H23.3 V382.4 H2.1 Z" fill="#e8e8e8"/>
<rect x="23.3" y="322.9" width="143.2" height="59.5" fill="#fff" stroke="#b5b5b5" stroke-width="0.5"/>
<line x1="23.3" y1="379.3" x2="166.5" y2="379.3" stroke="#efefef" stroke-width="0.6"/>
<line x1="23.3" y1="372.06" x2="166.5" y2="372.06" stroke="#efefef" stroke-width="0.6"/>
<line x1="23.3" y1="364.82" x2="166.5" y2="364.82" stroke="#efefef" stroke-width="0.6"/>
<line x1="23.3" y1="357.58000000000004" x2="166.5" y2="357.58000000000004" stroke="#efefef" stroke-width="0.6"/>
<line x1="23.3" y1="350.34000000000003" x2="166.5" y2="350.34000000000003" stroke="#efefef" stroke-width="0.6"/>
<line x1="23.3" y1="343.1" x2="166.5" y2="343.1" stroke="#efefef" stroke-width="0.6"/>
<line x1="23.3" y1="335.86" x2="166.5" y2="335.86" stroke="#efefef" stroke-width="0.6"/>
<line x1="23.3" y1="328.62" x2="166.5" y2="328.62" stroke="#efefef" stroke-width="0.6"/>
<line x1="47.5" y1="322.9" x2="47.5" y2="382.4" stroke="#ebebeb" stroke-width="0.6"/>
<line x1="87.5" y1="322.9" x2="87.5" y2="382.4" stroke="#ebebeb" stroke-width="0.6"/>
<line x1="127" y1="322.9" x2="127" y2="382.4" stroke="#ebebeb" stroke-width="0.6"/>
<line x1="23.3" y1="379.3" x2="166.5" y2="379.3" stroke="#8c8c8c" stroke-width="0.7"/>
<text x="21.400000000000002" y="380.75" font-size="3.1" font-weight="bold" text-anchor="end" fill="#333" font-family="'DejaVu Sans', 'Liberation Sans', sans-serif">0.0</text>
<text x="21.400000000000002" y="373.51" font-size="3.1" font-weight="bold" text-anchor="end" fill="#333" font-family="'DejaVu Sans', 'Liberation Sans', sans-serif">0.1</text>
<text x="21.400000000000002" y="366.27" font-size="3.1" font-weight="bold" text-anchor="end" fill="#333" font-family="'DejaVu Sans', 'Liberation Sans', sans-serif">0.2</text>
<text x="21.400000000000002" y="359.03000000000003" font-size="3.1" font-weight="bold" text-anchor="end" fill="#333" font-family="'DejaVu Sans', 'Liberation Sans', sans-serif">0.3</text>
<text x="21.400000000000002" y="351.79" font-size="3.1" font-weight="bold" text-anchor="end" fill="#333" font-family="'DejaVu Sans', 'Liberation Sans', sans-serif">0.4</text>
<text x="21.400000000000002" y="344.55" font-size="3.1" font-weight="bold" text-anchor="end" fill="#333" font-family="'DejaVu Sans', 'Liberation Sans', sans-serif">0.5</text>
<text x="21.400000000000002" y="337.31" font-size="3.1" font-weight="bold" text-anchor="end" fill="#333" font-family="'DejaVu Sans', 'Liberation Sans', sans-serif">0.6</text>
<text x="21.400000000000002" y="330.07" font-size="3.1" font-weight="bold" text-anchor="end" fill="#333" font-family="'DejaVu Sans', 'Liberation Sans', sans-serif">0.7</text>
<text x="13.6" y="352.65" font-size="3.2" font-weight="bold" text-anchor="middle" fill="#3a3a3a" font-family="'DejaVu Sans', 'Liberation Sans', sans-serif" textLength="37" lengthAdjust="spacingAndGlyphs" transform="rotate(-90 13.6 352.65)">Enrichment score (ES)</text>
<polyline points="23.8,352.0 24.6,347.0 25.3,340.0 26.0,338.5 26.4,330.0 27.0,325.0 48.8,337.2 49.8,336.2 50.7,333.4 52.0,334.6 56.5,335.3 58.8,336.0 67.3,340.3 70.4,341.3 95.0,354.2 123.8,367.3 125.9,367.1 129.0,368.9 146.0,377.6 146.5,374.7 151.0,378.2 151.5,375.3 158.5,379.3" fill="none" stroke="#787878" stroke-width="1.05" stroke-linejoin="round"/>
<text x="85.05000000000001" y="319.9" font-size="5.6" font-weight="bold" text-anchor="middle" fill="#111" font-family="'DejaVu Sans', 'Liberation Sans', sans-serif" textLength="125.5" lengthAdjust="spacingAndGlyphs">Enrichment plot: SCHURINGA_STAT5A_UP</text>
<text x="124.2" y="334.0" font-size="9.8" fill="#1a1a1a" stroke="#1a1a1a" stroke-width="0.22" font-family="'Liberation Sans', Arial, sans-serif" textLength="37.8" lengthAdjust="spacingAndGlyphs">q = 0.028</text>
<rect x="23.3" y="382.8" width="143.2" height="19.5" fill="#fff" stroke="#c8c8c8" stroke-width="0.4"/>
<rect x="23.70" y="382.8" width="3.6" height="19.5" fill="#7a7a7a"/>
<rect x="49.20" y="382.8" width="0.8" height="19.5" fill="#888"/>
<rect x="50.85" y="382.8" width="0.9" height="19.5" fill="#444"/>
<rect x="56.85" y="382.8" width="0.9" height="19.5" fill="#444"/>
<rect x="67.25" y="382.8" width="0.9" height="19.5" fill="#888"/>
<rect x="86.65" y="382.8" width="0.9" height="19.5" fill="#555"/>
<rect x="123.20" y="382.8" width="0.8" height="19.5" fill="#777"/>
<rect x="126.25" y="382.8" width="0.9" height="19.5" fill="#666"/>
<rect x="144.80" y="382.8" width="0.8" height="19.5" fill="#888"/>
<rect x="150.60" y="382.8" width="0.8" height="19.5" fill="#777"/>
<defs><linearGradient id="g1" x1="0" x2="1" y1="0" y2="0"><stop offset="0" stop-color="#5c5c5c"/><stop offset="0.17" stop-color="#626262"/><stop offset="0.19" stop-color="#787878"/><stop offset="0.29" stop-color="#7c7c7c"/><stop offset="0.31" stop-color="#8c8c8c"/><stop offset="0.37" stop-color="#8e8e8e"/><stop offset="0.4" stop-color="#c4c4c4"/><stop offset="0.63" stop-color="#c8c8c8"/><stop offset="0.65" stop-color="#afafaf"/><stop offset="0.73" stop-color="#afafaf"/><stop offset="0.75" stop-color="#787878"/><stop offset="0.82" stop-color="#747474"/><stop offset="0.84" stop-color="#505050"/><stop offset="0.97" stop-color="#484848"/><stop offset="1" stop-color="#303030"/></linearGradient></defs>
<rect x="23.3" y="402.3" width="135.89999999999998" height="4.699999999999989" fill="url(#g1)"/>
<rect x="157.0" y="402.3" width="2.2" height="4.699999999999989" fill="#000"/>
<rect x="1.3" y="417.0" width="167.5" height="93.30000000000001" fill="#fff" stroke="#9a9a9a" stroke-width="0.8"/>
<path d="M2.1,417.8 H168.0 V483.8 H166.5 V424.3 H22.8 V483.8 H2.1 Z" fill="#e8e8e8"/>
<rect x="22.8" y="424.3" width="143.7" height="59.5" fill="#fff" stroke="#b5b5b5" stroke-width="0.5"/>
<line x1="22.8" y1="480.9" x2="166.5" y2="480.9" stroke="#efefef" stroke-width="0.6"/>
<line x1="22.8" y1="474.0" x2="166.5" y2="474.0" stroke="#efefef" stroke-width="0.6"/>
<line x1="22.8" y1="467.09999999999997" x2="166.5" y2="467.09999999999997" stroke="#efefef" stroke-width="0.6"/>
<line x1="22.8" y1="460.2" x2="166.5" y2="460.2" stroke="#efefef" stroke-width="0.6"/>
<line x1="22.8" y1="453.29999999999995" x2="166.5" y2="453.29999999999995" stroke="#efefef" stroke-width="0.6"/>
<line x1="22.8" y1="446.4" x2="166.5" y2="446.4" stroke="#efefef" stroke-width="0.6"/>
<line x1="22.8" y1="439.5" x2="166.5" y2="439.5" stroke="#efefef" stroke-width="0.6"/>
<line x1="22.8" y1="432.59999999999997" x2="166.5" y2="432.59999999999997" stroke="#efefef" stroke-width="0.6"/>
<line x1="47.5" y1="424.3" x2="47.5" y2="483.8" stroke="#ebebeb" stroke-width="0.6"/>
<line x1="87.5" y1="424.3" x2="87.5" y2="483.8" stroke="#ebebeb" stroke-width="0.6"/>
<line x1="127" y1="424.3" x2="127" y2="483.8" stroke="#ebebeb" stroke-width="0.6"/>
<line x1="22.8" y1="480.9" x2="166.5" y2="480.9" stroke="#8c8c8c" stroke-width="0.7"/>
<text x="20.900000000000002" y="482.34999999999997" font-size="3.1" font-weight="bold" text-anchor="end" fill="#333" font-family="'DejaVu Sans', 'Liberation Sans', sans-serif">0.0</text>
<text x="20.900000000000002" y="475.45" font-size="3.1" font-weight="bold" text-anchor="end" fill="#333" font-family="'DejaVu Sans', 'Liberation Sans', sans-serif">0.1</text>
<text x="20.900000000000002" y="468.54999999999995" font-size="3.1" font-weight="bold" text-anchor="end" fill="#333" font-family="'DejaVu Sans', 'Liberation Sans', sans-serif">0.2</text>
<text x="20.900000000000002" y="461.65" font-size="3.1" font-weight="bold" text-anchor="end" fill="#333" font-family="'DejaVu Sans', 'Liberation Sans', sans-serif">0.3</text>
<text x="20.900000000000002" y="454.74999999999994" font-size="3.1" font-weight="bold" text-anchor="end" fill="#333" font-family="'DejaVu Sans', 'Liberation Sans', sans-serif">0.4</text>
<text x="20.900000000000002" y="447.84999999999997" font-size="3.1" font-weight="bold" text-anchor="end" fill="#333" font-family="'DejaVu Sans', 'Liberation Sans', sans-serif">0.5</text>
<text x="20.900000000000002" y="440.95" font-size="3.1" font-weight="bold" text-anchor="end" fill="#333" font-family="'DejaVu Sans', 'Liberation Sans', sans-serif">0.6</text>
<text x="20.900000000000002" y="434.04999999999995" font-size="3.1" font-weight="bold" text-anchor="end" fill="#333" font-family="'DejaVu Sans', 'Liberation Sans', sans-serif">0.7</text>
<text x="13.4" y="454.05" font-size="3.2" font-weight="bold" text-anchor="middle" fill="#3a3a3a" font-family="'DejaVu Sans', 'Liberation Sans', sans-serif" textLength="37" lengthAdjust="spacingAndGlyphs" transform="rotate(-90 13.4 454.05)">Enrichment score (ES)</text>
<polyline points="23.3,460.0 23.8,451.0 24.5,450.0 25.4,449.0 25.8,438.0 28.0,437.0 28.3,428.0 54.3,439.1 55.0,437.5 57.6,440.2 59.0,439.0 69.6,443.5 73.9,445.2 100.0,457.0 120.0,466.7 122.4,465.0 137.0,472.3 137.5,469.2 158.7,480.9" fill="none" stroke="#787878" stroke-width="1.05" stroke-linejoin="round"/>
<text x="84.55000000000001" y="422.0" font-size="5.6" font-weight="bold" text-anchor="middle" fill="#111" font-family="'DejaVu Sans', 'Liberation Sans', sans-serif" textLength="98.7" lengthAdjust="spacingAndGlyphs">Enrichment plot: WELCH_GATA1</text>
<text x="124.1" y="435.9" font-size="9.8" fill="#1a1a1a" stroke="#1a1a1a" stroke-width="0.22" font-family="'Liberation Sans', Arial, sans-serif" textLength="37.4" lengthAdjust="spacingAndGlyphs">q = 0.027</text>
<rect x="22.8" y="484.2" width="143.7" height="19.80000000000001" fill="#fff" stroke="#c8c8c8" stroke-width="0.4"/>
<rect x="23.35" y="484.2" width="0.9" height="19.80000000000001" fill="#888"/>
<rect x="25.65" y="484.2" width="0.9" height="19.80000000000001" fill="#444"/>
<rect x="29.15" y="484.2" width="0.9" height="19.80000000000001" fill="#444"/>
<rect x="54.20" y="484.2" width="0.8" height="19.80000000000001" fill="#888"/>
<rect x="55.95" y="484.2" width="0.7" height="19.80000000000001" fill="#aaa"/>
<rect x="59.15" y="484.2" width="0.9" height="19.80000000000001" fill="#555"/>
<rect x="68.45" y="484.2" width="0.9" height="19.80000000000001" fill="#555"/>
<rect x="75.80" y="484.2" width="0.8" height="19.80000000000001" fill="#999"/>
<rect x="77.30" y="484.2" width="0.8" height="19.80000000000001" fill="#999"/>
<rect x="78.75" y="484.2" width="0.9" height="19.80000000000001" fill="#555"/>
<rect x="81.85" y="484.2" width="0.9" height="19.80000000000001" fill="#555"/>
<rect x="91.05" y="484.2" width="0.9" height="19.80000000000001" fill="#555"/>
<rect x="100.05" y="484.2" width="0.9" height="19.80000000000001" fill="#555"/>
<rect x="120.10" y="484.2" width="0.8" height="19.80000000000001" fill="#888"/>
<rect x="122.15" y="484.2" width="0.9" height="19.80000000000001" fill="#555"/>
<rect x="136.45" y="484.2" width="0.9" height="19.80000000000001" fill="#555"/>
<defs><linearGradient id="g2" x1="0" x2="1" y1="0" y2="0"><stop offset="0" stop-color="#5c5c5c"/><stop offset="0.17" stop-color="#626262"/><stop offset="0.19" stop-color="#787878"/><stop offset="0.29" stop-color="#7c7c7c"/><stop offset="0.31" stop-color="#8c8c8c"/><stop offset="0.37" stop-color="#8e8e8e"/><stop offset="0.4" stop-color="#c4c4c4"/><stop offset="0.63" stop-color="#c8c8c8"/><stop offset="0.65" stop-color="#afafaf"/><stop offset="0.73" stop-color="#afafaf"/><stop offset="0.75" stop-color="#787878"/><stop offset="0.82" stop-color="#747474"/><stop offset="0.84" stop-color="#505050"/><stop offset="0.97" stop-color="#484848"/><stop offset="1" stop-color="#303030"/></linearGradient></defs>
<rect x="22.8" y="504.0" width="135.2" height="5.0" fill="url(#g2)"/>
<rect x="155.8" y="504.0" width="2.2" height="5.0" fill="#000"/>
<rect x="173.2" y="314.4" width="168.5" height="94.20000000000005" fill="#fff" stroke="#9a9a9a" stroke-width="0.8"/>
<path d="M174.0,315.2 H340.9 V383.5 H339.6 V323.6 H195.4 V383.5 H174.0 Z" fill="#e8e8e8"/>
<rect x="195.4" y="323.6" width="144.20000000000002" height="59.89999999999998" fill="#fff" stroke="#b5b5b5" stroke-width="0.5"/>
<line x1="195.4" y1="378.03000000000003" x2="339.6" y2="378.03000000000003" stroke="#efefef" stroke-width="0.6"/>
<line x1="195.4" y1="371.1" x2="339.6" y2="371.1" stroke="#efefef" stroke-width="0.6"/>
<line x1="195.4" y1="364.17" x2="339.6" y2="364.17" stroke="#efefef" stroke-width="0.6"/>
<line x1="195.4" y1="357.24" x2="339.6" y2="357.24" stroke="#efefef" stroke-width="0.6"/>
<line x1="195.4" y1="350.31" x2="339.6" y2="350.31" stroke="#efefef" stroke-width="0.6"/>
<line x1="195.4" y1="343.38" x2="339.6" y2="343.38" stroke="#efefef" stroke-width="0.6"/>
<line x1="195.4" y1="336.45000000000005" x2="339.6" y2="336.45000000000005" stroke="#efefef" stroke-width="0.6"/>
<line x1="195.4" y1="329.52000000000004" x2="339.6" y2="329.52000000000004" stroke="#efefef" stroke-width="0.6"/>
<line x1="217.6" y1="323.6" x2="217.6" y2="383.5" stroke="#ebebeb" stroke-width="0.6"/>
<line x1="241.2" y1="323.6" x2="241.2" y2="383.5" stroke="#ebebeb" stroke-width="0.6"/>
<line x1="285" y1="323.6" x2="285" y2="383.5" stroke="#ebebeb" stroke-width="0.6"/>
<line x1="307.3" y1="323.6" x2="307.3" y2="383.5" stroke="#ebebeb" stroke-width="0.6"/>
<line x1="331.2" y1="323.6" x2="331.2" y2="383.5" stroke="#ebebeb" stroke-width="0.6"/>
<line x1="195.4" y1="371.1" x2="339.6" y2="371.1" stroke="#8c8c8c" stroke-width="0.7"/>
<text x="193.5" y="379.48" font-size="3.1" font-weight="bold" text-anchor="end" fill="#333" font-family="'DejaVu Sans', 'Liberation Sans', sans-serif">-0.1</text>
<text x="193.5" y="372.55" font-size="3.1" font-weight="bold" text-anchor="end" fill="#333" font-family="'DejaVu Sans', 'Liberation Sans', sans-serif">0.0</text>
<text x="193.5" y="365.62" font-size="3.1" font-weight="bold" text-anchor="end" fill="#333" font-family="'DejaVu Sans', 'Liberation Sans', sans-serif">0.1</text>
<text x="193.5" y="358.69" font-size="3.1" font-weight="bold" text-anchor="end" fill="#333" font-family="'DejaVu Sans', 'Liberation Sans', sans-serif">0.2</text>
<text x="193.5" y="351.76" font-size="3.1" font-weight="bold" text-anchor="end" fill="#333" font-family="'DejaVu Sans', 'Liberation Sans', sans-serif">0.3</text>
<text x="193.5" y="344.83" font-size="3.1" font-weight="bold" text-anchor="end" fill="#333" font-family="'DejaVu Sans', 'Liberation Sans', sans-serif">0.4</text>
<text x="193.5" y="337.90000000000003" font-size="3.1" font-weight="bold" text-anchor="end" fill="#333" font-family="'DejaVu Sans', 'Liberation Sans', sans-serif">0.5</text>
<text x="193.5" y="330.97" font-size="3.1" font-weight="bold" text-anchor="end" fill="#333" font-family="'DejaVu Sans', 'Liberation Sans', sans-serif">0.6</text>
<text x="184.1" y="353.55" font-size="3.2" font-weight="bold" text-anchor="middle" fill="#3a3a3a" font-family="'DejaVu Sans', 'Liberation Sans', sans-serif" textLength="37" lengthAdjust="spacingAndGlyphs" transform="rotate(-90 184.1 353.55)">Enrichment score (ES)</text>
<polyline points="195.8,333.4 196.1,329.5 197.3,326.9 199.6,328.5 201.6,329.1 203.2,325.7 217.3,332.6 218.1,332.2 238.8,342.6 241.0,342.8 265.0,353.1 301.2,370.8 303.5,370.8 306.0,371.5 308.8,371.2 311.0,372.0 314.2,372.8 328.8,380.0 329.9,376.2 330.8,377.0 331.5,374.9 332.5,375.0 333.5,370.3" fill="none" stroke="#787878" stroke-width="1.05" stroke-linejoin="round"/>
<text x="259.15" y="319.9" font-size="5.6" font-weight="bold" text-anchor="middle" fill="#111" font-family="'DejaVu Sans', 'Liberation Sans', sans-serif" textLength="149.4" lengthAdjust="spacingAndGlyphs">Enrichment plot: GENOTOXINS_ALL_24HRS_REG</text>
<text x="300.8" y="334.3" font-size="9.8" fill="#1a1a1a" stroke="#1a1a1a" stroke-width="0.22" font-family="'Liberation Sans', Arial, sans-serif" textLength="37.6" lengthAdjust="spacingAndGlyphs">q = 0.032</text>
<rect x="195.4" y="383.8" width="144.20000000000002" height="19.19999999999999" fill="#fff" stroke="#c8c8c8" stroke-width="0.4"/>
<rect x="195.30" y="383.8" width="1.8" height="19.19999999999999" fill="#888"/>
<rect x="201.85" y="383.8" width="0.7" height="19.19999999999999" fill="#333"/>
<rect x="217.15" y="383.8" width="0.7" height="19.19999999999999" fill="#333"/>
<rect x="240.25" y="383.8" width="0.7" height="19.19999999999999" fill="#333"/>
<rect x="241.65" y="383.8" width="0.7" height="19.19999999999999" fill="#333"/>
<rect x="246.85" y="383.8" width="0.7" height="19.19999999999999" fill="#333"/>
<rect x="257.55" y="383.8" width="0.7" height="19.19999999999999" fill="#333"/>
<rect x="267.05" y="383.8" width="0.7" height="19.19999999999999" fill="#333"/>
<rect x="284.35" y="383.8" width="0.7" height="19.19999999999999" fill="#333"/>
<rect x="292.15" y="383.8" width="0.7" height="19.19999999999999" fill="#333"/>
<rect x="303.15" y="383.8" width="0.7" height="19.19999999999999" fill="#333"/>
<rect x="304.55" y="383.8" width="0.7" height="19.19999999999999" fill="#333"/>
<rect x="307.45" y="383.8" width="0.7" height="19.19999999999999" fill="#333"/>
<rect x="309.45" y="383.8" width="0.7" height="19.19999999999999" fill="#333"/>
<rect x="312.35" y="383.8" width="0.7" height="19.19999999999999" fill="#333"/>
<rect x="327.65" y="383.8" width="0.7" height="19.19999999999999" fill="#333"/>
<rect x="331.05" y="383.8" width="0.7" height="19.19999999999999" fill="#333"/>
<defs><linearGradient id="g3" x1="0" x2="1" y1="0" y2="0"><stop offset="0" stop-color="#5c5c5c"/><stop offset="0.17" stop-color="#626262"/><stop offset="0.19" stop-color="#787878"/><stop offset="0.29" stop-color="#7c7c7c"/><stop offset="0.31" stop-color="#8c8c8c"/><stop offset="0.37" stop-color="#8e8e8e"/><stop offset="0.4" stop-color="#c4c4c4"/><stop offset="0.63" stop-color="#c8c8c8"/><stop offset="0.65" stop-color="#afafaf"/><stop offset="0.73" stop-color="#afafaf"/><stop offset="0.75" stop-color="#787878"/><stop offset="0.82" stop-color="#747474"/><stop offset="0.84" stop-color="#505050"/><stop offset="0.97" stop-color="#484848"/><stop offset="1" stop-color="#303030"/></linearGradient></defs>
<rect x="195.4" y="403.0" width="138.9" height="5.199999999999989" fill="url(#g3)"/>
<rect x="332.1" y="403.0" width="2.2" height="5.199999999999989" fill="#000"/>
<rect x="173.2" y="416.8" width="168.5" height="93.5" fill="#fff" stroke="#9a9a9a" stroke-width="0.8"/>
<path d="M174.0,417.6 H340.9 V484.0 H339.6 V424.5 H195.2 V484.0 H174.0 Z" fill="#e8e8e8"/>
<rect x="195.2" y="424.5" width="144.40000000000003" height="59.5" fill="#fff" stroke="#b5b5b5" stroke-width="0.5"/>
<line x1="195.2" y1="481.1" x2="339.6" y2="481.1" stroke="#efefef" stroke-width="0.6"/>
<line x1="195.2" y1="474.08000000000004" x2="339.6" y2="474.08000000000004" stroke="#efefef" stroke-width="0.6"/>
<line x1="195.2" y1="467.06" x2="339.6" y2="467.06" stroke="#efefef" stroke-width="0.6"/>
<line x1="195.2" y1="460.04" x2="339.6" y2="460.04" stroke="#efefef" stroke-width="0.6"/>
<line x1="195.2" y1="453.02000000000004" x2="339.6" y2="453.02000000000004" stroke="#efefef" stroke-width="0.6"/>
<line x1="195.2" y1="446.0" x2="339.6" y2="446.0" stroke="#efefef" stroke-width="0.6"/>
<line x1="195.2" y1="438.98" x2="339.6" y2="438.98" stroke="#efefef" stroke-width="0.6"/>
<line x1="195.2" y1="431.96000000000004" x2="339.6" y2="431.96000000000004" stroke="#efefef" stroke-width="0.6"/>
<line x1="195.2" y1="424.94000000000005" x2="339.6" y2="424.94000000000005" stroke="#efefef" stroke-width="0.6"/>
<line x1="217.6" y1="424.5" x2="217.6" y2="484.0" stroke="#ebebeb" stroke-width="0.6"/>
<line x1="241.2" y1="424.5" x2="241.2" y2="484.0" stroke="#ebebeb" stroke-width="0.6"/>
<line x1="285" y1="424.5" x2="285" y2="484.0" stroke="#ebebeb" stroke-width="0.6"/>
<line x1="307.3" y1="424.5" x2="307.3" y2="484.0" stroke="#ebebeb" stroke-width="0.6"/>
<line x1="195.2" y1="481.1" x2="339.6" y2="481.1" stroke="#8c8c8c" stroke-width="0.7"/>
<text x="193.29999999999998" y="482.55" font-size="3.1" font-weight="bold" text-anchor="end" fill="#333" font-family="'DejaVu Sans', 'Liberation Sans', sans-serif">0.0</text>
<text x="193.29999999999998" y="475.53000000000003" font-size="3.1" font-weight="bold" text-anchor="end" fill="#333" font-family="'DejaVu Sans', 'Liberation Sans', sans-serif">0.1</text>
<text x="193.29999999999998" y="468.51" font-size="3.1" font-weight="bold" text-anchor="end" fill="#333" font-family="'DejaVu Sans', 'Liberation Sans', sans-serif">0.2</text>
<text x="193.29999999999998" y="461.49" font-size="3.1" font-weight="bold" text-anchor="end" fill="#333" font-family="'DejaVu Sans', 'Liberation Sans', sans-serif">0.3</text>
<text x="193.29999999999998" y="454.47" font-size="3.1" font-weight="bold" text-anchor="end" fill="#333" font-family="'DejaVu Sans', 'Liberation Sans', sans-serif">0.4</text>
<text x="193.29999999999998" y="447.45" font-size="3.1" font-weight="bold" text-anchor="end" fill="#333" font-family="'DejaVu Sans', 'Liberation Sans', sans-serif">0.5</text>
<text x="193.29999999999998" y="440.43" font-size="3.1" font-weight="bold" text-anchor="end" fill="#333" font-family="'DejaVu Sans', 'Liberation Sans', sans-serif">0.6</text>
<text x="193.29999999999998" y="433.41" font-size="3.1" font-weight="bold" text-anchor="end" fill="#333" font-family="'DejaVu Sans', 'Liberation Sans', sans-serif">0.7</text>
<text x="193.29999999999998" y="426.39000000000004" font-size="3.1" font-weight="bold" text-anchor="end" fill="#333" font-family="'DejaVu Sans', 'Liberation Sans', sans-serif">0.8</text>
<text x="184.1" y="454.25" font-size="3.2" font-weight="bold" text-anchor="middle" fill="#3a3a3a" font-family="'DejaVu Sans', 'Liberation Sans', sans-serif" textLength="37" lengthAdjust="spacingAndGlyphs" transform="rotate(-90 184.1 454.25)">Enrichment score (ES)</text>
<polyline points="195.8,448.0 196.1,439.5 197.0,435.7 198.1,433.4 198.8,430.0 200.4,430.6 201.9,431.1 203.5,428.0 228.1,440.3 229.6,439.5 231.2,440.3 233.0,439.2 239.6,442.6 241.9,441.8 243.5,442.3 265.0,452.6 324.8,481.1 326.5,477.7 333.2,481.4" fill="none" stroke="#787878" stroke-width="1.05" stroke-linejoin="round"/>
<text x="258.75" y="422.3" font-size="5.6" font-weight="bold" text-anchor="middle" fill="#111" font-family="'DejaVu Sans', 'Liberation Sans', sans-serif" textLength="99.5" lengthAdjust="spacingAndGlyphs">Enrichment plot: P53GENES_ALL</text>
<text x="300.8" y="436.2" font-size="9.8" fill="#1a1a1a" stroke="#1a1a1a" stroke-width="0.22" font-family="'Liberation Sans', Arial, sans-serif" textLength="38.2" lengthAdjust="spacingAndGlyphs">q = 0.033</text>
<rect x="195.2" y="484.3" width="144.40000000000003" height="19.5" fill="#fff" stroke="#c8c8c8" stroke-width="0.4"/>
<rect x="195.40" y="484.3" width="2.6" height="19.5" fill="#999"/>
<rect x="198.95" y="484.3" width="0.7" height="19.5" fill="#333"/>
<rect x="202.75" y="484.3" width="0.7" height="19.5" fill="#333"/>
<rect x="229.55" y="484.3" width="0.7" height="19.5" fill="#333"/>
<rect x="231.55" y="484.3" width="0.7" height="19.5" fill="#333"/>
<rect x="240.25" y="484.3" width="0.7" height="19.5" fill="#333"/>
<rect x="241.65" y="484.3" width="0.7" height="19.5" fill="#333"/>
<rect x="243.15" y="484.3" width="0.7" height="19.5" fill="#333"/>
<rect x="266.25" y="484.3" width="0.7" height="19.5" fill="#333"/>
<rect x="268.25" y="484.3" width="0.7" height="19.5" fill="#333"/>
<rect x="276.25" y="484.3" width="0.7" height="19.5" fill="#333"/>
<rect x="290.15" y="484.3" width="0.7" height="19.5" fill="#333"/>
<rect x="324.75" y="484.3" width="0.7" height="19.5" fill="#333"/>
<defs><linearGradient id="g4" x1="0" x2="1" y1="0" y2="0"><stop offset="0" stop-color="#5c5c5c"/><stop offset="0.17" stop-color="#626262"/><stop offset="0.19" stop-color="#787878"/><stop offset="0.29" stop-color="#7c7c7c"/><stop offset="0.31" stop-color="#8c8c8c"/><stop offset="0.37" stop-color="#8e8e8e"/><stop offset="0.4" stop-color="#c4c4c4"/><stop offset="0.63" stop-color="#c8c8c8"/><stop offset="0.65" stop-color="#afafaf"/><stop offset="0.73" stop-color="#afafaf"/><stop offset="0.75" stop-color="#787878"/><stop offset="0.82" stop-color="#747474"/><stop offset="0.84" stop-color="#505050"/><stop offset="0.97" stop-color="#484848"/><stop offset="1" stop-color="#303030"/></linearGradient></defs>
<rect x="195.2" y="503.8" width="138.60000000000002" height="4.899999999999977" fill="url(#g4)"/>
<rect x="331.6" y="503.8" width="2.2" height="4.899999999999977" fill="#000"/>
<rect x="350" y="314.4" width="167.29999999999995" height="94.20000000000005" fill="#fff" stroke="#9a9a9a" stroke-width="0.8"/>
<path d="M350.8,315.2 H516.5 V383.3 H515.0 V324.3 H372.4 V383.3 H350.8 Z" fill="#e8e8e8"/>
<rect x="372.4" y="324.3" width="142.60000000000002" height="59.0" fill="#fff" stroke="#b5b5b5" stroke-width="0.5"/>
<line x1="372.4" y1="380.57" x2="515.0" y2="380.57" stroke="#efefef" stroke-width="0.6"/>
<line x1="372.4" y1="375.7" x2="515.0" y2="375.7" stroke="#efefef" stroke-width="0.6"/>
<line x1="372.4" y1="370.83" x2="515.0" y2="370.83" stroke="#efefef" stroke-width="0.6"/>
<line x1="372.4" y1="365.96" x2="515.0" y2="365.96" stroke="#efefef" stroke-width="0.6"/>
<line x1="372.4" y1="361.09" x2="515.0" y2="361.09" stroke="#efefef" stroke-width="0.6"/>
<line x1="372.4" y1="356.21999999999997" x2="515.0" y2="356.21999999999997" stroke="#efefef" stroke-width="0.6"/>
<line x1="372.4" y1="351.34999999999997" x2="515.0" y2="351.34999999999997" stroke="#efefef" stroke-width="0.6"/>
<line x1="372.4" y1="346.48" x2="515.0" y2="346.48" stroke="#efefef" stroke-width="0.6"/>
<line x1="372.4" y1="341.61" x2="515.0" y2="341.61" stroke="#efefef" stroke-width="0.6"/>
<line x1="372.4" y1="336.74" x2="515.0" y2="336.74" stroke="#efefef" stroke-width="0.6"/>
<line x1="372.4" y1="331.87" x2="515.0" y2="331.87" stroke="#efefef" stroke-width="0.6"/>
<line x1="372.4" y1="327.0" x2="515.0" y2="327.0" stroke="#efefef" stroke-width="0.6"/>
<line x1="393.5" y1="324.3" x2="393.5" y2="383.3" stroke="#ebebeb" stroke-width="0.6"/>
<line x1="417.3" y1="324.3" x2="417.3" y2="383.3" stroke="#ebebeb" stroke-width="0.6"/>
<line x1="441" y1="324.3" x2="441" y2="383.3" stroke="#ebebeb" stroke-width="0.6"/>
<line x1="465" y1="324.3" x2="465" y2="383.3" stroke="#ebebeb" stroke-width="0.6"/>
<line x1="489" y1="324.3" x2="489" y2="383.3" stroke="#ebebeb" stroke-width="0.6"/>
<line x1="372.4" y1="375.7" x2="515.0" y2="375.7" stroke="#8c8c8c" stroke-width="0.7"/>
<text x="370.5" y="382.02" font-size="3.1" font-weight="bold" text-anchor="end" fill="#333" font-family="'DejaVu Sans', 'Liberation Sans', sans-serif">-0.05</text>
<text x="370.5" y="377.15" font-size="3.1" font-weight="bold" text-anchor="end" fill="#333" font-family="'DejaVu Sans', 'Liberation Sans', sans-serif">0.00</text>
<text x="370.5" y="372.28" font-size="3.1" font-weight="bold" text-anchor="end" fill="#333" font-family="'DejaVu Sans', 'Liberation Sans', sans-serif">0.05</text>
<text x="370.5" y="367.40999999999997" font-size="3.1" font-weight="bold" text-anchor="end" fill="#333" font-family="'DejaVu Sans', 'Liberation Sans', sans-serif">0.10</text>
<text x="370.5" y="362.53999999999996" font-size="3.1" font-weight="bold" text-anchor="end" fill="#333" font-family="'DejaVu Sans', 'Liberation Sans', sans-serif">0.15</text>
<text x="370.5" y="357.66999999999996" font-size="3.1" font-weight="bold" text-anchor="end" fill="#333" font-family="'DejaVu Sans', 'Liberation Sans', sans-serif">0.20</text>
<text x="370.5" y="352.79999999999995" font-size="3.1" font-weight="bold" text-anchor="end" fill="#333" font-family="'DejaVu Sans', 'Liberation Sans', sans-serif">0.25</text>
<text x="370.5" y="347.93" font-size="3.1" font-weight="bold" text-anchor="end" fill="#333" font-family="'DejaVu Sans', 'Liberation Sans', sans-serif">0.30</text>
<text x="370.5" y="343.06" font-size="3.1" font-weight="bold" text-anchor="end" fill="#333" font-family="'DejaVu Sans', 'Liberation Sans', sans-serif">0.35</text>
<text x="370.5" y="338.19" font-size="3.1" font-weight="bold" text-anchor="end" fill="#333" font-family="'DejaVu Sans', 'Liberation Sans', sans-serif">0.40</text>
<text x="370.5" y="333.32" font-size="3.1" font-weight="bold" text-anchor="end" fill="#333" font-family="'DejaVu Sans', 'Liberation Sans', sans-serif">0.45</text>
<text x="370.5" y="328.45" font-size="3.1" font-weight="bold" text-anchor="end" fill="#333" font-family="'DejaVu Sans', 'Liberation Sans', sans-serif">0.50</text>
<text x="358.5" y="353.8" font-size="3.2" font-weight="bold" text-anchor="middle" fill="#3a3a3a" font-family="'DejaVu Sans', 'Liberation Sans', sans-serif" textLength="37" lengthAdjust="spacingAndGlyphs" transform="rotate(-90 358.5 353.8)">Enrichment score (ES)</text>
<polyline points="372.7,375.7 373.2,364.2 374.2,356.5 375.0,348.8 376.5,345.7 377.8,339.5 378.8,337.2 379.6,337.5 380.8,331.1 381.9,330.0 384.2,331.1 387.3,331.5 390.4,332.6 391.9,332.2 393.5,329.1 395.8,327.5 398.1,327.2 400.4,328.5 402.7,329.5 405.8,330.0 412.3,333.6 435.0,347.2 456.0,362.2 465.0,366.5 468.0,366.0 479.6,372.3 485.0,373.3 488.0,374.8 490.0,373.0 493.0,374.0 497.0,375.5 501.5,378.4 503.0,376.0 504.0,373.5 506.6,372.3 508.0,373.8 510.0,374.0" fill="none" stroke="#787878" stroke-width="1.05" stroke-linejoin="round"/>
<text x="434.34999999999997" y="320.1" font-size="5.6" font-weight="bold" text-anchor="middle" fill="#111" font-family="'DejaVu Sans', 'Liberation Sans', sans-serif" textLength="162.5" lengthAdjust="spacingAndGlyphs">Enrichment plot: M_PHASE_OF_MITOTIC_CELL_CYCLE</text>
<text x="474.8" y="335.5" font-size="9.8" fill="#1a1a1a" stroke="#1a1a1a" stroke-width="0.22" font-family="'Liberation Sans', Arial, sans-serif" textLength="38.3" lengthAdjust="spacingAndGlyphs">q = 0.065</text>
<rect x="372.4" y="383.6" width="142.60000000000002" height="19.0" fill="#fff" stroke="#c8c8c8" stroke-width="0.4"/>
<rect x="372.40" y="383.6" width="2.2" height="19.0" fill="#333"/>
<rect x="375.50" y="383.6" width="1.0" height="19.0" fill="#444"/>
<rect x="377.55" y="383.6" width="1.3" height="19.0" fill="#111"/>
<rect x="380.00" y="383.6" width="0.8" height="19.0" fill="#555"/>
<rect x="381.50" y="383.6" width="1.6" height="19.0" fill="#777"/>
<rect x="384.15" y="383.6" width="0.7" height="19.0" fill="#666"/>
<rect x="385.75" y="383.6" width="0.7" height="19.0" fill="#666"/>
<rect x="387.60" y="383.6" width="1.8" height="19.0" fill="#aaa"/>
<rect x="389.90" y="383.6" width="2.2" height="19.0" fill="#bbb"/>
<rect x="392.75" y="383.6" width="0.9" height="19.0" fill="#000"/>
<rect x="394.40" y="383.6" width="2.2" height="19.0" fill="#888"/>
<rect x="398.30" y="383.6" width="1.0" height="19.0" fill="#999"/>
<rect x="402.00" y="383.6" width="3.0" height="19.0" fill="#aaa"/>
<rect x="408.05" y="383.6" width="0.7" height="19.0" fill="#777"/>
<rect x="410.65" y="383.6" width="0.7" height="19.0" fill="#777"/>
<rect x="418.85" y="383.6" width="0.7" height="19.0" fill="#777"/>
<rect x="420.25" y="383.6" width="0.7" height="19.0" fill="#888"/>
<rect x="422.15" y="383.6" width="0.7" height="19.0" fill="#777"/>
<rect x="424.60" y="383.6" width="0.8" height="19.0" fill="#666"/>
<rect x="426.15" y="383.6" width="0.7" height="19.0" fill="#555"/>
<rect x="427.65" y="383.6" width="0.7" height="19.0" fill="#777"/>
<rect x="429.15" y="383.6" width="0.7" height="19.0" fill="#888"/>
<rect x="431.15" y="383.6" width="0.7" height="19.0" fill="#888"/>
<rect x="434.05" y="383.6" width="0.7" height="19.0" fill="#777"/>
<rect x="436.15" y="383.6" width="0.7" height="19.0" fill="#777"/>
<rect x="438.30" y="383.6" width="0.8" height="19.0" fill="#777"/>
<rect x="441.85" y="383.6" width="0.7" height="19.0" fill="#777"/>
<rect x="445.45" y="383.6" width="0.7" height="19.0" fill="#666"/>
<rect x="447.55" y="383.6" width="0.7" height="19.0" fill="#555"/>
<rect x="448.65" y="383.6" width="0.7" height="19.0" fill="#444"/>
<rect x="449.75" y="383.6" width="0.7" height="19.0" fill="#666"/>
<rect x="451.15" y="383.6" width="0.7" height="19.0" fill="#777"/>
<rect x="460.30" y="383.6" width="1.4" height="19.0" fill="#777"/>
<rect x="466.35" y="383.6" width="0.7" height="19.0" fill="#777"/>
<rect x="468.05" y="383.6" width="0.9" height="19.0" fill="#444"/>
<rect x="474.25" y="383.6" width="0.7" height="19.0" fill="#555"/>
<rect x="480.75" y="383.6" width="0.7" height="19.0" fill="#777"/>
<rect x="483.65" y="383.6" width="0.7" height="19.0" fill="#444"/>
<rect x="490.05" y="383.6" width="0.9" height="19.0" fill="#000"/>
<rect x="494.10" y="383.6" width="1.4" height="19.0" fill="#999"/>
<rect x="503.60" y="383.6" width="2.8" height="19.0" fill="#999"/>
<defs><linearGradient id="g5" x1="0" x2="1" y1="0" y2="0"><stop offset="0" stop-color="#5c5c5c"/><stop offset="0.17" stop-color="#626262"/><stop offset="0.19" stop-color="#787878"/><stop offset="0.29" stop-color="#7c7c7c"/><stop offset="0.31" stop-color="#8c8c8c"/><stop offset="0.37" stop-color="#8e8e8e"/><stop offset="0.4" stop-color="#c4c4c4"/><stop offset="0.63" stop-color="#c8c8c8"/><stop offset="0.65" stop-color="#afafaf"/><stop offset="0.73" stop-color="#afafaf"/><stop offset="0.75" stop-color="#787878"/><stop offset="0.82" stop-color="#747474"/><stop offset="0.84" stop-color="#505050"/><stop offset="0.97" stop-color="#484848"/><stop offset="1" stop-color="#303030"/></linearGradient></defs>
<rect x="372.4" y="402.6" width="136.8" height="5.0" fill="url(#g5)"/>
<rect x="507.0" y="402.6" width="2.2" height="5.0" fill="#000"/>
<rect x="350" y="416.8" width="167.29999999999995" height="93.5" fill="#fff" stroke="#9a9a9a" stroke-width="0.8"/>
<path d="M350.8,417.6 H516.5 V484.5 H515.0 V424.9 H371.6 V484.5 H350.8 Z" fill="#e8e8e8"/>
<rect x="371.6" y="424.9" width="143.39999999999998" height="59.60000000000002" fill="#fff" stroke="#b5b5b5" stroke-width="0.5"/>
<line x1="371.6" y1="426.5" x2="515.0" y2="426.5" stroke="#efefef" stroke-width="0.6"/>
<line x1="371.6" y1="431.56" x2="515.0" y2="431.56" stroke="#efefef" stroke-width="0.6"/>
<line x1="371.6" y1="436.62" x2="515.0" y2="436.62" stroke="#efefef" stroke-width="0.6"/>
<line x1="371.6" y1="441.68" x2="515.0" y2="441.68" stroke="#efefef" stroke-width="0.6"/>
<line x1="371.6" y1="446.74" x2="515.0" y2="446.74" stroke="#efefef" stroke-width="0.6"/>
<line x1="371.6" y1="451.8" x2="515.0" y2="451.8" stroke="#efefef" stroke-width="0.6"/>
<line x1="371.6" y1="456.86" x2="515.0" y2="456.86" stroke="#efefef" stroke-width="0.6"/>
<line x1="371.6" y1="461.92" x2="515.0" y2="461.92" stroke="#efefef" stroke-width="0.6"/>
<line x1="371.6" y1="466.98" x2="515.0" y2="466.98" stroke="#efefef" stroke-width="0.6"/>
<line x1="371.6" y1="472.04" x2="515.0" y2="472.04" stroke="#efefef" stroke-width="0.6"/>
<line x1="371.6" y1="477.1" x2="515.0" y2="477.1" stroke="#efefef" stroke-width="0.6"/>
<line x1="371.6" y1="482.16" x2="515.0" y2="482.16" stroke="#efefef" stroke-width="0.6"/>
<line x1="393.5" y1="424.9" x2="393.5" y2="484.5" stroke="#ebebeb" stroke-width="0.6"/>
<line x1="417.3" y1="424.9" x2="417.3" y2="484.5" stroke="#ebebeb" stroke-width="0.6"/>
<line x1="441" y1="424.9" x2="441" y2="484.5" stroke="#ebebeb" stroke-width="0.6"/>
<line x1="465" y1="424.9" x2="465" y2="484.5" stroke="#ebebeb" stroke-width="0.6"/>
<line x1="489" y1="424.9" x2="489" y2="484.5" stroke="#ebebeb" stroke-width="0.6"/>
<line x1="371.6" y1="451.8" x2="515.0" y2="451.8" stroke="#8c8c8c" stroke-width="0.7"/>
<text x="369.70000000000005" y="427.95" font-size="3.1" font-weight="bold" text-anchor="end" fill="#333" font-family="'DejaVu Sans', 'Liberation Sans', sans-serif">0.25</text>
<text x="369.70000000000005" y="433.01" font-size="3.1" font-weight="bold" text-anchor="end" fill="#333" font-family="'DejaVu Sans', 'Liberation Sans', sans-serif">0.20</text>
<text x="369.70000000000005" y="438.07" font-size="3.1" font-weight="bold" text-anchor="end" fill="#333" font-family="'DejaVu Sans', 'Liberation Sans', sans-serif">0.15</text>
<text x="369.70000000000005" y="443.13" font-size="3.1" font-weight="bold" text-anchor="end" fill="#333" font-family="'DejaVu Sans', 'Liberation Sans', sans-serif">0.10</text>
<text x="369.70000000000005" y="448.19" font-size="3.1" font-weight="bold" text-anchor="end" fill="#333" font-family="'DejaVu Sans', 'Liberation Sans', sans-serif">0.05</text>
<text x="369.70000000000005" y="453.25" font-size="3.1" font-weight="bold" text-anchor="end" fill="#333" font-family="'DejaVu Sans', 'Liberation Sans', sans-serif">0.00</text>
<text x="369.70000000000005" y="458.31" font-size="3.1" font-weight="bold" text-anchor="end" fill="#333" font-family="'DejaVu Sans', 'Liberation Sans', sans-serif">-0.05</text>
<text x="369.70000000000005" y="463.37" font-size="3.1" font-weight="bold" text-anchor="end" fill="#333" font-family="'DejaVu Sans', 'Liberation Sans', sans-serif">-0.10</text>
<text x="369.70000000000005" y="468.43" font-size="3.1" font-weight="bold" text-anchor="end" fill="#333" font-family="'DejaVu Sans', 'Liberation Sans', sans-serif">-0.15</text>
<text x="369.70000000000005" y="473.49" font-size="3.1" font-weight="bold" text-anchor="end" fill="#333" font-family="'DejaVu Sans', 'Liberation Sans', sans-serif">-0.20</text>
<text x="369.70000000000005" y="478.55" font-size="3.1" font-weight="bold" text-anchor="end" fill="#333" font-family="'DejaVu Sans', 'Liberation Sans', sans-serif">-0.25</text>
<text x="369.70000000000005" y="483.61" font-size="3.1" font-weight="bold" text-anchor="end" fill="#333" font-family="'DejaVu Sans', 'Liberation Sans', sans-serif">-0.30</text>
<text x="358.0" y="454.7" font-size="3.2" font-weight="bold" text-anchor="middle" fill="#3a3a3a" font-family="'DejaVu Sans', 'Liberation Sans', sans-serif" textLength="37" lengthAdjust="spacingAndGlyphs" transform="rotate(-90 358.0 454.7)">Enrichment score (ES)</text>
<polyline points="371.9,433.4 372.2,431.8 373.5,430.6 375.0,431.1 377.3,430.0 379.6,428.5 381.2,428.0 383.5,428.5 385.8,429.5 388.1,431.1 390.4,432.2 393.5,432.6 399.6,433.7 404.2,435.2 410.4,437.2 419.6,441.1 427.3,445.7 435.0,451.5 451.3,463.0 467.7,473.6 479.1,478.5 482.4,478.2 487.3,478.8 493.8,480.9 496.3,480.1 500.4,480.4 502.0,479.3 503.6,470.3 505.3,460.5 506.9,451.5" fill="none" stroke="#787878" stroke-width="1.05" stroke-linejoin="round"/>
<text x="433.65" y="422.3" font-size="5.6" font-weight="bold" text-anchor="middle" fill="#111" font-family="'DejaVu Sans', 'Liberation Sans', sans-serif" textLength="139.2" lengthAdjust="spacingAndGlyphs">Enrichment plot: REGULATION_OF_APOPTOSIS</text>
<text x="474.8" y="435.8" font-size="9.8" fill="#1a1a1a" stroke="#1a1a1a" stroke-width="0.22" font-family="'Liberation Sans', Arial, sans-serif" textLength="38.6" lengthAdjust="spacingAndGlyphs">q = 0.369</text>
<rect x="371.6" y="485.0" width="143.39999999999998" height="18.80000000000001" fill="#fff" stroke="#c8c8c8" stroke-width="0.4"/>
<rect x="372.30" y="485.0" width="1.1" height="18.80000000000001" fill="#333"/>
<rect x="373.40" y="485.0" width="0.7" height="18.80000000000001" fill="#333"/>
<rect x="374.25" y="485.0" width="0.7" height="18.80000000000001" fill="#555"/>
<rect x="375.10" y="485.0" width="0.7" height="18.80000000000001" fill="#888"/>
<rect x="375.80" y="485.0" width="0.7" height="18.80000000000001" fill="#333"/>
<rect x="376.50" y="485.0" width="1.4" height="18.80000000000001" fill="#333"/>
<rect x="377.90" y="485.0" width="0.7" height="18.80000000000001" fill="#888"/>
<rect x="378.60" y="485.0" width="0.7" height="18.80000000000001" fill="#111"/>
<rect x="379.30" y="485.0" width="0.9" height="18.80000000000001" fill="#000"/>
<rect x="380.50" y="485.0" width="1.8" height="18.80000000000001" fill="#222"/>
<rect x="384.25" y="485.0" width="0.7" height="18.80000000000001" fill="#444"/>
<rect x="384.95" y="485.0" width="1.8" height="18.80000000000001" fill="#333"/>
<rect x="389.95" y="485.0" width="1.8" height="18.80000000000001" fill="#444"/>
<rect x="394.75" y="485.0" width="0.9" height="18.80000000000001" fill="#555"/>
<rect x="395.65" y="485.0" width="1.8" height="18.80000000000001" fill="#333"/>
<rect x="397.60" y="485.0" width="0.7" height="18.80000000000001" fill="#111"/>
<rect x="398.30" y="485.0" width="1.4" height="18.80000000000001" fill="#000"/>
<rect x="399.85" y="485.0" width="1.4" height="18.80000000000001" fill="#555"/>
<rect x="403.05" y="485.0" width="1.1" height="18.80000000000001" fill="#444"/>
<rect x="404.15" y="485.0" width="0.9" height="18.80000000000001" fill="#444"/>
<rect x="405.05" y="485.0" width="1.8" height="18.80000000000001" fill="#444"/>
<rect x="408.40" y="485.0" width="1.4" height="18.80000000000001" fill="#444"/>
<rect x="409.95" y="485.0" width="0.7" height="18.80000000000001" fill="#333"/>
<rect x="410.80" y="485.0" width="1.4" height="18.80000000000001" fill="#333"/>
<rect x="412.20" y="485.0" width="0.9" height="18.80000000000001" fill="#777"/>
<rect x="413.10" y="485.0" width="0.7" height="18.80000000000001" fill="#000"/>
<rect x="413.80" y="485.0" width="1.8" height="18.80000000000001" fill="#111"/>
<rect x="415.60" y="485.0" width="1.1" height="18.80000000000001" fill="#555"/>
<rect x="416.85" y="485.0" width="1.4" height="18.80000000000001" fill="#111"/>
<rect x="418.25" y="485.0" width="0.7" height="18.80000000000001" fill="#333"/>
<rect x="418.95" y="485.0" width="1.4" height="18.80000000000001" fill="#000"/>
<rect x="420.35" y="485.0" width="0.7" height="18.80000000000001" fill="#444"/>
<rect x="421.35" y="485.0" width="1.8" height="18.80000000000001" fill="#000"/>
<rect x="423.15" y="485.0" width="1.1" height="18.80000000000001" fill="#666"/>
<rect x="424.55" y="485.0" width="1.1" height="18.80000000000001" fill="#222"/>
<rect x="425.65" y="485.0" width="1.1" height="18.80000000000001" fill="#333"/>
<rect x="426.90" y="485.0" width="0.7" height="18.80000000000001" fill="#777"/>
<rect x="427.60" y="485.0" width="0.9" height="18.80000000000001" fill="#444"/>
<rect x="428.50" y="485.0" width="0.9" height="18.80000000000001" fill="#666"/>
<rect x="429.40" y="485.0" width="1.4" height="18.80000000000001" fill="#333"/>
<rect x="430.80" y="485.0" width="1.4" height="18.80000000000001" fill="#666"/>
<rect x="432.35" y="485.0" width="1.1" height="18.80000000000001" fill="#333"/>
<rect x="433.45" y="485.0" width="1.8" height="18.80000000000001" fill="#444"/>
<rect x="435.55" y="485.0" width="1.4" height="18.80000000000001" fill="#555"/>
<rect x="437.25" y="485.0" width="1.4" height="18.80000000000001" fill="#444"/>
<rect x="438.65" y="485.0" width="0.7" height="18.80000000000001" fill="#333"/>
<rect x="439.35" y="485.0" width="0.9" height="18.80000000000001" fill="#000"/>
<rect x="440.95" y="485.0" width="1.8" height="18.80000000000001" fill="#333"/>
<rect x="442.75" y="485.0" width="1.1" height="18.80000000000001" fill="#222"/>
<rect x="443.85" y="485.0" width="1.4" height="18.80000000000001" fill="#888"/>
<rect x="445.25" y="485.0" width="1.8" height="18.80000000000001" fill="#111"/>
<rect x="447.05" y="485.0" width="0.9" height="18.80000000000001" fill="#888"/>
<rect x="448.10" y="485.0" width="0.7" height="18.80000000000001" fill="#777"/>
<rect x="449.10" y="485.0" width="1.8" height="18.80000000000001" fill="#666"/>
<rect x="450.90" y="485.0" width="1.4" height="18.80000000000001" fill="#666"/>
<rect x="452.30" y="485.0" width="1.4" height="18.80000000000001" fill="#000"/>
<rect x="453.70" y="485.0" width="0.7" height="18.80000000000001" fill="#444"/>
<rect x="455.30" y="485.0" width="0.9" height="18.80000000000001" fill="#333"/>
<rect x="456.20" y="485.0" width="1.8" height="18.80000000000001" fill="#222"/>
<rect x="458.00" y="485.0" width="0.7" height="18.80000000000001" fill="#111"/>
<rect x="458.70" y="485.0" width="1.8" height="18.80000000000001" fill="#333"/>
<rect x="460.50" y="485.0" width="1.8" height="18.80000000000001" fill="#222"/>
<rect x="462.30" y="485.0" width="0.9" height="18.80000000000001" fill="#111"/>
<rect x="463.20" y="485.0" width="0.9" height="18.80000000000001" fill="#000"/>
<rect x="464.10" y="485.0" width="1.1" height="18.80000000000001" fill="#111"/>
<rect x="465.20" y="485.0" width="1.4" height="18.80000000000001" fill="#333"/>
<rect x="466.60" y="485.0" width="1.4" height="18.80000000000001" fill="#777"/>
<rect x="468.00" y="485.0" width="1.4" height="18.80000000000001" fill="#444"/>
<rect x="469.40" y="485.0" width="0.9" height="18.80000000000001" fill="#333"/>
<rect x="470.60" y="485.0" width="1.1" height="18.80000000000001" fill="#444"/>
<rect x="473.45" y="485.0" width="1.8" height="18.80000000000001" fill="#555"/>
<rect x="475.25" y="485.0" width="1.8" height="18.80000000000001" fill="#222"/>
<rect x="477.20" y="485.0" width="1.1" height="18.80000000000001" fill="#000"/>
<rect x="478.30" y="485.0" width="1.1" height="18.80000000000001" fill="#888"/>
<rect x="479.40" y="485.0" width="0.9" height="18.80000000000001" fill="#555"/>
<rect x="480.30" y="485.0" width="1.8" height="18.80000000000001" fill="#888"/>
<rect x="482.25" y="485.0" width="1.1" height="18.80000000000001" fill="#000"/>
<rect x="483.35" y="485.0" width="1.8" height="18.80000000000001" fill="#444"/>
<rect x="485.15" y="485.0" width="1.4" height="18.80000000000001" fill="#444"/>
<rect x="486.55" y="485.0" width="1.8" height="18.80000000000001" fill="#777"/>
<rect x="488.35" y="485.0" width="0.7" height="18.80000000000001" fill="#222"/>
<rect x="489.05" y="485.0" width="1.4" height="18.80000000000001" fill="#444"/>
<rect x="490.45" y="485.0" width="1.8" height="18.80000000000001" fill="#555"/>
<rect x="492.25" y="485.0" width="1.1" height="18.80000000000001" fill="#555"/>
<rect x="495.15" y="485.0" width="0.9" height="18.80000000000001" fill="#555"/>
<rect x="496.05" y="485.0" width="1.4" height="18.80000000000001" fill="#111"/>
<rect x="497.60" y="485.0" width="0.7" height="18.80000000000001" fill="#777"/>
<rect x="498.60" y="485.0" width="1.1" height="18.80000000000001" fill="#000"/>
<rect x="499.70" y="485.0" width="0.7" height="18.80000000000001" fill="#666"/>
<rect x="500.70" y="485.0" width="0.9" height="18.80000000000001" fill="#777"/>
<rect x="501.60" y="485.0" width="1.4" height="18.80000000000001" fill="#000"/>
<rect x="503.00" y="485.0" width="0.7" height="18.80000000000001" fill="#666"/>
<rect x="503.70" y="485.0" width="1.4" height="18.80000000000001" fill="#333"/>
<rect x="505.40" y="485.0" width="0.9" height="18.80000000000001" fill="#333"/>
<rect x="506.30" y="485.0" width="0.7" height="18.80000000000001" fill="#333"/>
<defs><linearGradient id="g6" x1="0" x2="1" y1="0" y2="0"><stop offset="0" stop-color="#5c5c5c"/><stop offset="0.17" stop-color="#626262"/><stop offset="0.19" stop-color="#787878"/><stop offset="0.29" stop-color="#7c7c7c"/><stop offset="0.31" stop-color="#8c8c8c"/><stop offset="0.37" stop-color="#8e8e8e"/><stop offset="0.4" stop-color="#c4c4c4"/><stop offset="0.63" stop-color="#c8c8c8"/><stop offset="0.65" stop-color="#afafaf"/><stop offset="0.73" stop-color="#afafaf"/><stop offset="0.75" stop-color="#787878"/><stop offset="0.82" stop-color="#747474"/><stop offset="0.84" stop-color="#505050"/><stop offset="0.97" stop-color="#484848"/><stop offset="1" stop-color="#303030"/></linearGradient></defs>
<rect x="371.6" y="503.8" width="134.89999999999998" height="5.0" fill="url(#g6)"/>
<rect x="504.3" y="503.8" width="2.2" height="5.0" fill="#000"/>
<text x="0" y="306.7" font-size="12" font-weight="bold" font-family="'Liberation Sans', Arial, sans-serif">D</text>
<text x="171.2" y="306.8" font-size="12" font-weight="bold" font-family="'Liberation Sans', Arial, sans-serif">E</text>
<text x="348.3" y="306.8" font-size="12" font-weight="bold" font-family="'Liberation Sans', Arial, sans-serif">F</text>
</svg>
</body></html>
